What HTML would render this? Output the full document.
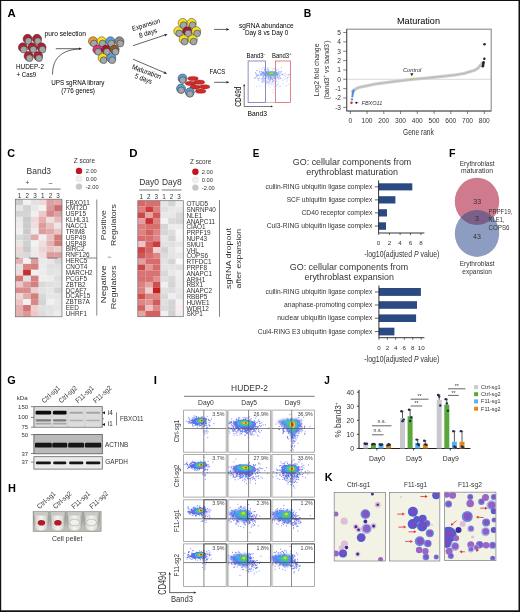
<!DOCTYPE html>
<html><head><meta charset="utf-8"><style>
html,body{margin:0;padding:0;background:#fff;width:520px;height:612px;overflow:hidden}
svg{display:block;will-change:transform}
text{font-family:"Liberation Sans",sans-serif}
</style></head><body>
<svg width="520" height="612" viewBox="0 0 520 612">
<defs><filter id="bl" x="-20%" y="-50%" width="140%" height="200%"><feGaussianBlur stdDeviation="0.45"/></filter><filter id="bl2" x="-30%" y="-30%" width="160%" height="160%"><feGaussianBlur stdDeviation="0.6"/></filter><filter id="bl3" x="-30%" y="-30%" width="160%" height="160%"><feGaussianBlur stdDeviation="0.9"/></filter></defs>
<rect x="0" y="0" width="520" height="612" fill="#fff"/>
<text x="7.6" y="17.1" font-size="10.3" font-weight="bold" fill="#000" textLength="8.2" lengthAdjust="spacingAndGlyphs" >A</text>
<circle cx="27.60" cy="38.90" r="4.55" fill="#b21f2f" stroke="#3a1a1a" stroke-width="0.45" />
<circle cx="28.50" cy="41.10" r="3.40" fill="#a3a6a9" stroke="#2e2e2e" stroke-width="0.5" />
<circle cx="37.00" cy="38.90" r="4.55" fill="#b21f2f" stroke="#3a1a1a" stroke-width="0.45" />
<circle cx="37.90" cy="41.10" r="3.40" fill="#a3a6a9" stroke="#2e2e2e" stroke-width="0.5" />
<circle cx="22.90" cy="47.40" r="4.55" fill="#b21f2f" stroke="#3a1a1a" stroke-width="0.45" />
<circle cx="23.80" cy="49.60" r="3.40" fill="#a3a6a9" stroke="#2e2e2e" stroke-width="0.5" />
<circle cx="32.40" cy="47.40" r="4.55" fill="#b21f2f" stroke="#3a1a1a" stroke-width="0.45" />
<circle cx="33.30" cy="49.60" r="3.40" fill="#a3a6a9" stroke="#2e2e2e" stroke-width="0.5" />
<circle cx="41.50" cy="47.40" r="4.55" fill="#b21f2f" stroke="#3a1a1a" stroke-width="0.45" />
<circle cx="42.40" cy="49.60" r="3.40" fill="#a3a6a9" stroke="#2e2e2e" stroke-width="0.5" />
<circle cx="28.60" cy="56.00" r="4.55" fill="#b21f2f" stroke="#3a1a1a" stroke-width="0.45" />
<circle cx="29.50" cy="58.20" r="3.40" fill="#a3a6a9" stroke="#2e2e2e" stroke-width="0.5" />
<circle cx="38.10" cy="56.00" r="4.55" fill="#b21f2f" stroke="#3a1a1a" stroke-width="0.45" />
<circle cx="39.00" cy="58.20" r="3.40" fill="#a3a6a9" stroke="#2e2e2e" stroke-width="0.5" />
<text x="16" y="69" font-size="6.8" textLength="28" lengthAdjust="spacingAndGlyphs" >HUDEP-2</text>
<text x="16.6" y="76.8" font-size="6.8" textLength="19.5" lengthAdjust="spacingAndGlyphs" >+ Cas9</text>
<text x="44.6" y="36.0" font-size="6.8" textLength="41.4" lengthAdjust="spacingAndGlyphs" >puro selection</text>
<line x1="55.8" y1="48.7" x2="79.0" y2="48.7" stroke="#231f20" stroke-width="0.7" />
<path d="M82.00,48.70 L79.00,50.00 L79.00,47.40 Z" fill="#231f20"/>
<path d="M52.5,74.5 C52.5,58 62,50 79,49" fill="none" stroke="#231f20" stroke-width="0.7"/>
<text x="51.2" y="85.2" font-size="6.8" textLength="53.3" lengthAdjust="spacingAndGlyphs" >UPS sgRNA library</text>
<text x="61.2" y="92.9" font-size="6.8" textLength="33.8" lengthAdjust="spacingAndGlyphs" >(776 genes)</text>
<circle cx="93.00" cy="41.30" r="4.55" fill="#eb9d2c" stroke="#3a1a1a" stroke-width="0.45" />
<circle cx="93.90" cy="43.50" r="3.40" fill="#a3a6a9" stroke="#2e2e2e" stroke-width="0.5" />
<circle cx="101.70" cy="41.30" r="4.55" fill="#f2e31b" stroke="#3a1a1a" stroke-width="0.45" />
<circle cx="102.60" cy="43.50" r="3.40" fill="#a3a6a9" stroke="#2e2e2e" stroke-width="0.5" />
<circle cx="110.40" cy="41.30" r="4.55" fill="#4ea6df" stroke="#3a1a1a" stroke-width="0.45" />
<circle cx="111.30" cy="43.50" r="3.40" fill="#a3a6a9" stroke="#2e2e2e" stroke-width="0.5" />
<circle cx="119.40" cy="41.30" r="4.55" fill="#8a8a8a" stroke="#3a1a1a" stroke-width="0.45" />
<circle cx="120.30" cy="43.50" r="3.40" fill="#a3a6a9" stroke="#2e2e2e" stroke-width="0.5" />
<circle cx="97.30" cy="49.60" r="4.55" fill="#e0327f" stroke="#3a1a1a" stroke-width="0.45" />
<circle cx="98.20" cy="51.80" r="3.40" fill="#a3a6a9" stroke="#2e2e2e" stroke-width="0.5" />
<circle cx="106.00" cy="49.60" r="4.55" fill="#a5192a" stroke="#3a1a1a" stroke-width="0.45" />
<circle cx="106.90" cy="51.80" r="3.40" fill="#a3a6a9" stroke="#2e2e2e" stroke-width="0.5" />
<circle cx="114.60" cy="49.60" r="4.55" fill="#8d5a2a" stroke="#3a1a1a" stroke-width="0.45" />
<circle cx="115.50" cy="51.80" r="3.40" fill="#a3a6a9" stroke="#2e2e2e" stroke-width="0.5" />
<circle cx="102.70" cy="58.00" r="4.55" fill="#f2e31b" stroke="#3a1a1a" stroke-width="0.45" />
<circle cx="103.60" cy="60.20" r="3.40" fill="#a3a6a9" stroke="#2e2e2e" stroke-width="0.5" />
<circle cx="111.30" cy="58.00" r="4.55" fill="#4ea6df" stroke="#3a1a1a" stroke-width="0.45" />
<circle cx="112.20" cy="60.20" r="3.40" fill="#a3a6a9" stroke="#2e2e2e" stroke-width="0.5" />
<line x1="133" y1="45.7" x2="164.65395010584845" y2="35.148683298050514" stroke="#231f20" stroke-width="0.7" />
<path d="M167.50,34.20 L165.07,36.38 L164.24,33.92 Z" fill="#231f20"/>
<line x1="133" y1="59.2" x2="164.2404702258237" y2="72.52314171395423" stroke="#231f20" stroke-width="0.7" />
<path d="M167.00,73.70 L163.73,73.72 L164.75,71.33 Z" fill="#231f20"/>
<text transform="translate(146.6,27.0) rotate(-17) scale(0.8963,1)" font-size="7.0" text-anchor="middle" >Expansion</text>
<text transform="translate(148.6,35.2) rotate(-17) scale(0.8970,1)" font-size="7.0" text-anchor="middle" >8 days</text>
<text transform="translate(145.8,74.0) rotate(20) scale(0.8966,1)" font-size="7.2" text-anchor="middle" >Maturation</text>
<text transform="translate(142.7,81.0) rotate(20) scale(0.8485,1)" font-size="7.2" text-anchor="middle" >5 days</text>
<circle cx="182.70" cy="23.00" r="4.55" fill="#f2e31b" stroke="#3a1a1a" stroke-width="0.45" />
<circle cx="183.60" cy="25.20" r="3.40" fill="#a3a6a9" stroke="#2e2e2e" stroke-width="0.5" />
<circle cx="191.70" cy="23.00" r="4.55" fill="#f2e31b" stroke="#3a1a1a" stroke-width="0.45" />
<circle cx="192.60" cy="25.20" r="3.40" fill="#a3a6a9" stroke="#2e2e2e" stroke-width="0.5" />
<circle cx="178.30" cy="31.20" r="4.55" fill="#f2e31b" stroke="#3a1a1a" stroke-width="0.45" />
<circle cx="179.20" cy="33.40" r="3.40" fill="#a3a6a9" stroke="#2e2e2e" stroke-width="0.5" />
<circle cx="187.30" cy="31.20" r="4.55" fill="#a5192a" stroke="#3a1a1a" stroke-width="0.45" />
<circle cx="188.20" cy="33.40" r="3.40" fill="#a3a6a9" stroke="#2e2e2e" stroke-width="0.5" />
<circle cx="196.20" cy="31.20" r="4.55" fill="#f2e31b" stroke="#3a1a1a" stroke-width="0.45" />
<circle cx="197.10" cy="33.40" r="3.40" fill="#a3a6a9" stroke="#2e2e2e" stroke-width="0.5" />
<circle cx="183.70" cy="39.40" r="4.55" fill="#f2e31b" stroke="#3a1a1a" stroke-width="0.45" />
<circle cx="184.60" cy="41.60" r="3.40" fill="#a3a6a9" stroke="#2e2e2e" stroke-width="0.5" />
<circle cx="192.70" cy="39.40" r="4.55" fill="#f2e31b" stroke="#3a1a1a" stroke-width="0.45" />
<circle cx="193.60" cy="41.60" r="3.40" fill="#a3a6a9" stroke="#2e2e2e" stroke-width="0.5" />
<line x1="214" y1="29.4" x2="226.3" y2="29.4" stroke="#231f20" stroke-width="0.7" />
<path d="M229.30,29.40 L226.30,30.70 L226.30,28.10 Z" fill="#231f20"/>
<text x="239.1" y="27.6" font-size="6.3" textLength="54.5" lengthAdjust="spacingAndGlyphs" >sgRNA abundance</text>
<text x="244.9" y="35.3" font-size="6.3" textLength="43.4" lengthAdjust="spacingAndGlyphs" >Day 8 vs Day 0</text>
<ellipse cx="193" cy="78.5" rx="5.2" ry="2.1" fill="#d42a26" stroke="#6a1010" stroke-width="0.35"/>
<ellipse cx="199.4" cy="82.2" rx="5.2" ry="2.1" fill="#d42a26" stroke="#6a1010" stroke-width="0.35"/>
<ellipse cx="190.5" cy="83.4" rx="5.2" ry="2.1" fill="#d42a26" stroke="#6a1010" stroke-width="0.35"/>
<ellipse cx="195.2" cy="87.1" rx="5.2" ry="2.1" fill="#d42a26" stroke="#6a1010" stroke-width="0.35"/>
<ellipse cx="204.6" cy="86.8" rx="5.2" ry="2.1" fill="#d42a26" stroke="#6a1010" stroke-width="0.35"/>
<ellipse cx="200.6" cy="91.2" rx="5.2" ry="2.1" fill="#d42a26" stroke="#6a1010" stroke-width="0.35"/>
<circle cx="182.50" cy="78.50" r="4.50" fill="#4ea6df" stroke="#3a1a1a" stroke-width="0.45" />
<circle cx="182.70" cy="80.10" r="3.30" fill="#a3a6a9" stroke="#2e2e2e" stroke-width="0.5" />
<circle cx="181.00" cy="88.60" r="4.50" fill="#4ea6df" stroke="#3a1a1a" stroke-width="0.45" />
<circle cx="181.20" cy="90.20" r="3.30" fill="#a3a6a9" stroke="#2e2e2e" stroke-width="0.5" />
<circle cx="189.80" cy="92.30" r="4.50" fill="#4ea6df" stroke="#3a1a1a" stroke-width="0.45" />
<circle cx="190.00" cy="93.90" r="3.30" fill="#a3a6a9" stroke="#2e2e2e" stroke-width="0.5" />
<text x="209.6" y="74.1" font-size="6.8" textLength="15.6" lengthAdjust="spacingAndGlyphs" >FACS</text>
<line x1="214.2" y1="82.3" x2="226.4" y2="82.3" stroke="#231f20" stroke-width="0.7" />
<path d="M229.40,82.30 L226.40,83.60 L226.40,81.00 Z" fill="#231f20"/>
<text x="246.5" y="57.8" font-size="6.3" textLength="17.0" lengthAdjust="spacingAndGlyphs" >Band3</text>
<text x="263.6" y="55.0" font-size="4" >-</text>
<text x="272.1" y="57.8" font-size="6.3" textLength="17.0" lengthAdjust="spacingAndGlyphs" >Band3</text>
<text x="289.0" y="55.3" font-size="4.2" >+</text>
<rect x="248.10" y="61.00" width="17.50" height="41.40" fill="none" stroke="#5560a8" stroke-width="0.7" />
<rect x="275.50" y="61.00" width="15.00" height="41.40" fill="none" stroke="#d05050" stroke-width="0.7" />
<line x1="265.6" y1="102.4" x2="275.5" y2="102.4" stroke="#888" stroke-width="0.5" />
<line x1="244.2" y1="106.5" x2="244.2" y2="86.2" stroke="#231f20" stroke-width="0.6" />
<path d="M244.20,84.00 L245.30,86.20 L243.10,86.20 Z" fill="#231f20"/>
<line x1="244.2" y1="106.5" x2="270.8" y2="106.5" stroke="#231f20" stroke-width="0.6" />
<path d="M273.00,106.50 L270.80,107.60 L270.80,105.40 Z" fill="#231f20"/>
<text transform="translate(241.0,96.7) rotate(-90) scale(0.6760,1)" font-size="9.6" text-anchor="middle" >CD49d</text>
<text x="247.6" y="115.8" font-size="7.8" textLength="19.4" lengthAdjust="spacingAndGlyphs" >Band3</text>
<path d="M259.8 76.7h0M276.5 73.9h0M259.0 75.3h0M272.6 79.0h0M259.9 71.4h0M274.3 77.0h0M280.5 78.6h0M268.2 74.6h0M288.3 74.6h0M263.1 71.9h0M269.7 76.0h0M266.4 75.3h0M271.0 77.7h0M277.2 76.2h0M255.6 77.7h0M258.4 75.0h0M257.9 75.5h0M263.2 76.2h0M275.3 71.3h0M266.8 77.6h0M268.3 76.7h0M269.8 72.3h0M273.2 72.9h0M283.0 73.9h0M274.1 75.5h0M276.1 73.6h0M276.5 75.1h0M278.5 77.5h0M270.1 73.0h0M274.8 77.0h0M281.3 74.3h0M273.2 77.1h0M271.1 76.2h0M270.4 73.6h0M261.4 74.2h0M273.4 80.3h0M276.3 78.9h0M274.8 77.7h0M270.4 78.0h0M282.3 74.5h0M263.8 81.8h0M270.8 78.6h0M275.6 71.9h0M287.3 81.2h0M270.3 77.9h0M270.0 72.7h0M268.2 76.7h0M277.4 77.8h0M269.4 79.8h0M263.3 78.0h0M277.3 74.6h0M255.6 72.6h0M270.8 77.2h0M280.6 72.3h0M269.0 77.6h0M267.8 67.9h0M275.0 82.9h0M276.5 72.6h0M265.9 76.2h0M287.7 77.5h0M269.9 80.5h0M268.4 81.5h0M263.9 74.0h0M274.4 80.1h0M273.9 76.5h0M255.3 73.2h0M264.4 73.8h0M273.4 74.4h0M274.9 75.8h0M266.5 75.9h0M272.2 78.2h0M265.4 74.8h0M258.8 80.6h0M279.9 74.9h0M265.4 71.5h0M270.3 76.2h0M285.4 76.3h0M263.2 67.7h0M279.6 76.1h0M256.9 76.1h0M256.9 86.6h0M277.4 77.3h0M267.7 68.7h0M268.1 70.5h0M273.5 68.7h0M262.2 79.4h0M281.3 71.7h0M257.5 78.3h0M275.4 72.3h0M263.8 73.3h0M260.1 73.3h0M278.4 77.7h0M284.4 75.2h0M268.0 72.4h0M268.1 71.3h0M255.7 77.7h0M279.8 78.2h0M279.0 76.3h0M263.6 75.8h0M266.2 71.9h0M256.3 70.8h0M269.0 76.0h0M265.4 80.1h0M270.3 77.4h0M278.1 72.9h0M254.2 77.9h0M263.8 79.7h0M271.5 78.7h0M274.7 68.8h0M274.4 73.3h0M263.3 74.1h0M274.8 78.3h0M276.6 70.2h0M264.6 67.9h0M268.2 77.4h0M263.3 76.3h0M270.7 78.7h0M262.8 72.8h0M263.3 81.1h0M277.2 75.1h0M270.7 75.9h0M270.5 74.8h0M266.5 71.5h0M264.2 80.8h0M273.0 75.7h0M267.4 75.7h0M271.7 73.4h0M270.5 76.3h0M263.4 73.0h0M261.5 72.1h0M275.7 67.9h0M267.0 73.5h0M264.4 75.8h0M277.5 75.7h0M267.9 73.5h0M268.0 78.4h0M266.0 71.8h0M259.5 72.0h0M258.6 79.0h0M271.7 74.7h0M279.9 73.4h0M274.6 78.1h0M257.4 70.5h0M262.0 78.4h0M278.7 71.6h0M276.9 74.3h0M266.0 73.7h0M266.6 69.7h0M261.5 71.5h0M272.7 82.2h0M289.5 74.4h0M256.1 74.2h0M262.0 81.8h0M273.3 73.2h0M276.0 77.2h0M256.8 73.8h0M267.2 75.6h0M270.0 74.4h0M270.4 73.6h0M262.3 80.4h0M271.7 76.9h0M257.0 75.0h0M275.1 71.4h0M277.2 74.3h0M272.0 75.1h0M270.6 79.4h0M266.0 80.5h0M263.1 72.5h0M274.3 72.1h0M266.2 78.4h0M278.1 69.8h0M272.8 81.5h0M278.0 74.7h0M264.5 74.6h0M260.4 74.7h0M267.6 75.0h0M277.9 74.8h0M258.1 78.9h0M261.0 74.1h0M268.0 74.4h0M261.5 74.7h0M285.4 73.6h0M268.0 79.1h0M274.6 77.9h0M275.5 69.2h0M262.5 75.9h0M272.7 79.6h0M272.5 74.7h0M269.3 74.8h0M270.9 77.7h0M266.5 72.9h0M262.6 79.0h0M278.6 78.7h0M275.4 78.2h0M269.0 77.6h0M261.1 74.9h0M263.5 77.8h0M264.7 75.2h0M272.0 79.8h0M263.1 72.5h0M275.1 72.0h0M272.4 73.7h0M268.2 69.7h0M274.4 73.9h0M262.3 82.1h0M274.3 86.7h0M272.1 74.4h0M269.8 80.6h0M268.8 76.9h0M272.9 72.6h0M270.0 73.9h0M259.7 78.3h0M274.0 75.7h0M262.2 69.1h0M272.6 75.2h0M256.4 75.3h0M257.6 75.4h0M270.1 76.6h0M270.6 76.0h0M260.5 74.3h0M265.2 74.7h0M271.0 77.5h0M281.3 67.3h0M272.0 74.9h0M286.1 78.5h0M256.6 76.8h0M265.1 78.7h0M261.1 75.2h0M268.0 75.2h0M264.6 69.6h0M272.5 78.7h0M268.5 72.2h0M270.5 77.3h0M267.7 75.5h0M279.6 71.9h0M264.8 69.4h0M263.8 73.1h0M261.8 73.3h0M282.5 74.9h0M268.1 82.5h0M268.5 70.0h0M272.0 72.5h0M281.3 71.5h0M264.6 70.4h0M269.7 72.3h0M268.5 74.3h0M264.4 78.5h0M276.0 75.7h0M262.2 72.1h0M271.0 83.2h0M265.6 73.0h0M263.8 72.0h0M261.7 74.8h0M279.8 75.5h0M265.2 70.3h0M270.6 75.4h0M259.8 72.0h0M268.7 78.7h0M273.7 76.2h0" stroke="#8090f0" stroke-width="0.6" stroke-linecap="square"/>
<path d="M270.4 81.4h0M272.9 89.8h0M263.9 78.3h0M283.1 78.8h0M284.4 79.8h0M274.2 78.3h0M262.0 75.6h0M290.7 82.9h0M277.8 84.3h0M277.6 84.6h0M270.9 79.0h0M280.9 78.4h0M262.4 79.0h0M268.6 82.8h0M267.2 75.2h0M270.3 87.0h0M272.6 80.7h0M273.1 81.3h0M280.4 86.3h0M259.8 86.1h0M273.0 78.6h0M288.6 84.4h0M264.8 82.2h0M278.9 79.4h0M254.4 78.5h0M271.5 75.0h0M287.6 78.9h0M269.9 78.7h0M266.7 76.5h0M273.8 81.4h0M268.9 79.6h0M261.9 82.3h0M267.0 81.0h0M265.7 77.7h0M274.7 74.5h0M272.4 76.7h0M285.8 86.2h0M275.4 73.8h0M269.0 82.8h0M268.9 74.7h0M263.5 76.5h0M273.1 77.1h0M273.1 92.6h0M287.2 75.3h0M275.7 80.4h0M271.9 84.7h0M270.3 78.5h0M270.0 79.5h0M283.3 83.5h0M262.3 78.0h0M266.6 83.7h0M274.8 84.0h0M272.5 71.4h0M276.6 81.0h0M277.1 74.1h0M273.7 76.9h0M267.5 81.6h0M275.8 76.0h0M259.3 68.9h0M268.4 85.1h0M272.6 69.9h0M266.1 81.9h0M286.4 85.3h0M275.9 80.9h0M264.5 78.0h0M270.3 76.5h0M273.5 78.2h0M275.7 86.5h0M278.9 81.9h0M271.1 73.2h0M272.1 82.4h0M264.9 85.6h0M270.3 81.7h0M270.4 74.3h0M289.5 74.8h0M280.3 77.5h0M275.2 76.4h0M269.7 84.1h0M288.6 76.2h0M273.1 84.3h0M268.0 83.2h0M266.7 82.7h0M276.5 85.5h0M275.9 74.6h0M278.3 75.0h0M279.0 86.8h0M277.8 77.5h0M282.5 80.8h0" stroke="#a0b0f8" stroke-width="0.6" stroke-linecap="square"/>
<g filter="url(#bl2)"><ellipse cx="270.50" cy="73.60" rx="9" ry="2.6" fill="#7a8cf0" opacity="0.55" transform="rotate(0 270.50 73.60)"/><ellipse cx="271.00" cy="73.30" rx="6.0" ry="1.8" fill="#40b8e0" opacity="0.8" transform="rotate(0 271.00 73.30)"/><ellipse cx="271.30" cy="73.30" rx="4.0" ry="1.3" fill="#70c850" opacity="0.95" transform="rotate(0 271.30 73.30)"/><ellipse cx="271.50" cy="73.20" rx="2.0" ry="0.8" fill="#c8d840" opacity="0.9" transform="rotate(0 271.50 73.20)"/></g>
<text x="303.8" y="17.0" font-size="10.3" font-weight="bold" fill="#000" textLength="7.5" lengthAdjust="spacingAndGlyphs" >B</text>
<text x="397" y="23.7" font-size="9.2" textLength="43" lengthAdjust="spacingAndGlyphs" >Maturation</text>
<line x1="346.7" y1="79.3" x2="491.2" y2="79.3" stroke="#b0b0b0" stroke-width="0.5" />
<path d="M352.31,91.47 L352.81,91.12 L353.31,90.77 L353.82,90.41 L354.32,90.06 L354.82,89.71 L355.32,89.36 L355.83,89.01 L356.33,88.66 L356.83,88.31 L357.34,88.08 L357.84,87.91 L358.34,87.74 L358.84,87.57 L359.35,87.41 L359.85,87.24 L360.35,87.07 L360.85,86.97 L361.36,86.87 L361.86,86.77 L362.36,86.67 L362.86,86.58 L363.37,86.48 L363.87,86.38 L364.37,86.28 L364.87,86.18 L365.38,86.08 L365.88,85.98 L366.38,85.88 L366.88,85.78 L367.38,85.68 L367.89,85.57 L368.39,85.46 L368.89,85.36 L369.40,85.25 L369.90,85.15 L370.40,85.04 L370.90,84.93 L371.41,84.83 L371.91,84.72 L372.41,84.62 L372.91,84.51 L373.42,84.40 L373.92,84.30 L374.42,84.19 L374.92,84.09 L375.43,83.98 L375.93,83.91 L376.43,83.85 L376.93,83.78 L377.44,83.71 L377.94,83.64 L378.44,83.58 L378.94,83.51 L379.44,83.44 L379.95,83.37 L380.45,83.31 L380.95,83.24 L381.46,83.17 L381.96,83.10 L382.46,83.04 L382.96,82.97 L383.47,82.90 L383.97,82.84 L384.47,82.77 L384.97,82.71 L385.48,82.65 L385.98,82.58 L386.48,82.52 L386.98,82.45 L387.49,82.39 L387.99,82.33 L388.49,82.26 L388.99,82.20 L389.50,82.14 L390.00,82.07 L390.50,82.01 L391.00,81.95 L391.50,81.88 L392.01,81.82 L392.51,81.76 L393.01,81.69 L393.51,81.63 L394.02,81.57 L394.52,81.50 L395.02,81.44 L395.53,81.38 L396.03,81.31 L396.53,81.25 L397.03,81.19 L397.54,81.12 L398.04,81.06 L398.54,80.99 L399.04,80.93 L399.55,80.87 L400.05,80.80 L400.55,80.74 L401.05,80.68 L401.56,80.61 L402.06,80.55 L402.56,80.49 L403.06,80.42 L403.56,80.36 L404.07,80.30 L404.57,80.24 L405.07,80.18 L405.58,80.12 L406.08,80.06 L406.58,79.99 L407.08,79.93 L407.59,79.87 L408.09,79.81 L408.59,79.75 L409.09,79.69 L409.60,79.63 L410.10,79.57 L410.60,79.50 L411.10,79.44 L411.61,79.38 L412.11,79.32 L412.61,79.27 L413.11,79.23 L413.62,79.19 L414.12,79.15 L414.62,79.10 L415.12,79.06 L415.62,79.02 L416.13,78.98 L416.63,78.93 L417.13,78.89 L417.63,78.85 L418.14,78.81 L418.64,78.77 L419.14,78.72 L419.64,78.68 L420.15,78.64 L420.65,78.60 L421.15,78.56 L421.66,78.51 L422.16,78.47 L422.66,78.43 L423.16,78.39 L423.67,78.35 L424.17,78.30 L424.67,78.26 L425.17,78.22 L425.68,78.18 L426.18,78.12 L426.68,78.07 L427.18,78.01 L427.69,77.96 L428.19,77.91 L428.69,77.85 L429.19,77.80 L429.70,77.74 L430.20,77.69 L430.70,77.64 L431.20,77.58 L431.71,77.53 L432.21,77.47 L432.71,77.42 L433.21,77.36 L433.72,77.31 L434.22,77.26 L434.72,77.20 L435.22,77.15 L435.73,77.09 L436.23,77.04 L436.73,76.99 L437.23,76.93 L437.74,76.88 L438.24,76.82 L438.74,76.77 L439.24,76.72 L439.75,76.66 L440.25,76.61 L440.75,76.55 L441.25,76.50 L441.75,76.44 L442.26,76.39 L442.76,76.33 L443.26,76.28 L443.76,76.22 L444.27,76.17 L444.77,76.11 L445.27,76.06 L445.78,76.00 L446.28,75.95 L446.78,75.89 L447.28,75.84 L447.79,75.78 L448.29,75.73 L448.79,75.67 L449.29,75.62 L449.80,75.56 L450.30,75.51 L450.80,75.45 L451.30,75.40 L451.81,75.34 L452.31,75.29 L452.81,75.23 L453.31,75.18 L453.81,75.12 L454.32,75.06 L454.82,74.98 L455.32,74.90 L455.83,74.82 L456.33,74.74 L456.83,74.66 L457.33,74.58 L457.84,74.50 L458.34,74.42 L458.84,74.35 L459.34,74.27 L459.85,74.19 L460.35,74.11 L460.85,74.03 L461.35,73.95 L461.86,73.87 L462.36,73.79 L462.86,73.71 L463.36,73.63 L463.87,73.55 L464.37,73.44 L464.87,73.27 L465.37,73.11 L465.88,72.94 L466.38,72.78 L466.88,72.61 L467.38,72.44 L467.88,72.28 L468.39,72.11 L468.89,71.95 L469.39,71.81 L469.90,71.66 L470.40,71.52 L470.90,71.37 L471.40,71.23 L471.91,71.08 L472.41,70.94 L472.91,70.79 L473.41,70.65 L473.92,70.50 L474.42,70.31 L474.92,70.03 L475.42,69.75 L475.93,69.47 L476.43,69.19 L476.93,68.91 L477.43,68.63 L477.94,68.18 L478.44,67.64 L478.94,67.10 L479.44,66.56 L479.95,65.97 L480.45,65.28 L480.95,64.59 L481.45,63.86 L481.96,63.01" fill="none" stroke="#d0d0d0" stroke-width="3.2" stroke-linejoin="round" stroke-linecap="round"/>
<path d="M352.31,91.47 L352.81,91.12 L353.31,90.77 L353.82,90.41 L354.32,90.06 L354.82,89.71 L355.32,89.36 L355.83,89.01 L356.33,88.66 L356.83,88.31 L357.34,88.08 L357.84,87.91 L358.34,87.74 L358.84,87.57 L359.35,87.41 L359.85,87.24 L360.35,87.07 L360.85,86.97 L361.36,86.87 L361.86,86.77 L362.36,86.67 L362.86,86.58 L363.37,86.48 L363.87,86.38 L364.37,86.28 L364.87,86.18 L365.38,86.08 L365.88,85.98 L366.38,85.88 L366.88,85.78 L367.38,85.68 L367.89,85.57 L368.39,85.46 L368.89,85.36 L369.40,85.25 L369.90,85.15 L370.40,85.04 L370.90,84.93 L371.41,84.83 L371.91,84.72 L372.41,84.62 L372.91,84.51 L373.42,84.40 L373.92,84.30 L374.42,84.19 L374.92,84.09 L375.43,83.98 L375.93,83.91 L376.43,83.85 L376.93,83.78 L377.44,83.71 L377.94,83.64 L378.44,83.58 L378.94,83.51 L379.44,83.44 L379.95,83.37 L380.45,83.31 L380.95,83.24 L381.46,83.17 L381.96,83.10 L382.46,83.04 L382.96,82.97 L383.47,82.90 L383.97,82.84 L384.47,82.77 L384.97,82.71 L385.48,82.65 L385.98,82.58 L386.48,82.52 L386.98,82.45 L387.49,82.39 L387.99,82.33 L388.49,82.26 L388.99,82.20 L389.50,82.14 L390.00,82.07 L390.50,82.01 L391.00,81.95 L391.50,81.88 L392.01,81.82 L392.51,81.76 L393.01,81.69 L393.51,81.63 L394.02,81.57 L394.52,81.50 L395.02,81.44 L395.53,81.38 L396.03,81.31 L396.53,81.25 L397.03,81.19 L397.54,81.12 L398.04,81.06 L398.54,80.99 L399.04,80.93 L399.55,80.87 L400.05,80.80 L400.55,80.74 L401.05,80.68 L401.56,80.61 L402.06,80.55 L402.56,80.49 L403.06,80.42 L403.56,80.36 L404.07,80.30 L404.57,80.24 L405.07,80.18 L405.58,80.12 L406.08,80.06 L406.58,79.99 L407.08,79.93 L407.59,79.87 L408.09,79.81 L408.59,79.75 L409.09,79.69 L409.60,79.63 L410.10,79.57 L410.60,79.50 L411.10,79.44 L411.61,79.38 L412.11,79.32 L412.61,79.27 L413.11,79.23 L413.62,79.19 L414.12,79.15 L414.62,79.10 L415.12,79.06 L415.62,79.02 L416.13,78.98 L416.63,78.93 L417.13,78.89 L417.63,78.85 L418.14,78.81 L418.64,78.77 L419.14,78.72 L419.64,78.68 L420.15,78.64 L420.65,78.60 L421.15,78.56 L421.66,78.51 L422.16,78.47 L422.66,78.43 L423.16,78.39 L423.67,78.35 L424.17,78.30 L424.67,78.26 L425.17,78.22 L425.68,78.18 L426.18,78.12 L426.68,78.07 L427.18,78.01 L427.69,77.96 L428.19,77.91 L428.69,77.85 L429.19,77.80 L429.70,77.74 L430.20,77.69 L430.70,77.64 L431.20,77.58 L431.71,77.53 L432.21,77.47 L432.71,77.42 L433.21,77.36 L433.72,77.31 L434.22,77.26 L434.72,77.20 L435.22,77.15 L435.73,77.09 L436.23,77.04 L436.73,76.99 L437.23,76.93 L437.74,76.88 L438.24,76.82 L438.74,76.77 L439.24,76.72 L439.75,76.66 L440.25,76.61 L440.75,76.55 L441.25,76.50 L441.75,76.44 L442.26,76.39 L442.76,76.33 L443.26,76.28 L443.76,76.22 L444.27,76.17 L444.77,76.11 L445.27,76.06 L445.78,76.00 L446.28,75.95 L446.78,75.89 L447.28,75.84 L447.79,75.78 L448.29,75.73 L448.79,75.67 L449.29,75.62 L449.80,75.56 L450.30,75.51 L450.80,75.45 L451.30,75.40 L451.81,75.34 L452.31,75.29 L452.81,75.23 L453.31,75.18 L453.81,75.12 L454.32,75.06 L454.82,74.98 L455.32,74.90 L455.83,74.82 L456.33,74.74 L456.83,74.66 L457.33,74.58 L457.84,74.50 L458.34,74.42 L458.84,74.35 L459.34,74.27 L459.85,74.19 L460.35,74.11 L460.85,74.03 L461.35,73.95 L461.86,73.87 L462.36,73.79 L462.86,73.71 L463.36,73.63 L463.87,73.55 L464.37,73.44 L464.87,73.27 L465.37,73.11 L465.88,72.94 L466.38,72.78 L466.88,72.61 L467.38,72.44 L467.88,72.28 L468.39,72.11 L468.89,71.95 L469.39,71.81 L469.90,71.66 L470.40,71.52 L470.90,71.37 L471.40,71.23 L471.91,71.08 L472.41,70.94 L472.91,70.79 L473.41,70.65 L473.92,70.50 L474.42,70.31 L474.92,70.03 L475.42,69.75 L475.93,69.47 L476.43,69.19 L476.93,68.91 L477.43,68.63 L477.94,68.18 L478.44,67.64 L478.94,67.10 L479.44,66.56 L479.95,65.97 L480.45,65.28 L480.95,64.59 L481.45,63.86 L481.96,63.01" fill="none" stroke="#bdbdbd" stroke-width="1.4" stroke-linejoin="round"/>
<circle cx="352.00" cy="99.40" r="1.15" fill="#4a8ad8" />
<circle cx="352.40" cy="96.30" r="1.15" fill="#4a8ad8" />
<circle cx="352.60" cy="94.80" r="1.15" fill="#4a8ad8" />
<circle cx="352.90" cy="93.30" r="1.15" fill="#4a8ad8" />
<circle cx="353.20" cy="91.90" r="1.15" fill="#4a8ad8" />
<circle cx="353.60" cy="90.70" r="1.15" fill="#4a8ad8" />
<circle cx="351.50" cy="102.70" r="1.20" fill="#d62020" />
<circle cx="411.80" cy="79.50" r="1.10" fill="#e8b820" />
<circle cx="484.50" cy="44.30" r="1.25" fill="#222" />
<circle cx="484.30" cy="58.80" r="1.25" fill="#222" />
<circle cx="483.60" cy="62.30" r="1.25" fill="#222" />
<circle cx="483.30" cy="63.60" r="1.25" fill="#222" />
<circle cx="483.20" cy="65.00" r="1.25" fill="#222" />
<circle cx="482.80" cy="66.20" r="1.25" fill="#222" />
<rect x="346.70" y="29.20" width="144.50" height="81.80" fill="none" stroke="#8c8c8c" stroke-width="1.1" />
<line x1="346.7" y1="29.2" x2="346.7" y2="111" stroke="#555" stroke-width="0.9" />
<line x1="346.7" y1="111" x2="491.2" y2="111" stroke="#555" stroke-width="0.9" />
<line x1="343.2" y1="107.38" x2="346.7" y2="107.38" stroke="#4a4a4a" stroke-width="0.7" />
<text x="341" y="109.67999999999999" font-size="6.6" text-anchor="end" fill="#333" >-3</text>
<line x1="343.2" y1="98.02" x2="346.7" y2="98.02" stroke="#4a4a4a" stroke-width="0.7" />
<text x="341" y="100.32" font-size="6.6" text-anchor="end" fill="#333" >-2</text>
<line x1="343.2" y1="88.66" x2="346.7" y2="88.66" stroke="#4a4a4a" stroke-width="0.7" />
<text x="341" y="90.96" font-size="6.6" text-anchor="end" fill="#333" >-1</text>
<line x1="343.2" y1="79.3" x2="346.7" y2="79.3" stroke="#4a4a4a" stroke-width="0.7" />
<text x="341" y="81.6" font-size="6.6" text-anchor="end" fill="#333" >0</text>
<line x1="343.2" y1="69.94" x2="346.7" y2="69.94" stroke="#4a4a4a" stroke-width="0.7" />
<text x="341" y="72.24" font-size="6.6" text-anchor="end" fill="#333" >1</text>
<line x1="343.2" y1="60.58" x2="346.7" y2="60.58" stroke="#4a4a4a" stroke-width="0.7" />
<text x="341" y="62.879999999999995" font-size="6.6" text-anchor="end" fill="#333" >2</text>
<line x1="343.2" y1="51.22" x2="346.7" y2="51.22" stroke="#4a4a4a" stroke-width="0.7" />
<text x="341" y="53.519999999999996" font-size="6.6" text-anchor="end" fill="#333" >3</text>
<line x1="343.2" y1="41.86" x2="346.7" y2="41.86" stroke="#4a4a4a" stroke-width="0.7" />
<text x="341" y="44.16" font-size="6.6" text-anchor="end" fill="#333" >4</text>
<line x1="343.2" y1="32.5" x2="346.7" y2="32.5" stroke="#4a4a4a" stroke-width="0.7" />
<text x="341" y="34.8" font-size="6.6" text-anchor="end" fill="#333" >5</text>
<line x1="350.3" y1="111" x2="350.3" y2="114" stroke="#4a4a4a" stroke-width="0.7" />
<text x="350.3" y="123.4" font-size="6.6" text-anchor="middle" fill="#333" >0</text>
<line x1="367.05" y1="111" x2="367.05" y2="114" stroke="#4a4a4a" stroke-width="0.7" />
<text x="367.05" y="123.4" font-size="6.6" text-anchor="middle" fill="#333" >100</text>
<line x1="383.8" y1="111" x2="383.8" y2="114" stroke="#4a4a4a" stroke-width="0.7" />
<text x="383.8" y="123.4" font-size="6.6" text-anchor="middle" fill="#333" >200</text>
<line x1="400.55" y1="111" x2="400.55" y2="114" stroke="#4a4a4a" stroke-width="0.7" />
<text x="400.55" y="123.4" font-size="6.6" text-anchor="middle" fill="#333" >300</text>
<line x1="417.3" y1="111" x2="417.3" y2="114" stroke="#4a4a4a" stroke-width="0.7" />
<text x="417.3" y="123.4" font-size="6.6" text-anchor="middle" fill="#333" >400</text>
<line x1="434.05" y1="111" x2="434.05" y2="114" stroke="#4a4a4a" stroke-width="0.7" />
<text x="434.05" y="123.4" font-size="6.6" text-anchor="middle" fill="#333" >500</text>
<line x1="450.8" y1="111" x2="450.8" y2="114" stroke="#4a4a4a" stroke-width="0.7" />
<text x="450.8" y="123.4" font-size="6.6" text-anchor="middle" fill="#333" >600</text>
<line x1="467.55" y1="111" x2="467.55" y2="114" stroke="#4a4a4a" stroke-width="0.7" />
<text x="467.55" y="123.4" font-size="6.6" text-anchor="middle" fill="#333" >700</text>
<line x1="484.3" y1="111" x2="484.3" y2="114" stroke="#4a4a4a" stroke-width="0.7" />
<text x="484.3" y="123.4" font-size="6.6" text-anchor="middle" fill="#333" >800</text>
<text x="403" y="135" font-size="8.4" fill="#333" textLength="30.8" lengthAdjust="spacingAndGlyphs" >Gene rank</text>
<text transform="translate(319,69.9) rotate(-90) scale(0.8617,1)" font-size="8.0" text-anchor="middle" fill="#333" >Log2 fold change</text>
<text transform="translate(328.6,69.9) rotate(-90) scale(0.885,1)" font-size="8" text-anchor="middle" fill="#333">(band3<tspan font-size="5" dy="-3">+</tspan><tspan dy="3"> vs band3</tspan><tspan font-size="5" dy="-3">-</tspan><tspan dy="3">)</tspan></text>
<line x1="358.5" y1="102.7" x2="357.0" y2="102.7" stroke="#231f20" stroke-width="0.6" />
<path d="M354.60,102.70 L357.00,101.50 L357.00,103.90 Z" fill="#231f20"/>
<text x="361.5" y="104.6" font-size="6.0" font-style="italic" fill="#333" textLength="20.8" lengthAdjust="spacingAndGlyphs" >FBXO11</text>
<text x="403" y="71.5" font-size="6.0" font-style="italic" fill="#333" textLength="18.3" lengthAdjust="spacingAndGlyphs" >Control</text>
<path d="M410.2,73.3 L413.4,73.3 L411.8,76.2 Z" fill="#222"/>
<text x="7.3" y="156.8" font-size="10.3" font-weight="bold" fill="#000" textLength="7.8" lengthAdjust="spacingAndGlyphs" >C</text>
<text x="26.5" y="173.6" font-size="9.0" fill="#333" textLength="24.6" lengthAdjust="spacingAndGlyphs" >Band3</text>
<text x="27.3" y="184.8" font-size="6.5" text-anchor="middle" fill="#333" >+</text>
<text x="50.5" y="184.6" font-size="6.5" text-anchor="middle" fill="#333" >–</text>
<line x1="17.1" y1="189.1" x2="37.3" y2="189.1" stroke="#9a9a9a" stroke-width="1.3" />
<line x1="40.4" y1="189.1" x2="60.6" y2="189.1" stroke="#9a9a9a" stroke-width="1.3" />
<text x="19.5" y="197.6" font-size="6.3" text-anchor="middle" fill="#333" >1</text>
<text x="27.3" y="197.6" font-size="6.3" text-anchor="middle" fill="#333" >2</text>
<text x="35" y="197.6" font-size="6.3" text-anchor="middle" fill="#333" >3</text>
<text x="42.8" y="197.6" font-size="6.3" text-anchor="middle" fill="#333" >1</text>
<text x="50.5" y="197.6" font-size="6.3" text-anchor="middle" fill="#333" >2</text>
<text x="58.1" y="197.6" font-size="6.3" text-anchor="middle" fill="#333" >3</text>
<rect x="15.30" y="199.20" width="7.83" height="5.93" fill="#cccccc"/><rect x="23.08" y="199.20" width="7.83" height="5.93" fill="#f2f2f2"/><rect x="30.86" y="199.20" width="7.83" height="5.93" fill="#e2e2e2"/><rect x="38.64" y="199.20" width="7.83" height="5.93" fill="#f0d8d8"/><rect x="46.42" y="199.20" width="7.83" height="5.93" fill="#dea0a0"/><rect x="54.20" y="199.20" width="7.83" height="5.93" fill="#e0a8a8"/><rect x="15.30" y="205.08" width="7.83" height="5.93" fill="#e6e6e6"/><rect x="23.08" y="205.08" width="7.83" height="5.93" fill="#d2d2d2"/><rect x="30.86" y="205.08" width="7.83" height="5.93" fill="#e8e8e8"/><rect x="38.64" y="205.08" width="7.83" height="5.93" fill="#f2f2f2"/><rect x="46.42" y="205.08" width="7.83" height="5.93" fill="#d89a9a"/><rect x="54.20" y="205.08" width="7.83" height="5.93" fill="#cc6e6e"/><rect x="15.30" y="210.96" width="7.83" height="5.93" fill="#d4d4d4"/><rect x="23.08" y="210.96" width="7.83" height="5.93" fill="#d4d4d4"/><rect x="30.86" y="210.96" width="7.83" height="5.93" fill="#f0f0f0"/><rect x="38.64" y="210.96" width="7.83" height="5.93" fill="#ecc8c8"/><rect x="46.42" y="210.96" width="7.83" height="5.93" fill="#d48a8a"/><rect x="54.20" y="210.96" width="7.83" height="5.93" fill="#dea0a0"/><rect x="15.30" y="216.84" width="7.83" height="5.93" fill="#eaeaea"/><rect x="23.08" y="216.84" width="7.83" height="5.93" fill="#cacaca"/><rect x="30.86" y="216.84" width="7.83" height="5.93" fill="#efd8d8"/><rect x="38.64" y="216.84" width="7.83" height="5.93" fill="#e4aeae"/><rect x="46.42" y="216.84" width="7.83" height="5.93" fill="#efe0e0"/><rect x="54.20" y="216.84" width="7.83" height="5.93" fill="#e6bcbc"/><rect x="15.30" y="222.72" width="7.83" height="5.93" fill="#ececec"/><rect x="23.08" y="222.72" width="7.83" height="5.93" fill="#cacaca"/><rect x="30.86" y="222.72" width="7.83" height="5.93" fill="#f0dede"/><rect x="38.64" y="222.72" width="7.83" height="5.93" fill="#dc9c9c"/><rect x="46.42" y="222.72" width="7.83" height="5.93" fill="#e6c0c0"/><rect x="54.20" y="222.72" width="7.83" height="5.93" fill="#f0e4e4"/><rect x="15.30" y="228.60" width="7.83" height="5.93" fill="#f0f0f0"/><rect x="23.08" y="228.60" width="7.83" height="5.93" fill="#cacaca"/><rect x="30.86" y="228.60" width="7.83" height="5.93" fill="#ececec"/><rect x="38.64" y="228.60" width="7.83" height="5.93" fill="#dc9c9c"/><rect x="46.42" y="228.60" width="7.83" height="5.93" fill="#e0a8a8"/><rect x="54.20" y="228.60" width="7.83" height="5.93" fill="#e8c4c4"/><rect x="15.30" y="234.48" width="7.83" height="5.93" fill="#dadada"/><rect x="23.08" y="234.48" width="7.83" height="5.93" fill="#d2d2d2"/><rect x="30.86" y="234.48" width="7.83" height="5.93" fill="#e0aaaa"/><rect x="38.64" y="234.48" width="7.83" height="5.93" fill="#eeeeee"/><rect x="46.42" y="234.48" width="7.83" height="5.93" fill="#e8c0c0"/><rect x="54.20" y="234.48" width="7.83" height="5.93" fill="#d07a7a"/><rect x="15.30" y="240.36" width="7.83" height="5.93" fill="#e6e6e6"/><rect x="23.08" y="240.36" width="7.83" height="5.93" fill="#d0d0d0"/><rect x="30.86" y="240.36" width="7.83" height="5.93" fill="#f2f2f2"/><rect x="38.64" y="240.36" width="7.83" height="5.93" fill="#eedede"/><rect x="46.42" y="240.36" width="7.83" height="5.93" fill="#e4b4b4"/><rect x="54.20" y="240.36" width="7.83" height="5.93" fill="#d07a7a"/><rect x="15.30" y="246.24" width="7.83" height="5.93" fill="#f0d6d6"/><rect x="23.08" y="246.24" width="7.83" height="5.93" fill="#cacaca"/><rect x="30.86" y="246.24" width="7.83" height="5.93" fill="#ececec"/><rect x="38.64" y="246.24" width="7.83" height="5.93" fill="#ecd4d4"/><rect x="46.42" y="246.24" width="7.83" height="5.93" fill="#e8c4c4"/><rect x="54.20" y="246.24" width="7.83" height="5.93" fill="#ecd0d0"/><rect x="15.30" y="252.12" width="7.83" height="5.93" fill="#dcdcdc"/><rect x="23.08" y="252.12" width="7.83" height="5.93" fill="#d8d8d8"/><rect x="30.86" y="252.12" width="7.83" height="5.93" fill="#f0e8e8"/><rect x="38.64" y="252.12" width="7.83" height="5.93" fill="#eedede"/><rect x="46.42" y="252.12" width="7.83" height="5.93" fill="#dc9c9c"/><rect x="54.20" y="252.12" width="7.83" height="5.93" fill="#dc9e9e"/><rect x="15.30" y="258.00" width="7.83" height="5.93" fill="#e4b0b0"/><rect x="23.08" y="258.00" width="7.83" height="5.93" fill="#f2f2f2"/><rect x="30.86" y="258.00" width="7.83" height="5.93" fill="#dc9c9c"/><rect x="38.64" y="258.00" width="7.83" height="5.93" fill="#eaeaea"/><rect x="46.42" y="258.00" width="7.83" height="5.93" fill="#efe4e4"/><rect x="54.20" y="258.00" width="7.83" height="5.93" fill="#d6d6d6"/><rect x="15.30" y="263.88" width="7.83" height="5.93" fill="#e2e2e2"/><rect x="23.08" y="263.88" width="7.83" height="5.93" fill="#d88484"/><rect x="30.86" y="263.88" width="7.83" height="5.93" fill="#d48080"/><rect x="38.64" y="263.88" width="7.83" height="5.93" fill="#ececec"/><rect x="46.42" y="263.88" width="7.83" height="5.93" fill="#e0e0e0"/><rect x="54.20" y="263.88" width="7.83" height="5.93" fill="#e0e0e0"/><rect x="15.30" y="269.76" width="7.83" height="5.93" fill="#eed8d8"/><rect x="23.08" y="269.76" width="7.83" height="5.93" fill="#c43030"/><rect x="30.86" y="269.76" width="7.83" height="5.93" fill="#f0f0f0"/><rect x="38.64" y="269.76" width="7.83" height="5.93" fill="#ececec"/><rect x="46.42" y="269.76" width="7.83" height="5.93" fill="#e2e2e2"/><rect x="54.20" y="269.76" width="7.83" height="5.93" fill="#e4e4e4"/><rect x="15.30" y="275.64" width="7.83" height="5.93" fill="#d27a7a"/><rect x="23.08" y="275.64" width="7.83" height="5.93" fill="#e2e2e2"/><rect x="30.86" y="275.64" width="7.83" height="5.93" fill="#d68282"/><rect x="38.64" y="275.64" width="7.83" height="5.93" fill="#eeeeee"/><rect x="46.42" y="275.64" width="7.83" height="5.93" fill="#ececec"/><rect x="54.20" y="275.64" width="7.83" height="5.93" fill="#dedede"/><rect x="15.30" y="281.52" width="7.83" height="5.93" fill="#ecc8c8"/><rect x="23.08" y="281.52" width="7.83" height="5.93" fill="#dc9a9a"/><rect x="30.86" y="281.52" width="7.83" height="5.93" fill="#d48080"/><rect x="38.64" y="281.52" width="7.83" height="5.93" fill="#dadada"/><rect x="46.42" y="281.52" width="7.83" height="5.93" fill="#e0e0e0"/><rect x="54.20" y="281.52" width="7.83" height="5.93" fill="#e2e2e2"/><rect x="15.30" y="287.40" width="7.83" height="5.93" fill="#d88c8c"/><rect x="23.08" y="287.40" width="7.83" height="5.93" fill="#d88c8c"/><rect x="30.86" y="287.40" width="7.83" height="5.93" fill="#ecd0d0"/><rect x="38.64" y="287.40" width="7.83" height="5.93" fill="#e2e2e2"/><rect x="46.42" y="287.40" width="7.83" height="5.93" fill="#e6e6e6"/><rect x="54.20" y="287.40" width="7.83" height="5.93" fill="#d4d4d4"/><rect x="15.30" y="293.28" width="7.83" height="5.93" fill="#eed4d4"/><rect x="23.08" y="293.28" width="7.83" height="5.93" fill="#e2acac"/><rect x="30.86" y="293.28" width="7.83" height="5.93" fill="#d47e7e"/><rect x="38.64" y="293.28" width="7.83" height="5.93" fill="#d8d8d8"/><rect x="46.42" y="293.28" width="7.83" height="5.93" fill="#e6e6e6"/><rect x="54.20" y="293.28" width="7.83" height="5.93" fill="#e4e4e4"/><rect x="15.30" y="299.16" width="7.83" height="5.93" fill="#ecc4c4"/><rect x="23.08" y="299.16" width="7.83" height="5.93" fill="#f2f2f2"/><rect x="30.86" y="299.16" width="7.83" height="5.93" fill="#d88888"/><rect x="38.64" y="299.16" width="7.83" height="5.93" fill="#d4d4d4"/><rect x="46.42" y="299.16" width="7.83" height="5.93" fill="#f0f0f0"/><rect x="54.20" y="299.16" width="7.83" height="5.93" fill="#e8e8e8"/><rect x="15.30" y="305.04" width="7.83" height="5.93" fill="#e4b0b0"/><rect x="23.08" y="305.04" width="7.83" height="5.93" fill="#d47474"/><rect x="30.86" y="305.04" width="7.83" height="5.93" fill="#ecd0d0"/><rect x="38.64" y="305.04" width="7.83" height="5.93" fill="#e0e0e0"/><rect x="46.42" y="305.04" width="7.83" height="5.93" fill="#e2e2e2"/><rect x="54.20" y="305.04" width="7.83" height="5.93" fill="#e6e6e6"/><rect x="15.30" y="310.92" width="7.83" height="5.93" fill="#e4b0b0"/><rect x="23.08" y="310.92" width="7.83" height="5.93" fill="#dc9696"/><rect x="30.86" y="310.92" width="7.83" height="5.93" fill="#ecc8c8"/><rect x="38.64" y="310.92" width="7.83" height="5.93" fill="#dcdcdc"/><rect x="46.42" y="310.92" width="7.83" height="5.93" fill="#e4e4e4"/><rect x="54.20" y="310.92" width="7.83" height="5.93" fill="#ececec"/>
<rect x="15.30" y="199.20" width="46.68" height="117.60" fill="none" stroke="#6e6e6e" stroke-width="0.7" />
<line x1="15.7" y1="258.1" x2="18.9" y2="258.1" stroke="#555" stroke-width="0.7" />
<line x1="28.9" y1="258.1" x2="37.9" y2="258.1" stroke="#555" stroke-width="0.7" />
<line x1="47.4" y1="258.1" x2="57.5" y2="258.1" stroke="#555" stroke-width="0.7" />
<text x="73.8" y="162.8" font-size="7.2" fill="#333" textLength="21.2" lengthAdjust="spacingAndGlyphs" >Z score</text>
<circle cx="79.00" cy="170.90" r="3.20" fill="#c0141e" />
<circle cx="79.00" cy="178.70" r="3.10" fill="#f0f0f0" stroke="#d4d4d4" stroke-width="0.4" />
<circle cx="79.00" cy="186.60" r="3.20" fill="#c8c8c8" />
<text x="85.7" y="173.0" font-size="5.7" fill="#333" >2.00</text>
<text x="85.7" y="180.79999999999998" font-size="5.7" fill="#333" >0.00</text>
<text x="85.7" y="188.7" font-size="5.7" fill="#333" >-2.00</text>
<text x="65.7" y="204.6" font-size="6.4" fill="#333" >FBXO11</text>
<text x="65.7" y="210.46" font-size="6.4" fill="#333" >KMT2D</text>
<text x="65.7" y="216.32" font-size="6.4" fill="#333" >USP15</text>
<text x="65.7" y="222.18" font-size="6.4" fill="#333" >KLHL31</text>
<text x="65.7" y="228.04" font-size="6.4" fill="#333" >NACC1</text>
<text x="65.7" y="233.9" font-size="6.4" fill="#333" >TRIM8</text>
<text x="65.7" y="239.76" font-size="6.4" fill="#333" >USP49</text>
<text x="65.7" y="245.62" font-size="6.4" fill="#333" >USP48</text>
<text x="65.7" y="251.48" font-size="6.4" fill="#333" >BIRC2</text>
<text x="65.7" y="257.34" font-size="6.4" fill="#333" >RNF126</text>
<text x="65.7" y="263.2" font-size="6.4" fill="#333" >HERC5</text>
<text x="65.7" y="269.06" font-size="6.4" fill="#333" >CNOT4</text>
<text x="65.7" y="274.92" font-size="6.4" fill="#333" >MARCH2</text>
<text x="65.7" y="280.78" font-size="6.4" fill="#333" >PCGF5</text>
<text x="65.7" y="286.64" font-size="6.4" fill="#333" >ZBTB2</text>
<text x="65.7" y="292.5" font-size="6.4" fill="#333" >DCAF7</text>
<text x="65.7" y="298.36" font-size="6.4" fill="#333" >DCAF15</text>
<text x="65.7" y="304.22" font-size="6.4" fill="#333" >ZBTB7A</text>
<text x="65.7" y="310.08" font-size="6.4" fill="#333" >EED</text>
<text x="65.7" y="315.94" font-size="6.4" fill="#333" >UHRF1</text>
<line x1="96.8" y1="199.5" x2="96.8" y2="315.6" stroke="#333" stroke-width="0.6" />
<line x1="86.6" y1="258.0" x2="96.8" y2="258.0" stroke="#333" stroke-width="0.6" />
<text transform="translate(106.3,225.3) rotate(-90) scale(1.1578,1)" font-size="7.4" text-anchor="middle" fill="#333" >Positive</text>
<text transform="translate(115.6,225.1) rotate(-90) scale(1.1736,1)" font-size="7.4" text-anchor="middle" fill="#333" >Regulators</text>
<line x1="107.7" y1="257.2" x2="111.2" y2="257.2" stroke="#999" stroke-width="0.9" />
<text transform="translate(106.3,284.3) rotate(-90) scale(1.2942,1)" font-size="7.4" text-anchor="middle" fill="#333" >Negative</text>
<text transform="translate(115.6,287.3) rotate(-90) scale(1.2267,1)" font-size="7.4" text-anchor="middle" fill="#333" >Regulators</text>
<text x="129.2" y="156.8" font-size="10.3" font-weight="bold" fill="#000" textLength="8.3" lengthAdjust="spacingAndGlyphs" >D</text>
<text x="139.2" y="184.8" font-size="8.4" fill="#333" textLength="19.8" lengthAdjust="spacingAndGlyphs" >Day0</text>
<text x="162" y="184.8" font-size="8.4" fill="#333" textLength="19.6" lengthAdjust="spacingAndGlyphs" >Day8</text>
<line x1="139.1" y1="190" x2="159" y2="190" stroke="#9a9a9a" stroke-width="1.3" />
<line x1="161.7" y1="190" x2="181.6" y2="190" stroke="#9a9a9a" stroke-width="1.3" />
<text x="141.3" y="198.7" font-size="6.3" text-anchor="middle" fill="#333" >1</text>
<text x="148.7" y="198.7" font-size="6.3" text-anchor="middle" fill="#333" >2</text>
<text x="156.3" y="198.7" font-size="6.3" text-anchor="middle" fill="#333" >3</text>
<text x="164" y="198.7" font-size="6.3" text-anchor="middle" fill="#333" >1</text>
<text x="171.4" y="198.7" font-size="6.3" text-anchor="middle" fill="#333" >2</text>
<text x="179" y="198.7" font-size="6.3" text-anchor="middle" fill="#333" >3</text>
<rect x="137.80" y="200.70" width="7.63" height="5.85" fill="#d86868"/><rect x="145.38" y="200.70" width="7.63" height="5.85" fill="#d87070"/><rect x="152.96" y="200.70" width="7.63" height="5.85" fill="#d87070"/><rect x="160.54" y="200.70" width="7.63" height="5.85" fill="#e6e6e6"/><rect x="168.12" y="200.70" width="7.63" height="5.85" fill="#d4d4d4"/><rect x="175.70" y="200.70" width="7.63" height="5.85" fill="#f0f0f0"/><rect x="137.80" y="206.50" width="7.63" height="5.85" fill="#dc8080"/><rect x="145.38" y="206.50" width="7.63" height="5.85" fill="#cc3c3c"/><rect x="152.96" y="206.50" width="7.63" height="5.85" fill="#dc8080"/><rect x="160.54" y="206.50" width="7.63" height="5.85" fill="#e0e0e0"/><rect x="168.12" y="206.50" width="7.63" height="5.85" fill="#e8e8e8"/><rect x="175.70" y="206.50" width="7.63" height="5.85" fill="#e8e8e8"/><rect x="137.80" y="212.30" width="7.63" height="5.85" fill="#cc4848"/><rect x="145.38" y="212.30" width="7.63" height="5.85" fill="#e4a4a4"/><rect x="152.96" y="212.30" width="7.63" height="5.85" fill="#d05858"/><rect x="160.54" y="212.30" width="7.63" height="5.85" fill="#e8e8e8"/><rect x="168.12" y="212.30" width="7.63" height="5.85" fill="#e8e8e8"/><rect x="175.70" y="212.30" width="7.63" height="5.85" fill="#d8d8d8"/><rect x="137.80" y="218.10" width="7.63" height="5.85" fill="#e4a0a0"/><rect x="145.38" y="218.10" width="7.63" height="5.85" fill="#c83030"/><rect x="152.96" y="218.10" width="7.63" height="5.85" fill="#dc8080"/><rect x="160.54" y="218.10" width="7.63" height="5.85" fill="#f2f2f2"/><rect x="168.12" y="218.10" width="7.63" height="5.85" fill="#dadada"/><rect x="175.70" y="218.10" width="7.63" height="5.85" fill="#d6d6d6"/><rect x="137.80" y="223.90" width="7.63" height="5.85" fill="#dc7c7c"/><rect x="145.38" y="223.90" width="7.63" height="5.85" fill="#d87070"/><rect x="152.96" y="223.90" width="7.63" height="5.85" fill="#d87070"/><rect x="160.54" y="223.90" width="7.63" height="5.85" fill="#d4d4d4"/><rect x="168.12" y="223.90" width="7.63" height="5.85" fill="#ececec"/><rect x="175.70" y="223.90" width="7.63" height="5.85" fill="#ececec"/><rect x="137.80" y="229.70" width="7.63" height="5.85" fill="#dc8484"/><rect x="145.38" y="229.70" width="7.63" height="5.85" fill="#d46060"/><rect x="152.96" y="229.70" width="7.63" height="5.85" fill="#dc8484"/><rect x="160.54" y="229.70" width="7.63" height="5.85" fill="#d6d6d6"/><rect x="168.12" y="229.70" width="7.63" height="5.85" fill="#dcdcdc"/><rect x="175.70" y="229.70" width="7.63" height="5.85" fill="#f8f8f8"/><rect x="137.80" y="235.50" width="7.63" height="5.85" fill="#d86c6c"/><rect x="145.38" y="235.50" width="7.63" height="5.85" fill="#d87070"/><rect x="152.96" y="235.50" width="7.63" height="5.85" fill="#dc8888"/><rect x="160.54" y="235.50" width="7.63" height="5.85" fill="#e6e6e6"/><rect x="168.12" y="235.50" width="7.63" height="5.85" fill="#d4d4d4"/><rect x="175.70" y="235.50" width="7.63" height="5.85" fill="#f4f4f4"/><rect x="137.80" y="241.30" width="7.63" height="5.85" fill="#ecc4c4"/><rect x="145.38" y="241.30" width="7.63" height="5.85" fill="#d46464"/><rect x="152.96" y="241.30" width="7.63" height="5.85" fill="#cc3c3c"/><rect x="160.54" y="241.30" width="7.63" height="5.85" fill="#e2e2e2"/><rect x="168.12" y="241.30" width="7.63" height="5.85" fill="#e0e0e0"/><rect x="175.70" y="241.30" width="7.63" height="5.85" fill="#e8e8e8"/><rect x="137.80" y="247.10" width="7.63" height="5.85" fill="#cc4444"/><rect x="145.38" y="247.10" width="7.63" height="5.85" fill="#d46464"/><rect x="152.96" y="247.10" width="7.63" height="5.85" fill="#f0d4d4"/><rect x="160.54" y="247.10" width="7.63" height="5.85" fill="#d2d2d2"/><rect x="168.12" y="247.10" width="7.63" height="5.85" fill="#e6e6e6"/><rect x="175.70" y="247.10" width="7.63" height="5.85" fill="#f2f2f2"/><rect x="137.80" y="252.90" width="7.63" height="5.85" fill="#d05858"/><rect x="145.38" y="252.90" width="7.63" height="5.85" fill="#d87070"/><rect x="152.96" y="252.90" width="7.63" height="5.85" fill="#dc8888"/><rect x="160.54" y="252.90" width="7.63" height="5.85" fill="#dcdcdc"/><rect x="168.12" y="252.90" width="7.63" height="5.85" fill="#e4e4e4"/><rect x="175.70" y="252.90" width="7.63" height="5.85" fill="#e8e8e8"/><rect x="137.80" y="258.70" width="7.63" height="5.85" fill="#e4a0a0"/><rect x="145.38" y="258.70" width="7.63" height="5.85" fill="#d86c6c"/><rect x="152.96" y="258.70" width="7.63" height="5.85" fill="#d86c6c"/><rect x="160.54" y="258.70" width="7.63" height="5.85" fill="#e2e2e2"/><rect x="168.12" y="258.70" width="7.63" height="5.85" fill="#d4d4d4"/><rect x="175.70" y="258.70" width="7.63" height="5.85" fill="#fafafa"/><rect x="137.80" y="264.50" width="7.63" height="5.85" fill="#cc4848"/><rect x="145.38" y="264.50" width="7.63" height="5.85" fill="#e09898"/><rect x="152.96" y="264.50" width="7.63" height="5.85" fill="#d86c6c"/><rect x="160.54" y="264.50" width="7.63" height="5.85" fill="#e4e4e4"/><rect x="168.12" y="264.50" width="7.63" height="5.85" fill="#e4e4e4"/><rect x="175.70" y="264.50" width="7.63" height="5.85" fill="#e0e0e0"/><rect x="137.80" y="270.30" width="7.63" height="5.85" fill="#d87474"/><rect x="145.38" y="270.30" width="7.63" height="5.85" fill="#d87474"/><rect x="152.96" y="270.30" width="7.63" height="5.85" fill="#d87474"/><rect x="160.54" y="270.30" width="7.63" height="5.85" fill="#d8d8d8"/><rect x="168.12" y="270.30" width="7.63" height="5.85" fill="#e8e8e8"/><rect x="175.70" y="270.30" width="7.63" height="5.85" fill="#f0f0f0"/><rect x="137.80" y="276.10" width="7.63" height="5.85" fill="#d87070"/><rect x="145.38" y="276.10" width="7.63" height="5.85" fill="#d87070"/><rect x="152.96" y="276.10" width="7.63" height="5.85" fill="#e09090"/><rect x="160.54" y="276.10" width="7.63" height="5.85" fill="#e0e0e0"/><rect x="168.12" y="276.10" width="7.63" height="5.85" fill="#d8d8d8"/><rect x="175.70" y="276.10" width="7.63" height="5.85" fill="#eeeeee"/><rect x="137.80" y="281.90" width="7.63" height="5.85" fill="#dc8080"/><rect x="145.38" y="281.90" width="7.63" height="5.85" fill="#e4a4a4"/><rect x="152.96" y="281.90" width="7.63" height="5.85" fill="#d05050"/><rect x="160.54" y="281.90" width="7.63" height="5.85" fill="#f0f0f0"/><rect x="168.12" y="281.90" width="7.63" height="5.85" fill="#d4d4d4"/><rect x="175.70" y="281.90" width="7.63" height="5.85" fill="#ececec"/><rect x="137.80" y="287.70" width="7.63" height="5.85" fill="#dc8080"/><rect x="145.38" y="287.70" width="7.63" height="5.85" fill="#f0d0d0"/><rect x="152.96" y="287.70" width="7.63" height="5.85" fill="#c42020"/><rect x="160.54" y="287.70" width="7.63" height="5.85" fill="#e0e0e0"/><rect x="168.12" y="287.70" width="7.63" height="5.85" fill="#dcdcdc"/><rect x="175.70" y="287.70" width="7.63" height="5.85" fill="#e8e8e8"/><rect x="137.80" y="293.50" width="7.63" height="5.85" fill="#d05050"/><rect x="145.38" y="293.50" width="7.63" height="5.85" fill="#dc8484"/><rect x="152.96" y="293.50" width="7.63" height="5.85" fill="#dc8484"/><rect x="160.54" y="293.50" width="7.63" height="5.85" fill="#d8d8d8"/><rect x="168.12" y="293.50" width="7.63" height="5.85" fill="#eeeeee"/><rect x="175.70" y="293.50" width="7.63" height="5.85" fill="#e4e4e4"/><rect x="137.80" y="299.30" width="7.63" height="5.85" fill="#dc8888"/><rect x="145.38" y="299.30" width="7.63" height="5.85" fill="#e09494"/><rect x="152.96" y="299.30" width="7.63" height="5.85" fill="#d05c5c"/><rect x="160.54" y="299.30" width="7.63" height="5.85" fill="#e0e0e0"/><rect x="168.12" y="299.30" width="7.63" height="5.85" fill="#d4d4d4"/><rect x="175.70" y="299.30" width="7.63" height="5.85" fill="#f4f4f4"/><rect x="137.80" y="305.10" width="7.63" height="5.85" fill="#d46464"/><rect x="145.38" y="305.10" width="7.63" height="5.85" fill="#ecc0c0"/><rect x="152.96" y="305.10" width="7.63" height="5.85" fill="#dc8888"/><rect x="160.54" y="305.10" width="7.63" height="5.85" fill="#dcdcdc"/><rect x="168.12" y="305.10" width="7.63" height="5.85" fill="#d4d4d4"/><rect x="175.70" y="305.10" width="7.63" height="5.85" fill="#f8eeee"/><rect x="137.80" y="310.90" width="7.63" height="5.85" fill="#e4a4a4"/><rect x="145.38" y="310.90" width="7.63" height="5.85" fill="#d46060"/><rect x="152.96" y="310.90" width="7.63" height="5.85" fill="#d46060"/><rect x="160.54" y="310.90" width="7.63" height="5.85" fill="#f0f0f0"/><rect x="168.12" y="310.90" width="7.63" height="5.85" fill="#d0d0d0"/><rect x="175.70" y="310.90" width="7.63" height="5.85" fill="#eeeeee"/>
<rect x="137.80" y="200.70" width="45.48" height="116.00" fill="none" stroke="#6e6e6e" stroke-width="0.7" />
<text x="190.0" y="163.9" font-size="7.2" fill="#333" textLength="21.2" lengthAdjust="spacingAndGlyphs" >Z score</text>
<circle cx="195.40" cy="171.70" r="3.20" fill="#c0141e" />
<circle cx="195.40" cy="179.80" r="3.10" fill="#f0f0f0" stroke="#d4d4d4" stroke-width="0.4" />
<circle cx="195.40" cy="187.60" r="3.20" fill="#c8c8c8" />
<text x="201.8" y="173.79999999999998" font-size="5.7" fill="#333" >2.00</text>
<text x="201.8" y="181.9" font-size="5.7" fill="#333" >0.00</text>
<text x="201.8" y="189.7" font-size="5.7" fill="#333" >-2.00</text>
<text x="186.4" y="206.1" font-size="6.4" fill="#333" >OTUD5</text>
<text x="186.4" y="211.9" font-size="6.4" fill="#333" >SNRNP40</text>
<text x="186.4" y="217.7" font-size="6.4" fill="#333" >NLE1</text>
<text x="186.4" y="223.5" font-size="6.4" fill="#333" >ANAPC11</text>
<text x="186.4" y="229.29999999999998" font-size="6.4" fill="#333" >CIAO1</text>
<text x="186.4" y="235.1" font-size="6.4" fill="#333" >PRPF19</text>
<text x="186.4" y="240.89999999999998" font-size="6.4" fill="#333" >NUP43</text>
<text x="186.4" y="246.7" font-size="6.4" fill="#333" >SMU1</text>
<text x="186.4" y="252.5" font-size="6.4" fill="#333" >VHL</text>
<text x="186.4" y="258.3" font-size="6.4" fill="#333" >COPS6</text>
<text x="186.4" y="264.1" font-size="6.4" fill="#333" >RTFDC1</text>
<text x="186.4" y="269.9" font-size="6.4" fill="#333" >PRPF8</text>
<text x="186.4" y="275.7" font-size="6.4" fill="#333" >ANAPC1</text>
<text x="186.4" y="281.5" font-size="6.4" fill="#333" >ARIH1</text>
<text x="186.4" y="287.3" font-size="6.4" fill="#333" >RBX1</text>
<text x="186.4" y="293.1" font-size="6.4" fill="#333" >ANAPC2</text>
<text x="186.4" y="298.9" font-size="6.4" fill="#333" >RBBP5</text>
<text x="186.4" y="304.7" font-size="6.4" fill="#333" >HUWE1</text>
<text x="186.4" y="310.5" font-size="6.4" fill="#333" >WDR12</text>
<text x="186.4" y="316.3" font-size="6.4" fill="#333" >SKP1</text>
<line x1="219.5" y1="200" x2="219.5" y2="316.7" stroke="#333" stroke-width="0.6" />
<text transform="translate(230.6,258.6) rotate(-90) scale(1.2321,1)" font-size="7.3" text-anchor="middle" fill="#333" >sgRNA dropout</text>
<text transform="translate(240.6,258.7) rotate(-90) scale(1.1920,1)" font-size="7.3" text-anchor="middle" fill="#333" >after expansion</text>
<text x="252.8" y="156.8" font-size="10.3" font-weight="bold" fill="#000" textLength="6.6" lengthAdjust="spacingAndGlyphs" >E</text>
<text x="292.8" y="164.6" font-size="8.9" fill="#333" textLength="118.5" lengthAdjust="spacingAndGlyphs" >GO: cellular components from</text>
<text x="306.3" y="174.6" font-size="8.9" fill="#333" textLength="91.6" lengthAdjust="spacingAndGlyphs" >erythroblast maturation</text>
<rect x="378.60" y="183.30" width="33.70" height="7.10" fill="#2c4a82" />
<line x1="374.8" y1="186.85000000000002" x2="378.6" y2="186.85000000000002" stroke="#231f20" stroke-width="0.7" />
<text x="372.3" y="188.95000000000002" font-size="6.3" text-anchor="end" fill="#333" textLength="106.69999999999999" lengthAdjust="spacingAndGlyphs" >cullin-RING ubiquitin ligase complex</text>
<rect x="378.60" y="196.20" width="16.80" height="7.30" fill="#2c4a82" />
<line x1="374.8" y1="199.85" x2="378.6" y2="199.85" stroke="#231f20" stroke-width="0.7" />
<text x="372.3" y="201.95" font-size="6.3" text-anchor="end" fill="#333" textLength="85.60000000000002" lengthAdjust="spacingAndGlyphs" >SCF ubiquitin ligase complex</text>
<rect x="378.60" y="209.20" width="8.40" height="7.30" fill="#2c4a82" />
<line x1="374.8" y1="212.85" x2="378.6" y2="212.85" stroke="#231f20" stroke-width="0.7" />
<text x="372.3" y="214.95" font-size="6.3" text-anchor="end" fill="#333" textLength="70.90000000000003" lengthAdjust="spacingAndGlyphs" >CD40 receptor complex</text>
<rect x="378.60" y="222.30" width="7.40" height="7.50" fill="#2c4a82" />
<line x1="374.8" y1="226.05" x2="378.6" y2="226.05" stroke="#231f20" stroke-width="0.7" />
<text x="372.3" y="228.15" font-size="6.3" text-anchor="end" fill="#333" textLength="105.5" lengthAdjust="spacingAndGlyphs" >Cul3-RING ubiquitin ligase complex</text>
<line x1="378.6" y1="180.4" x2="378.6" y2="233.0" stroke="#231f20" stroke-width="0.9" />
<line x1="378.6" y1="233.0" x2="424.4" y2="233.0" stroke="#231f20" stroke-width="0.9" />
<line x1="378.6" y1="233.0" x2="378.6" y2="235.0" stroke="#231f20" stroke-width="0.7" />
<text x="378.6" y="244.5" font-size="6.2" text-anchor="middle" fill="#333" >0</text>
<line x1="389.4" y1="233.0" x2="389.4" y2="235.0" stroke="#231f20" stroke-width="0.7" />
<text x="389.4" y="244.5" font-size="6.2" text-anchor="middle" fill="#333" >2</text>
<line x1="400.1" y1="233.0" x2="400.1" y2="235.0" stroke="#231f20" stroke-width="0.7" />
<text x="400.1" y="244.5" font-size="6.2" text-anchor="middle" fill="#333" >4</text>
<line x1="410.5" y1="233.0" x2="410.5" y2="235.0" stroke="#231f20" stroke-width="0.7" />
<text x="410.5" y="244.5" font-size="6.2" text-anchor="middle" fill="#333" >6</text>
<line x1="420.9" y1="233.0" x2="420.9" y2="235.0" stroke="#231f20" stroke-width="0.7" />
<text x="420.9" y="244.5" font-size="6.2" text-anchor="middle" fill="#333" >8</text>
<text x="364.3" y="257" font-size="8.4" fill="#333" textLength="75" lengthAdjust="spacingAndGlyphs">-log10(adjusted <tspan font-style="italic">P</tspan> value)</text>
<text x="289.8" y="269.7" font-size="8.9" fill="#333" textLength="118.4" lengthAdjust="spacingAndGlyphs" >GO: cellular components from</text>
<text x="304.5" y="279.7" font-size="8.9" fill="#333" textLength="89.4" lengthAdjust="spacingAndGlyphs" >erythroblast expansion</text>
<rect x="378.90" y="288.00" width="42.00" height="7.90" fill="#2c4a82" />
<line x1="374.8" y1="291.95" x2="378.9" y2="291.95" stroke="#231f20" stroke-width="0.7" />
<text x="372.3" y="294.05" font-size="6.3" text-anchor="end" fill="#333" textLength="106.69999999999999" lengthAdjust="spacingAndGlyphs" >cullin-RING ubiquitin ligase complex</text>
<rect x="378.90" y="301.20" width="38.10" height="7.60" fill="#2c4a82" />
<line x1="374.8" y1="305.0" x2="378.9" y2="305.0" stroke="#231f20" stroke-width="0.7" />
<text x="372.3" y="307.1" font-size="6.3" text-anchor="end" fill="#333" textLength="88.19999999999999" lengthAdjust="spacingAndGlyphs" >anaphase-promoting complex</text>
<rect x="378.90" y="314.40" width="37.20" height="7.60" fill="#2c4a82" />
<line x1="374.8" y1="318.2" x2="378.9" y2="318.2" stroke="#231f20" stroke-width="0.7" />
<text x="372.3" y="320.3" font-size="6.3" text-anchor="end" fill="#333" textLength="95.10000000000002" lengthAdjust="spacingAndGlyphs" >nuclear ubiquitin ligase complex</text>
<rect x="378.90" y="327.70" width="15.50" height="7.70" fill="#2c4a82" />
<line x1="374.8" y1="331.54999999999995" x2="378.9" y2="331.54999999999995" stroke="#231f20" stroke-width="0.7" />
<text x="372.3" y="333.65" font-size="6.3" text-anchor="end" fill="#333" textLength="114.5" lengthAdjust="spacingAndGlyphs" >Cul4-RING E3 ubiquitin ligase complex</text>
<line x1="378.9" y1="285.5" x2="378.9" y2="337.7" stroke="#231f20" stroke-width="0.9" />
<line x1="378.9" y1="337.7" x2="424.4" y2="337.7" stroke="#231f20" stroke-width="0.9" />
<line x1="378.9" y1="337.7" x2="378.9" y2="339.7" stroke="#231f20" stroke-width="0.7" />
<text x="378.9" y="350.0" font-size="6.2" text-anchor="middle" fill="#333" >0</text>
<line x1="387.4" y1="337.7" x2="387.4" y2="339.7" stroke="#231f20" stroke-width="0.7" />
<text x="387.4" y="350.0" font-size="6.2" text-anchor="middle" fill="#333" >2</text>
<line x1="395.7" y1="337.7" x2="395.7" y2="339.7" stroke="#231f20" stroke-width="0.7" />
<text x="395.7" y="350.0" font-size="6.2" text-anchor="middle" fill="#333" >4</text>
<line x1="404.3" y1="337.7" x2="404.3" y2="339.7" stroke="#231f20" stroke-width="0.7" />
<text x="404.3" y="350.0" font-size="6.2" text-anchor="middle" fill="#333" >6</text>
<line x1="412.8" y1="337.7" x2="412.8" y2="339.7" stroke="#231f20" stroke-width="0.7" />
<text x="412.8" y="350.0" font-size="6.2" text-anchor="middle" fill="#333" >8</text>
<line x1="421.2" y1="337.7" x2="421.2" y2="339.7" stroke="#231f20" stroke-width="0.7" />
<text x="421.2" y="350.0" font-size="6.2" text-anchor="middle" fill="#333" >10</text>
<text x="364.3" y="362" font-size="8.4" fill="#333" textLength="75" lengthAdjust="spacingAndGlyphs">-log10(adjusted <tspan font-style="italic">P</tspan> value)</text>
<text x="448.9" y="156.9" font-size="10.3" font-weight="bold" fill="#000" textLength="6.5" lengthAdjust="spacingAndGlyphs" >F</text>
<text x="459.7" y="165.8" font-size="6.8" fill="#333" textLength="34.9" lengthAdjust="spacingAndGlyphs" >Erythroblast</text>
<text x="461" y="173.1" font-size="6.8" fill="#333" textLength="32" lengthAdjust="spacingAndGlyphs" >maturation</text>
<ellipse cx="477" cy="201.4" rx="22.2" ry="23.6" fill="#cf7a8d"/>
<ellipse cx="477" cy="233.4" rx="22.2" ry="23.5" fill="#8d9dc2"/>
<clipPath id="pinkclip"><ellipse cx="477" cy="201.4" rx="22.2" ry="23.6"/></clipPath>
<ellipse cx="477" cy="233.4" rx="22.2" ry="23.5" fill="#7a5f88" clip-path="url(#pinkclip)"/>
<text x="477.2" y="203.6" font-size="7.0" text-anchor="middle" fill="#333" >33</text>
<text x="477" y="221.0" font-size="7.0" text-anchor="middle" fill="#333" >3</text>
<text x="477" y="238.6" font-size="7.0" text-anchor="middle" fill="#333" >43</text>
<text x="488.5" y="213.5" font-size="7.0" fill="#333" textLength="23.8" lengthAdjust="spacingAndGlyphs" >PRPF19,</text>
<text x="488.5" y="221.7" font-size="7.0" fill="#333" textLength="16" lengthAdjust="spacingAndGlyphs" >NLE1,</text>
<text x="488.5" y="229.9" font-size="7.0" fill="#333" textLength="21" lengthAdjust="spacingAndGlyphs" >COPS6</text>
<text x="459.7" y="265.8" font-size="6.8" fill="#333" textLength="34.9" lengthAdjust="spacingAndGlyphs" >Erythroblast</text>
<text x="462.3" y="273.9" font-size="6.8" fill="#333" textLength="29.7" lengthAdjust="spacingAndGlyphs" >expansion</text>
<text x="7.3" y="383.5" font-size="10.3" font-weight="bold" fill="#000" textLength="8.5" lengthAdjust="spacingAndGlyphs" >G</text>
<text x="16.8" y="400.2" font-size="6.0" fill="#333" textLength="10.8" lengthAdjust="spacingAndGlyphs" >kDa</text>
<text x="28.1" y="408.9" font-size="6.0" text-anchor="end" fill="#333" >150</text>
<line x1="30.9" y1="406.7" x2="33.9" y2="406.7" stroke="#333" stroke-width="0.6" />
<text x="28.1" y="419.3" font-size="6.0" text-anchor="end" fill="#333" >100</text>
<line x1="30.9" y1="417.4" x2="33.9" y2="417.4" stroke="#333" stroke-width="0.6" />
<text x="28.1" y="428.9" font-size="6.0" text-anchor="end" fill="#333" >75</text>
<line x1="30.9" y1="427.2" x2="33.9" y2="427.2" stroke="#333" stroke-width="0.6" />
<text x="28.1" y="436.7" font-size="6.0" text-anchor="end" fill="#333" >50</text>
<line x1="30.9" y1="434.7" x2="33.9" y2="434.7" stroke="#333" stroke-width="0.6" />
<text x="28.1" y="455.8" font-size="6.0" text-anchor="end" fill="#333" >37</text>
<line x1="30.9" y1="453.5" x2="33.9" y2="453.5" stroke="#333" stroke-width="0.6" />
<text x="28.1" y="464.3" font-size="6.0" text-anchor="end" fill="#333" >37</text>
<line x1="30.9" y1="462.1" x2="33.9" y2="462.1" stroke="#333" stroke-width="0.6" />
<text transform="translate(44.2,403.4) rotate(-42) scale(0.8978,1)" font-size="7.0" fill="#333" >Ctrl-sg1</text>
<text transform="translate(61.2,403.4) rotate(-42) scale(0.8978,1)" font-size="7.0" fill="#333" >Ctrl-sg2</text>
<text transform="translate(78.0,403.4) rotate(-42) scale(0.8744,1)" font-size="7.0" fill="#333" >F11-sg1</text>
<text transform="translate(95.7,403.4) rotate(-42) scale(0.8744,1)" font-size="7.0" fill="#333" >F11-sg2</text>
<rect x="33.90" y="406.60" width="68.40" height="20.60" fill="#d6d6d6" stroke="#666" stroke-width="0.8" />
<rect x="35.60" y="407.20" width="15.60" height="19.40" fill="#dcdcdc" />
<rect x="52.90" y="407.20" width="13.70" height="19.40" fill="#dcdcdc" />
<rect x="68.80" y="407.20" width="14.80" height="19.40" fill="#dcdcdc" />
<rect x="85.60" y="407.20" width="15.00" height="19.40" fill="#dcdcdc" />
<rect x="35.60" y="410.65" width="15.60" height="3.90" rx="1.20" fill="#0c0c0c" opacity="1.0" filter="url(#bl)"/>
<rect x="35.60" y="419.20" width="15.60" height="2.20" rx="1.10" fill="#707070" opacity="0.9" filter="url(#bl)"/>
<rect x="35.60" y="422.85" width="15.60" height="1.70" rx="0.85" fill="#9a9a9a" opacity="0.8" filter="url(#bl)"/>
<rect x="52.90" y="410.65" width="13.70" height="3.90" rx="1.20" fill="#0c0c0c" opacity="1.0" filter="url(#bl)"/>
<rect x="52.90" y="419.20" width="13.70" height="2.20" rx="1.10" fill="#707070" opacity="0.9" filter="url(#bl)"/>
<rect x="52.90" y="422.85" width="13.70" height="1.70" rx="0.85" fill="#9a9a9a" opacity="0.8" filter="url(#bl)"/>
<rect x="69.30" y="411.75" width="13.80" height="1.90" rx="0.95" fill="#a4a4a4" opacity="0.95" filter="url(#bl)"/>
<rect x="69.30" y="419.65" width="13.80" height="1.50" rx="0.75" fill="#acacac" opacity="0.9" filter="url(#bl)"/>
<rect x="86.10" y="411.75" width="14.00" height="1.90" rx="0.95" fill="#a4a4a4" opacity="0.95" filter="url(#bl)"/>
<rect x="86.10" y="419.65" width="14.00" height="1.50" rx="0.75" fill="#acacac" opacity="0.9" filter="url(#bl)"/>
<rect x="33.90" y="434.40" width="68.40" height="19.40" fill="#bababa" stroke="#555" stroke-width="0.8" />
<rect x="35.00" y="442.80" width="16.80" height="4.80" rx="1.20" fill="#121212" opacity="1.0" filter="url(#bl)"/>
<rect x="52.30" y="442.80" width="14.90" height="4.80" rx="1.20" fill="#121212" opacity="1.0" filter="url(#bl)"/>
<rect x="68.20" y="442.80" width="16.00" height="4.80" rx="1.20" fill="#121212" opacity="1.0" filter="url(#bl)"/>
<rect x="85.00" y="442.80" width="16.20" height="4.80" rx="1.20" fill="#121212" opacity="1.0" filter="url(#bl)"/>
<rect x="33.90" y="456.70" width="68.40" height="12.40" fill="#ebebeb" stroke="#666" stroke-width="0.8" />
<rect x="35.90" y="461.55" width="15.00" height="2.70" rx="1.20" fill="#151515" opacity="1.0" filter="url(#bl)"/>
<rect x="53.20" y="461.55" width="13.10" height="2.70" rx="1.20" fill="#151515" opacity="1.0" filter="url(#bl)"/>
<rect x="69.10" y="461.55" width="14.20" height="2.70" rx="1.20" fill="#151515" opacity="1.0" filter="url(#bl)"/>
<rect x="85.90" y="461.55" width="14.40" height="2.70" rx="1.20" fill="#151515" opacity="1.0" filter="url(#bl)"/>
<path d="M102.2,412.7 L105.0,411.2 L105.0,414.2 Z" fill="#1a1a1a"/>
<path d="M102.2,424.5 L105.0,423.0 L105.0,426.0 Z" fill="#1a1a1a"/>
<line x1="102.6" y1="418.8" x2="103.8" y2="418.8" stroke="#444" stroke-width="0.7" />
<text x="107.9" y="414.9" font-size="6.6" fill="#2a2a2a" textLength="5.0" lengthAdjust="spacingAndGlyphs" >i4</text>
<text x="107.9" y="426.2" font-size="6.6" fill="#2a2a2a" textLength="4.8" lengthAdjust="spacingAndGlyphs" >i1</text>
<line x1="116.5" y1="412.4" x2="116.5" y2="425.5" stroke="#333" stroke-width="0.6" />
<text x="120.0" y="421.2" font-size="7.0" fill="#333" textLength="23.6" lengthAdjust="spacingAndGlyphs" >FBXO11</text>
<text x="104.9" y="447.0" font-size="6.6" fill="#333" textLength="23.4" lengthAdjust="spacingAndGlyphs" >ACTINB</text>
<text x="105.2" y="464.0" font-size="6.6" fill="#333" textLength="22.8" lengthAdjust="spacingAndGlyphs" >GAPDH</text>
<text x="8" y="491.8" font-size="10.3" font-weight="bold" fill="#000" textLength="7.9" lengthAdjust="spacingAndGlyphs" >H</text>
<text transform="translate(39.6,509.2) rotate(-42) scale(0.9100,1)" font-size="7.0" fill="#333" >Ctrl-sg1</text>
<text transform="translate(55.6,509.2) rotate(-42) scale(0.9100,1)" font-size="7.0" fill="#333" >Ctrl-sg2</text>
<text transform="translate(74.0,509.2) rotate(-42) scale(0.8863,1)" font-size="7.0" fill="#333" >F11-sg1</text>
<text transform="translate(92.0,509.2) rotate(-42) scale(0.8863,1)" font-size="7.0" fill="#333" >F11-sg2</text>
<linearGradient id="tube" x1="0" x2="1" y1="0" y2="0"><stop offset="0" stop-color="#8e8e8a"/><stop offset="0.18" stop-color="#d8d8d4"/><stop offset="0.5" stop-color="#f4f4f2"/><stop offset="0.82" stop-color="#d8d8d4"/><stop offset="1" stop-color="#8e8e8a"/></linearGradient>
<rect x="33.10" y="511.50" width="68.00" height="20.00" fill="#bdbcb6" stroke="#7a7a76" stroke-width="0.5" />
<path d="M33.2,512 L33.2,521 Q33.2,530.6 41.2,530.6 Q49.2,530.6 49.2,521 L49.2,512 Z" fill="url(#tube)" filter="url(#bl)"/>
<rect x="34.2" y="512" width="14" height="3.5" fill="#c8c8c4" filter="url(#bl)"/>
<ellipse cx="41.400000000000006" cy="522.7" rx="3.7" ry="2.8" fill="#b01a20" filter="url(#bl)"/>
<path d="M49.7,512 L49.7,521 Q49.7,530.6 57.7,530.6 Q65.7,530.6 65.7,521 L65.7,512 Z" fill="url(#tube)" filter="url(#bl)"/>
<rect x="50.7" y="512" width="14" height="3.5" fill="#c8c8c4" filter="url(#bl)"/>
<ellipse cx="57.900000000000006" cy="522.7" rx="3.7" ry="2.8" fill="#b01a20" filter="url(#bl)"/>
<path d="M66.6,512 L66.6,521 Q66.6,530.6 74.6,530.6 Q82.6,530.6 82.6,521 L82.6,512 Z" fill="url(#tube)" filter="url(#bl)"/>
<rect x="67.6" y="512" width="14" height="3.5" fill="#c8c8c4" filter="url(#bl)"/>
<ellipse cx="74.6" cy="522.5" rx="5.0" ry="3.3" fill="#f0efea" stroke="#a8a6a0" stroke-width="0.6" filter="url(#bl)"/>
<path d="M83.5,512 L83.5,521 Q83.5,530.6 91.5,530.6 Q99.5,530.6 99.5,521 L99.5,512 Z" fill="url(#tube)" filter="url(#bl)"/>
<rect x="84.5" y="512" width="14" height="3.5" fill="#c8c8c4" filter="url(#bl)"/>
<ellipse cx="91.5" cy="522.5" rx="5.0" ry="3.3" fill="#f0efea" stroke="#a8a6a0" stroke-width="0.6" filter="url(#bl)"/>
<text x="52.0" y="540.7" font-size="6.3" fill="#333" textLength="30.3" lengthAdjust="spacingAndGlyphs" >Cell pellet</text>
<text x="153.8" y="383.5" font-size="10.3" font-weight="bold" fill="#000" textLength="3.2" lengthAdjust="spacingAndGlyphs" >I</text>
<text x="231.1" y="391.1" font-size="8.9" fill="#333" textLength="36.9" lengthAdjust="spacingAndGlyphs" >HUDEP-2</text>
<line x1="184" y1="396.3" x2="314.6" y2="396.3" stroke="#555" stroke-width="0.8" />
<text x="198.1" y="404.9" font-size="6.3" fill="#333" textLength="15.7" lengthAdjust="spacingAndGlyphs" >Day0</text>
<text x="241.3" y="404.9" font-size="6.3" fill="#333" textLength="15.7" lengthAdjust="spacingAndGlyphs" >Day5</text>
<text x="284.7" y="404.9" font-size="6.3" fill="#333" textLength="15.7" lengthAdjust="spacingAndGlyphs" >Day9</text>
<rect x="183.60" y="410.10" width="42.60" height="42.10" fill="#fff" stroke="#9a9a9a" stroke-width="0.8" />
<path d="M196.0 420.8h0M210.0 420.4h0M191.7 422.2h0M199.7 423.0h0M197.1 424.8h0M202.0 427.2h0M201.9 422.1h0M206.2 423.5h0M195.1 423.3h0M195.6 424.3h0M196.1 422.4h0M195.0 422.3h0M206.0 424.1h0M195.8 418.6h0M202.6 420.0h0M195.1 423.1h0M192.8 423.3h0M204.5 421.6h0M194.4 421.1h0M206.6 422.0h0M205.3 421.7h0M199.7 422.0h0M199.7 422.2h0M203.3 424.2h0M198.3 419.4h0M195.6 419.5h0M188.7 421.5h0M195.1 425.6h0M196.2 418.4h0M201.0 421.5h0M203.4 421.9h0M208.5 420.0h0M200.2 420.6h0M196.5 417.8h0M202.1 417.9h0M200.9 422.6h0M201.1 418.0h0M203.1 420.0h0M201.0 420.7h0M208.9 420.3h0M197.9 422.2h0M191.6 420.5h0M197.9 422.1h0M197.2 425.5h0M208.8 424.3h0M198.9 423.0h0M209.6 425.5h0M202.5 420.4h0M204.9 423.3h0M199.5 421.3h0M192.3 418.3h0M192.6 422.2h0M200.1 420.0h0M197.8 424.7h0M193.0 420.6h0M193.0 426.0h0M197.1 424.7h0M202.9 420.1h0M202.2 422.0h0M201.5 422.0h0M202.2 422.9h0M195.2 423.2h0M195.1 418.7h0M197.1 419.6h0M195.6 419.1h0M203.3 423.5h0M195.8 424.5h0M198.5 419.9h0M193.8 422.5h0M198.5 422.1h0M213.9 423.6h0M198.6 419.1h0M196.9 420.0h0M195.9 416.3h0M199.7 419.1h0M210.1 421.0h0M203.7 422.3h0M195.1 422.0h0M196.8 420.7h0M198.7 417.2h0M206.0 422.8h0M198.2 424.6h0M194.0 415.9h0M200.3 419.6h0M198.5 420.3h0M197.7 419.3h0M198.5 423.1h0M200.7 425.3h0M201.9 422.4h0M199.9 422.7h0M198.1 418.6h0M193.4 417.4h0M197.6 421.7h0M201.1 424.0h0M196.5 416.7h0M195.3 421.4h0M189.1 418.7h0M193.1 425.9h0M204.3 419.9h0M196.3 421.6h0M200.0 421.9h0M192.9 419.3h0M205.7 421.4h0M204.0 421.4h0M200.1 422.1h0M197.4 424.1h0M203.1 421.3h0M199.6 425.0h0M194.0 423.3h0M204.6 425.0h0M206.2 419.7h0M203.0 420.7h0M203.1 421.9h0M203.4 420.0h0M199.8 422.7h0M201.7 423.5h0M208.2 419.4h0M199.3 417.8h0M202.0 425.1h0M199.9 424.2h0M209.2 422.5h0M203.5 423.6h0M195.1 418.8h0M196.9 419.6h0M202.0 416.5h0M188.6 417.4h0M199.9 420.9h0M197.9 420.7h0M196.4 419.7h0M199.8 421.0h0M200.3 421.3h0M199.2 421.6h0M209.2 426.1h0M204.6 417.3h0M201.9 424.6h0M201.2 418.1h0M197.3 427.3h0M197.9 418.2h0M197.8 423.7h0M199.2 418.9h0M187.7 421.9h0M190.2 423.6h0M204.8 422.3h0M198.7 421.2h0M197.5 419.8h0M194.0 419.3h0M206.8 425.5h0M199.0 422.7h0M197.2 421.8h0M205.7 423.7h0M204.0 423.1h0M203.0 419.9h0M202.6 417.7h0M199.9 422.3h0M201.0 417.2h0M203.7 418.7h0M186.3 421.2h0M198.4 417.8h0M200.3 421.1h0M198.5 418.6h0M202.7 421.6h0M197.6 418.9h0M195.1 420.8h0M189.5 419.7h0M205.2 421.1h0M198.6 420.6h0M203.0 423.7h0M200.1 420.5h0M202.4 423.6h0M198.0 422.6h0M201.8 423.4h0M199.7 420.2h0M199.6 420.7h0M198.9 424.8h0M203.3 421.6h0M200.9 422.8h0M201.1 420.7h0M196.8 416.8h0M199.1 425.9h0M195.2 424.9h0M194.8 420.5h0M204.7 419.3h0M196.2 424.1h0M197.8 423.2h0M211.5 419.2h0M205.0 425.6h0M198.7 421.2h0M203.1 423.0h0M206.6 418.6h0M198.9 423.9h0M202.0 420.8h0M203.0 422.9h0M194.6 417.4h0M199.4 421.3h0M200.1 422.5h0M194.7 420.2h0M205.0 420.1h0M193.2 419.3h0M201.9 426.0h0M204.9 418.4h0M199.5 420.2h0M203.4 422.2h0M198.2 420.1h0M205.6 418.3h0M197.0 419.1h0M204.2 424.7h0M201.6 423.8h0M199.3 418.4h0M199.8 426.0h0M196.7 423.6h0M191.7 422.8h0M205.8 422.3h0M189.9 421.8h0M194.6 423.6h0M200.6 421.3h0M200.4 419.1h0M197.7 423.2h0M200.8 425.6h0M202.7 426.9h0M194.8 421.3h0M200.3 418.7h0M201.0 420.7h0M198.5 421.0h0M201.0 423.6h0M197.3 423.2h0M191.4 420.0h0M193.8 422.8h0M199.6 420.0h0M200.0 421.5h0M192.5 424.5h0" stroke="#4a5ae6" stroke-width="0.7" stroke-linecap="square"/>
<path d="M205.5 430.9h0M207.7 437.6h0M205.9 425.6h0M204.4 426.3h0M206.7 427.3h0M204.8 421.6h0M204.8 432.7h0M206.8 428.9h0M208.1 431.8h0M203.3 431.7h0M204.4 430.9h0M204.2 425.3h0M202.4 424.6h0M206.5 428.2h0M207.5 427.6h0M207.1 430.4h0M206.6 431.6h0M204.8 434.2h0M207.2 416.5h0M201.7 429.1h0M206.5 423.8h0M209.9 425.5h0M207.1 433.2h0M204.4 421.1h0M205.0 423.4h0" stroke="#5a6af0" stroke-width="0.7" stroke-linecap="square"/>
<path d="M195.8 420.2h0M196.6 424.7h0M193.3 421.5h0M195.2 422.0h0M190.9 420.3h0M199.0 420.9h0M194.0 422.7h0M196.0 422.5h0M190.8 422.4h0M195.2 420.4h0M195.4 419.6h0M193.7 420.5h0M190.3 422.7h0M189.1 422.3h0M196.1 420.5h0M193.3 423.4h0M191.9 422.1h0M196.0 422.7h0M197.8 421.2h0M199.7 422.8h0M192.8 420.3h0M196.0 421.9h0M191.7 423.1h0M196.4 423.1h0M190.1 420.8h0M189.6 422.0h0M197.7 423.4h0M197.4 420.2h0M193.6 421.0h0M193.1 422.3h0M194.7 419.6h0M197.1 421.3h0M195.2 419.7h0M194.2 422.2h0M199.1 419.7h0M192.5 420.3h0M188.7 423.3h0M193.2 422.3h0M193.8 421.5h0M192.5 420.2h0" stroke="#4a5ae6" stroke-width="0.7" stroke-linecap="square"/>
<g filter="url(#bl2)"><ellipse cx="199.40" cy="420.90" rx="7.5" ry="3.0" fill="#5870ee" opacity="0.9" transform="rotate(-10 199.40 420.90)"/><ellipse cx="200.40" cy="420.70" rx="5.0" ry="2.3" fill="#30b8e0" opacity="0.95" transform="rotate(-10 200.40 420.70)"/><ellipse cx="200.90" cy="420.60" rx="3.4" ry="1.7" fill="#5cc84a" opacity="1" transform="rotate(-10 200.90 420.60)"/><ellipse cx="201.40" cy="420.50" rx="2.0" ry="1.2" fill="#e8d830" opacity="1" transform="rotate(-10 201.40 420.50)"/><ellipse cx="201.70" cy="420.50" rx="1.1" ry="0.8" fill="#e03020" opacity="1" transform="rotate(-10 201.70 420.50)"/></g>
<line x1="203.8" y1="410.1" x2="203.8" y2="452.2" stroke="#555" stroke-width="0.7" />
<line x1="183.6" y1="428.5" x2="226.2" y2="428.5" stroke="#555" stroke-width="0.7" />
<text x="224.39999999999998" y="415.70000000000005" font-size="5.3" text-anchor="end" fill="#444" >3.5%</text>
<rect x="227.70" y="410.10" width="42.70" height="42.10" fill="#fff" stroke="#9a9a9a" stroke-width="0.8" />
<line x1="228.6" y1="410.1" x2="228.6" y2="452.2" stroke="#d0d0d0" stroke-width="1.0" />
<path d="M250.9 430.1h0M250.4 431.1h0M238.2 423.9h0M236.7 423.0h0M253.8 427.3h0M237.2 423.1h0M253.8 422.1h0M240.2 427.9h0M254.4 430.8h0M240.2 421.5h0M235.5 427.6h0M246.0 430.5h0M251.1 430.1h0M236.2 422.2h0M244.4 427.7h0M238.2 430.9h0M231.1 425.7h0M237.0 427.6h0M248.3 424.9h0M247.1 430.7h0M238.5 423.3h0M236.2 424.7h0M236.1 419.5h0M249.5 421.5h0M233.7 427.7h0M252.5 422.1h0M234.1 429.9h0M229.9 421.4h0M237.2 423.0h0M254.0 425.4h0M229.2 431.2h0M248.9 425.3h0M258.5 429.2h0M250.1 423.7h0M243.9 431.6h0M249.5 425.2h0M233.1 427.8h0M245.8 429.8h0M250.0 429.3h0M244.7 427.6h0M240.8 427.4h0M247.7 427.5h0M238.2 427.7h0M243.2 422.4h0M244.5 428.4h0M240.5 431.8h0M247.0 429.9h0M249.5 419.8h0M229.3 427.7h0M240.7 424.1h0M248.4 427.3h0M246.3 422.6h0M255.2 418.1h0M252.2 424.1h0M250.7 426.2h0M246.5 431.2h0M238.9 418.3h0M238.7 417.3h0M238.4 423.0h0M247.6 423.6h0M246.6 420.4h0M246.2 425.2h0M251.7 434.3h0M249.8 429.2h0M236.9 423.6h0M258.8 419.9h0M242.0 427.7h0M251.9 424.1h0M244.3 428.1h0M254.9 426.4h0M242.3 430.6h0M252.5 424.2h0M247.1 425.7h0M245.0 420.1h0M246.2 425.9h0M234.1 425.9h0M236.9 423.7h0M241.8 433.8h0M253.3 422.2h0M254.1 424.9h0M255.1 428.8h0M254.8 429.8h0M241.1 424.1h0M246.0 427.2h0M254.1 435.0h0M246.6 433.5h0M249.1 428.5h0M236.9 426.7h0M250.1 425.5h0M238.9 426.4h0M253.8 429.6h0M239.4 429.6h0M243.1 424.6h0M255.8 427.9h0M245.8 426.1h0M256.3 416.7h0M252.8 427.5h0M248.9 423.2h0M236.2 427.5h0M233.6 430.6h0M250.0 425.7h0M237.9 431.9h0M243.7 419.5h0M236.9 418.8h0M250.7 421.9h0M243.6 427.6h0M254.4 420.6h0M249.2 424.3h0M243.0 417.8h0M244.8 426.9h0M246.9 428.3h0M238.0 420.1h0M249.4 421.1h0M265.5 424.8h0M243.1 423.5h0M240.1 425.0h0M232.5 430.0h0M254.2 426.4h0M238.3 427.3h0M253.2 427.8h0M242.5 427.5h0M234.5 429.3h0M256.6 429.1h0M252.1 428.1h0M233.7 431.4h0M254.5 422.4h0M242.4 429.2h0M248.6 422.3h0M235.8 421.8h0M247.1 429.4h0M251.2 425.2h0M247.0 424.4h0M253.7 426.5h0M242.1 430.8h0M244.6 425.1h0M236.6 426.1h0M257.1 422.2h0M254.1 422.2h0M237.9 430.2h0M236.9 425.2h0M241.4 431.1h0M249.0 424.5h0M241.4 427.8h0M239.0 428.8h0M253.9 429.0h0M236.2 431.5h0M244.9 432.0h0M249.1 425.8h0M229.7 433.1h0M238.4 427.9h0M252.9 431.7h0M236.7 432.7h0M239.6 425.3h0M261.5 425.7h0M244.2 421.2h0M244.8 417.4h0M246.2 428.6h0M244.9 422.4h0M259.4 425.5h0M239.6 425.8h0M236.0 422.9h0M232.1 423.1h0M240.4 424.9h0M246.4 424.1h0M259.5 421.5h0M246.1 428.4h0M241.7 422.3h0M234.9 430.4h0M242.1 427.7h0M228.8 423.8h0M248.0 425.7h0M244.1 422.9h0M252.1 425.5h0M250.0 428.0h0M239.3 425.9h0M245.2 422.9h0M244.0 423.5h0M232.6 426.4h0M246.1 429.0h0M248.6 423.1h0M237.9 430.2h0M238.5 419.4h0M229.9 423.3h0M258.6 421.0h0M255.1 423.4h0M241.7 422.7h0M258.5 431.1h0M238.1 427.8h0M231.5 424.3h0M246.2 424.5h0M248.3 417.7h0M263.2 424.9h0M229.2 422.8h0M231.2 422.3h0M252.0 425.9h0M253.8 430.3h0M260.3 423.1h0M235.8 427.0h0M255.4 431.1h0M243.7 427.9h0M259.1 431.1h0M232.0 429.3h0M252.6 427.9h0M243.9 419.9h0M247.7 429.9h0M251.1 418.7h0M253.1 428.8h0M252.9 422.9h0M245.8 423.1h0M243.0 426.1h0M247.4 421.7h0M252.3 433.9h0M244.8 427.0h0M243.8 424.6h0M241.9 424.5h0M257.2 426.9h0M235.4 422.6h0M241.0 420.6h0M248.1 429.5h0M230.9 422.1h0M238.7 422.8h0M250.8 419.8h0M244.3 428.4h0M260.5 426.4h0M246.8 430.7h0M232.7 425.3h0M255.1 424.1h0M248.3 429.5h0M247.4 429.3h0M243.6 420.9h0M233.3 420.9h0M250.4 426.1h0M240.9 421.1h0M268.8 428.0h0M234.7 429.3h0M245.4 429.8h0M259.8 432.5h0M247.3 426.5h0M242.8 421.4h0M235.9 433.8h0M241.5 422.4h0M239.8 417.9h0M249.6 423.6h0M245.2 423.6h0M243.5 422.5h0M236.0 425.1h0M241.7 421.9h0M236.3 427.2h0M254.9 421.6h0M244.7 429.7h0M254.8 422.7h0M235.2 423.1h0M247.4 430.5h0M244.1 422.2h0M237.1 428.2h0M239.7 424.6h0M245.6 424.9h0M245.7 421.8h0M244.3 428.8h0M243.7 428.2h0M250.8 426.0h0M254.4 428.8h0M250.8 425.7h0M245.5 430.8h0M240.2 429.6h0M238.9 428.5h0M241.6 421.6h0M250.4 423.4h0M238.0 422.9h0M236.9 423.6h0M246.5 427.7h0M234.9 425.9h0M231.2 428.1h0M239.5 428.9h0M239.0 430.1h0M233.5 426.7h0M251.0 424.8h0M243.5 419.2h0M246.3 423.9h0M239.4 423.6h0M241.7 427.6h0M247.8 418.1h0M249.8 423.2h0M256.9 422.9h0M233.5 421.8h0M244.5 425.6h0M235.9 422.5h0M235.1 431.2h0M244.0 424.5h0M243.5 426.4h0M241.6 427.3h0M251.0 426.1h0M243.3 423.9h0M249.3 425.7h0M247.3 423.6h0M251.1 423.1h0M249.0 422.8h0M241.2 433.5h0M248.5 426.3h0M250.9 429.6h0M244.7 423.4h0M230.6 422.7h0M257.9 426.3h0M245.5 426.7h0M236.4 426.3h0M235.3 429.2h0M255.1 426.6h0M256.0 433.0h0M238.8 426.5h0M236.1 425.5h0M256.5 428.7h0M230.4 429.0h0M245.1 419.4h0M250.7 425.2h0M234.7 424.2h0M234.5 422.1h0M245.3 420.9h0M236.3 423.4h0M248.3 428.3h0M252.2 429.4h0M239.8 424.5h0M232.7 431.1h0M249.8 429.8h0M235.3 425.8h0M240.0 434.8h0M235.5 424.5h0M246.3 426.6h0M238.1 426.6h0M239.2 420.9h0M251.5 427.4h0M240.0 430.9h0M229.8 423.2h0M253.2 427.1h0M243.6 424.0h0M252.7 427.1h0M244.5 427.2h0M252.0 421.3h0M236.5 419.7h0M243.5 422.2h0M246.0 417.8h0M259.6 423.6h0M249.6 416.9h0M254.9 424.3h0M233.5 428.8h0M247.8 425.8h0M240.3 426.9h0M252.5 429.0h0M245.7 427.7h0M235.4 423.9h0M242.5 426.1h0M250.9 429.4h0M247.8 426.8h0M233.8 433.4h0M245.9 418.6h0M245.0 424.5h0M242.3 420.8h0M246.8 425.5h0M246.3 427.8h0M237.8 427.6h0M242.3 432.3h0M261.7 422.8h0M248.6 427.1h0M231.3 428.1h0M245.5 419.2h0M251.5 429.3h0M255.9 427.9h0M247.6 423.4h0M242.0 427.1h0M249.5 423.8h0M242.9 429.6h0M257.5 435.2h0M253.5 424.3h0M236.9 428.6h0M246.2 425.7h0M246.5 431.4h0M240.7 430.0h0M251.3 428.3h0M255.5 423.8h0M231.4 422.1h0M249.9 431.1h0M251.8 425.3h0M255.2 426.6h0M247.7 425.2h0M242.4 431.7h0M237.1 425.0h0M238.5 429.4h0M247.0 420.1h0M237.1 427.4h0M240.4 424.6h0M237.0 426.4h0M256.3 426.7h0M250.0 427.7h0M231.4 421.8h0M231.6 419.1h0M258.6 427.0h0M243.5 420.5h0M247.2 425.8h0M261.5 430.6h0M247.3 425.0h0M228.5 427.8h0M242.6 425.6h0M247.4 432.8h0M248.0 428.5h0M246.5 424.0h0M240.1 425.0h0M249.2 430.1h0M245.9 422.6h0M244.7 431.7h0M244.1 425.5h0M239.7 422.2h0" stroke="#4a5ae6" stroke-width="0.7" stroke-linecap="square"/>
<path d="M254.1 431.3h0M245.8 430.8h0M245.7 431.7h0M250.1 434.7h0M255.3 425.4h0M250.4 428.6h0M240.0 433.1h0M246.6 432.1h0M247.1 424.3h0M252.7 428.8h0M248.3 429.7h0M248.2 437.6h0M243.7 431.4h0M242.6 427.7h0M249.2 430.6h0M245.4 435.0h0M255.3 424.2h0M250.9 433.2h0M237.3 435.1h0M244.9 429.5h0M244.4 430.7h0M250.7 429.2h0M239.1 429.5h0M245.4 431.5h0M246.9 432.0h0M234.2 435.4h0M248.6 423.5h0M251.9 435.2h0M248.4 428.4h0M248.3 430.4h0M257.7 427.3h0M247.9 432.7h0M251.8 428.7h0M253.6 431.2h0M247.8 434.0h0M245.0 429.2h0M255.9 431.0h0M238.4 428.7h0M248.8 428.8h0M243.2 429.6h0M249.7 432.0h0M247.2 432.3h0M251.3 429.0h0M247.3 432.9h0M245.0 428.8h0M251.8 428.4h0M258.1 436.2h0M250.8 429.7h0M249.3 427.5h0M250.3 432.9h0M244.6 435.1h0M240.8 431.5h0M252.0 432.1h0M250.6 433.8h0M249.6 431.6h0M252.4 431.8h0M245.8 432.5h0M253.0 427.4h0M250.6 427.8h0M240.9 431.4h0" stroke="#5a6af0" stroke-width="0.7" stroke-linecap="square"/>
<g filter="url(#bl2)"><ellipse cx="244.30" cy="423.90" rx="11.5" ry="4.3" fill="#5870ee" opacity="0.85" transform="rotate(3 244.30 423.90)"/><ellipse cx="244.80" cy="423.40" rx="8.2" ry="3.1" fill="#30b8e0" opacity="0.95" transform="rotate(3 244.80 423.40)"/><ellipse cx="245.30" cy="423.10" rx="5.6" ry="2.1" fill="#5cc84a" opacity="1" transform="rotate(3 245.30 423.10)"/><ellipse cx="245.60" cy="423.00" rx="3.3" ry="1.3" fill="#e8d830" opacity="1" transform="rotate(3 245.60 423.00)"/><ellipse cx="245.80" cy="423.00" rx="1.5" ry="0.7" fill="#e03020" opacity="0.9" transform="rotate(3 245.80 423.00)"/></g>
<line x1="248.6" y1="410.1" x2="248.6" y2="452.2" stroke="#555" stroke-width="0.7" />
<line x1="227.7" y1="428.5" x2="270.4" y2="428.5" stroke="#555" stroke-width="0.7" />
<text x="268.59999999999997" y="415.70000000000005" font-size="5.3" text-anchor="end" fill="#444" >26.9%</text>
<rect x="271.80" y="410.10" width="42.70" height="42.10" fill="#fff" stroke="#9a9a9a" stroke-width="0.8" />
<line x1="272.7" y1="410.1" x2="272.7" y2="452.2" stroke="#d0d0d0" stroke-width="1.0" />
<path d="M298.9 426.3h0M290.4 419.8h0M292.8 428.8h0M289.9 425.6h0M283.0 433.4h0M294.4 425.4h0M296.0 428.6h0M292.9 426.1h0M292.7 429.1h0M297.4 430.9h0M294.8 431.2h0M291.3 419.8h0M283.2 431.0h0M282.2 423.3h0M292.3 431.3h0M279.6 421.7h0M287.3 423.5h0M292.3 430.7h0M296.1 439.9h0M301.9 420.8h0M283.0 425.7h0M290.3 431.9h0M296.1 430.7h0M292.3 429.1h0M294.7 426.0h0M295.9 420.6h0M298.1 429.8h0M310.0 426.7h0M282.8 424.0h0M291.0 423.4h0M284.6 425.1h0M283.6 432.1h0M282.9 429.6h0M298.3 428.9h0M300.6 428.8h0M297.5 423.0h0M284.6 424.5h0M293.1 431.4h0M284.7 423.9h0M287.3 430.5h0M288.6 432.0h0M289.9 423.4h0M287.7 419.0h0M275.9 424.1h0M287.4 436.4h0M294.7 430.9h0M292.9 425.9h0M283.2 421.0h0M300.8 424.7h0M289.3 430.3h0M290.8 425.8h0M304.5 428.6h0M289.8 425.1h0M287.8 428.6h0M295.7 424.3h0M290.7 419.7h0M290.4 430.1h0M286.3 426.4h0M287.9 424.8h0M294.0 422.5h0M299.1 432.9h0M299.5 422.8h0M280.7 424.4h0M293.0 426.8h0M291.1 427.1h0M290.1 429.9h0M283.5 428.6h0M295.3 424.3h0M293.8 421.4h0M293.8 428.0h0M299.0 424.8h0M299.0 420.9h0M292.4 418.9h0M292.2 430.4h0M282.9 430.1h0M295.1 419.7h0M286.3 424.5h0M295.4 433.3h0M288.2 422.6h0M289.9 414.6h0M295.0 426.3h0M290.4 433.0h0M290.5 423.6h0M298.3 424.9h0M292.5 425.5h0M292.1 427.9h0M294.2 421.7h0M300.1 425.2h0M289.7 430.8h0M289.5 429.1h0M299.1 431.1h0M289.7 431.6h0M291.1 423.5h0M287.4 428.5h0M288.3 433.0h0M297.2 429.6h0M299.2 431.3h0M287.7 438.1h0M283.5 427.7h0M281.3 425.8h0M289.7 420.9h0M295.6 427.5h0M292.3 422.4h0M300.7 426.0h0M296.7 420.3h0M300.9 425.5h0M298.1 425.2h0M292.0 429.2h0M292.1 436.5h0M291.3 425.9h0M298.9 427.9h0M286.8 425.8h0M296.9 427.4h0M299.2 421.9h0M294.3 423.8h0M290.3 424.4h0M287.5 437.7h0M293.4 430.6h0M294.7 435.9h0M289.2 421.4h0M296.3 423.0h0M301.3 423.1h0M291.0 430.1h0M286.0 425.9h0M294.5 420.7h0M291.9 420.9h0M291.4 434.4h0M300.8 426.3h0M291.2 423.8h0M297.1 430.3h0M284.3 423.0h0M284.9 427.9h0M293.9 427.7h0M296.1 429.7h0M292.4 429.5h0M289.4 430.5h0M298.6 417.6h0M302.1 426.7h0M296.7 427.2h0M301.6 427.0h0M294.8 424.7h0M292.5 429.0h0M286.6 426.3h0M289.1 427.4h0M298.2 427.7h0M300.1 424.1h0M290.3 426.3h0M287.0 428.8h0M288.1 423.7h0M293.8 423.6h0M292.2 426.6h0M298.8 433.4h0M295.4 424.0h0M297.2 437.9h0M290.1 425.9h0M300.0 426.6h0M290.1 432.1h0M286.9 431.3h0M287.3 429.3h0M291.7 423.2h0M297.1 420.5h0M295.6 426.1h0M298.4 421.5h0M297.7 436.0h0M288.5 427.0h0M297.9 443.3h0M293.7 423.9h0M293.6 426.2h0M289.5 421.0h0M301.2 419.8h0M291.0 418.4h0M278.7 429.4h0M283.5 430.1h0M292.3 422.4h0M296.4 420.5h0M296.6 432.0h0M284.3 427.5h0M301.5 428.3h0M284.5 431.4h0M292.4 427.9h0M283.9 428.4h0M293.6 421.5h0M294.9 425.2h0M296.7 430.2h0M286.7 420.6h0M299.7 429.4h0M288.0 431.5h0M295.2 428.5h0M288.7 423.9h0M299.4 426.2h0M290.0 429.4h0M285.2 426.1h0M291.7 438.9h0M282.0 426.6h0M287.8 419.2h0M304.6 434.0h0M289.4 425.4h0M290.6 426.1h0M289.9 428.0h0M298.6 428.5h0M297.7 420.6h0M301.9 423.9h0M286.3 422.9h0M295.4 426.4h0M284.8 426.3h0M304.5 427.8h0M290.0 423.3h0M294.2 422.1h0M291.2 421.4h0M296.8 422.9h0M300.9 431.1h0M293.3 432.8h0M301.1 424.1h0M302.7 430.6h0M298.9 425.9h0M292.1 432.0h0M290.5 426.7h0M297.2 421.7h0M283.4 431.8h0M298.1 435.4h0M296.6 423.0h0M297.3 430.2h0M298.3 430.5h0M296.9 431.3h0M287.8 429.1h0M285.9 424.2h0M297.1 423.7h0M283.7 423.7h0M296.1 431.8h0M295.3 431.8h0M279.3 426.5h0M297.3 426.1h0M295.8 423.5h0M292.3 433.1h0M287.6 437.3h0M293.5 426.3h0M304.8 426.1h0M298.0 432.0h0M289.0 426.1h0M292.1 426.4h0M288.3 431.4h0M294.3 422.6h0M290.7 431.9h0M286.4 425.9h0M301.7 431.9h0M293.4 429.8h0M295.4 438.4h0M299.7 429.9h0M288.4 425.6h0M293.1 424.2h0M293.4 427.7h0M291.3 425.7h0M285.7 422.6h0M304.9 434.1h0M295.8 430.0h0M293.8 423.6h0M294.0 420.2h0M292.6 422.6h0M291.2 432.0h0M291.4 426.3h0M296.3 429.0h0M301.8 429.4h0M299.4 426.1h0M289.2 431.1h0M299.1 421.9h0M284.3 424.7h0M299.4 423.8h0M295.4 436.2h0M295.5 427.7h0M294.3 431.1h0M282.3 423.1h0M292.0 436.2h0M304.5 426.7h0M295.3 421.6h0M288.9 427.8h0M289.1 429.1h0M290.8 428.3h0M298.4 425.9h0M294.9 428.3h0M290.0 427.6h0M289.9 423.6h0M288.8 423.8h0M282.8 433.0h0M279.5 429.6h0M287.8 420.3h0M291.5 421.3h0M288.8 433.3h0M296.7 427.8h0M296.2 418.8h0M302.7 428.1h0M288.4 428.0h0M299.1 424.1h0M292.5 437.1h0M300.9 429.8h0M290.9 419.7h0M287.3 427.6h0M294.2 434.5h0M290.9 427.0h0M289.0 420.2h0M294.0 422.1h0M288.9 421.4h0M293.5 423.6h0M294.6 435.5h0M292.2 427.9h0M287.8 419.9h0M303.7 417.3h0M305.2 431.9h0M291.6 429.4h0M291.8 428.9h0M295.7 427.1h0M290.3 426.4h0M292.3 426.7h0M293.0 429.7h0M292.4 427.1h0M290.0 426.9h0M292.5 427.1h0M294.1 424.7h0M283.5 431.1h0M295.8 430.4h0M296.6 421.5h0M297.1 431.1h0M296.1 422.2h0M291.7 430.1h0M297.3 424.5h0M293.9 430.4h0M282.6 421.9h0M287.9 421.8h0M289.7 429.7h0M289.7 423.2h0M291.7 446.7h0M294.3 441.0h0M293.8 443.0h0M291.9 433.3h0M292.8 443.0h0M291.9 432.9h0M291.0 436.1h0M293.5 449.9h0M294.1 447.0h0M292.1 433.5h0M292.3 448.9h0M292.5 437.5h0M293.4 435.0h0M292.6 436.1h0M293.5 440.3h0M291.2 445.4h0M292.3 439.0h0M294.0 438.1h0M292.5 432.9h0M291.5 441.1h0M293.0 432.7h0M291.5 433.7h0M292.9 433.5h0M292.1 443.8h0M293.3 438.2h0M292.0 446.7h0M291.8 433.5h0M291.5 437.8h0M290.6 450.4h0M291.0 441.0h0M293.4 432.6h0M292.4 437.6h0M293.3 433.4h0M293.3 441.6h0M291.3 447.4h0M292.5 441.1h0M294.4 441.7h0M295.1 441.1h0M294.5 445.6h0M288.8 439.1h0M292.1 445.6h0M296.2 435.7h0M292.1 435.1h0M294.0 435.4h0M291.2 438.7h0M294.9 437.2h0M292.9 437.3h0M292.4 434.6h0" stroke="#4a5ae6" stroke-width="0.7" stroke-linecap="square"/>
<g filter="url(#bl3)"><path d="M278.0,421.5 L284.0,419.8 L296.0,419.4 L300.5,421.0 L299.0,427.0 L295.0,434.5 L292.5,438.0 L289.5,431.5 L283.5,425.5 Z" fill="#5870ee" opacity="0.8" stroke="#5870ee" stroke-width="1.2" stroke-linejoin="round"/><path d="M283.5,421.2 L295.0,420.6 L298.0,423.0 L295.5,429.5 L292.6,434.0 L289.5,428.0 Z" fill="#30b8e0" opacity="0.95" stroke="#30b8e0" stroke-width="1.2" stroke-linejoin="round"/><path d="M287.0,421.6 L296.0,421.6 L295.0,426.5 L292.6,431.0 L289.5,426.0 Z" fill="#5cc84a" opacity="1" stroke="#5cc84a" stroke-width="1.2" stroke-linejoin="round"/></g>
<g filter="url(#bl2)"><ellipse cx="292.6" cy="424.8" rx="2.4" ry="3.3" fill="#e8d830"/><ellipse cx="292.3" cy="424.6" rx="1.3" ry="2.4" fill="#e03020"/></g>
<line x1="291.7" y1="410.1" x2="291.7" y2="452.2" stroke="#555" stroke-width="0.7" />
<line x1="271.8" y1="428.5" x2="314.5" y2="428.5" stroke="#555" stroke-width="0.7" />
<text x="312.7" y="415.70000000000005" font-size="5.3" text-anchor="end" fill="#444" >36.9%</text>
<rect x="183.60" y="454.60" width="42.60" height="42.50" fill="#fff" stroke="#9a9a9a" stroke-width="0.8" />
<path d="M208.3 464.8h0M198.1 464.3h0M194.7 468.9h0M198.8 465.5h0M203.8 469.9h0M203.9 468.1h0M195.0 468.7h0M202.8 463.7h0M195.1 467.1h0M193.4 463.8h0M193.8 467.2h0M194.7 465.5h0M201.3 468.5h0M204.0 467.6h0M201.5 462.0h0M198.4 468.2h0M202.6 465.0h0M201.8 465.8h0M199.3 465.4h0M194.0 462.4h0M191.7 465.0h0M212.8 462.1h0M201.1 468.3h0M203.2 466.4h0M200.3 466.9h0M197.0 465.2h0M198.9 466.2h0M200.0 464.4h0M204.8 467.2h0M197.1 462.9h0M192.6 465.1h0M197.7 464.0h0M202.7 463.1h0M205.1 462.3h0M201.7 463.6h0M190.4 465.4h0M197.5 465.7h0M201.4 465.2h0M193.0 466.1h0M204.0 467.5h0M190.8 463.7h0M195.2 464.7h0M186.9 463.7h0M192.2 462.7h0M206.1 466.1h0M199.2 467.2h0M197.0 467.1h0M201.5 466.7h0M199.0 467.6h0M199.1 465.0h0M199.0 466.6h0M194.9 465.8h0M194.9 465.6h0M200.4 468.3h0M207.9 467.9h0M193.9 465.1h0M187.0 464.3h0M193.5 466.0h0M199.5 468.0h0M199.5 462.9h0M196.8 470.5h0M201.6 467.4h0M200.3 461.1h0M197.8 466.0h0M193.6 465.0h0M203.1 466.3h0M199.5 465.5h0M199.8 467.1h0M199.8 464.1h0M195.5 462.9h0M203.9 466.1h0M205.1 468.6h0M193.7 466.0h0M202.1 462.1h0M200.5 466.3h0M196.6 467.6h0M193.6 466.7h0M205.8 465.3h0M205.2 465.2h0M199.2 468.7h0M202.1 468.4h0M205.7 469.9h0M195.0 470.3h0M199.1 467.4h0M198.7 470.0h0M202.4 462.7h0M196.0 465.3h0M198.6 466.5h0M200.9 465.4h0M198.5 465.8h0M197.0 468.8h0M199.3 466.7h0M201.8 464.8h0M206.3 466.0h0M204.8 465.7h0M203.6 466.4h0M195.6 464.9h0M191.4 467.7h0M193.3 462.4h0M204.3 465.1h0M201.0 465.8h0M191.0 465.5h0M203.6 464.8h0M188.8 467.7h0M196.8 466.0h0M194.7 466.4h0M193.4 462.5h0M202.7 466.5h0M205.9 463.5h0M199.5 463.8h0M207.8 464.7h0M201.1 463.4h0M196.8 465.0h0M199.3 466.0h0M204.1 466.8h0M204.7 464.9h0M200.5 462.3h0M202.3 465.3h0M187.1 466.0h0M194.8 468.9h0M196.0 466.6h0M199.9 467.9h0M208.7 466.7h0M196.2 467.2h0M198.7 465.7h0M198.9 463.5h0M202.8 467.1h0M199.9 465.8h0M197.8 467.2h0M195.7 465.1h0M201.3 464.2h0M200.9 465.6h0M198.6 466.4h0M201.6 466.3h0M193.1 464.4h0M198.0 464.3h0M186.8 462.2h0M196.9 467.4h0M203.6 471.1h0M194.7 464.0h0M196.5 465.9h0M199.7 469.3h0M198.4 468.5h0M201.1 465.1h0M190.2 466.5h0M198.2 461.8h0M204.1 464.4h0M199.4 468.5h0M201.5 465.3h0M197.6 467.3h0M200.1 465.2h0M202.5 468.4h0M197.8 463.6h0M198.4 462.5h0M197.0 466.4h0M196.0 463.0h0M206.0 465.0h0M201.5 466.5h0M195.6 469.2h0M197.2 467.4h0M200.0 467.5h0M190.6 466.0h0M199.8 465.1h0M185.8 464.0h0M196.5 466.6h0M193.2 462.5h0M200.5 466.1h0M196.8 467.9h0M200.1 466.5h0M187.5 468.5h0M194.8 465.2h0M202.4 465.4h0M200.1 466.8h0M209.5 466.6h0M184.7 464.7h0M196.6 465.7h0M195.3 467.4h0M199.6 466.7h0M194.8 461.8h0M201.9 465.2h0M195.6 464.8h0M204.6 461.9h0M201.7 466.0h0M208.1 461.3h0M199.6 465.2h0M191.6 463.7h0M192.8 464.7h0M198.8 465.1h0M186.4 463.4h0M194.0 465.3h0M205.4 469.4h0M192.5 461.1h0M206.0 465.1h0M204.1 462.7h0M198.3 463.6h0M194.6 462.5h0M197.6 469.7h0M194.6 464.6h0M188.3 467.9h0M199.9 466.2h0M196.1 465.9h0M205.4 462.0h0M195.6 467.5h0M193.0 462.0h0M191.6 462.3h0M195.4 468.0h0M195.3 462.6h0M195.0 467.3h0M202.7 463.2h0M194.8 465.6h0M197.1 466.6h0M198.6 466.9h0M199.6 468.9h0M189.4 464.4h0M194.3 465.1h0M193.0 469.3h0M201.5 466.1h0M195.9 466.3h0M196.1 466.7h0M191.1 462.9h0M191.8 468.3h0M200.9 465.9h0M203.8 469.0h0M197.4 468.7h0M202.8 463.8h0M193.3 467.4h0M194.8 463.4h0M195.9 465.6h0M206.4 465.2h0M204.9 463.2h0" stroke="#4a5ae6" stroke-width="0.7" stroke-linecap="square"/>
<path d="M205.4 476.1h0M204.1 469.7h0M205.9 466.5h0M201.5 466.3h0M204.3 475.0h0M204.3 470.1h0M205.0 474.4h0M207.5 470.2h0M205.8 465.2h0M204.3 475.2h0M207.4 469.4h0M203.5 468.3h0M206.1 469.5h0M207.0 466.4h0M204.3 457.4h0M202.8 471.7h0M202.7 474.6h0M206.8 465.1h0M205.4 479.4h0M207.5 472.6h0M205.7 474.8h0M204.1 470.3h0M204.5 464.8h0M205.4 466.2h0M206.6 465.0h0" stroke="#5a6af0" stroke-width="0.7" stroke-linecap="square"/>
<path d="M188.8 465.8h0M192.9 467.9h0M192.7 466.9h0M187.6 464.6h0M191.2 466.4h0M191.7 465.7h0M190.0 464.7h0M193.6 467.3h0M188.8 466.9h0M190.4 463.5h0M187.4 464.7h0M193.5 467.2h0M198.2 465.9h0M192.2 466.6h0M192.9 467.5h0M197.1 466.5h0M195.3 465.7h0M191.6 467.1h0M189.7 467.3h0M192.7 466.7h0M199.2 467.4h0M192.1 465.8h0M188.7 467.3h0M189.8 467.5h0M195.8 466.3h0M191.4 466.5h0M192.0 465.0h0M190.5 466.1h0M190.1 465.2h0M197.4 465.3h0M194.4 466.6h0M191.5 466.8h0M193.8 467.0h0M193.8 465.8h0M193.8 465.0h0M192.7 465.0h0M193.4 467.5h0M197.3 465.2h0M191.2 465.3h0M192.9 465.6h0" stroke="#4a5ae6" stroke-width="0.7" stroke-linecap="square"/>
<g filter="url(#bl2)"><ellipse cx="199.00" cy="465.30" rx="7.5" ry="3.0" fill="#5870ee" opacity="0.9" transform="rotate(-10 199.00 465.30)"/><ellipse cx="200.00" cy="465.10" rx="5.0" ry="2.3" fill="#30b8e0" opacity="0.95" transform="rotate(-10 200.00 465.10)"/><ellipse cx="200.50" cy="465.00" rx="3.4" ry="1.7" fill="#5cc84a" opacity="1" transform="rotate(-10 200.50 465.00)"/><ellipse cx="201.00" cy="464.90" rx="2.0" ry="1.2" fill="#e8d830" opacity="1" transform="rotate(-10 201.00 464.90)"/><ellipse cx="201.30" cy="464.90" rx="1.1" ry="0.8" fill="#e03020" opacity="1" transform="rotate(-10 201.30 464.90)"/></g>
<line x1="203.8" y1="454.6" x2="203.8" y2="497.1" stroke="#555" stroke-width="0.7" />
<line x1="183.6" y1="472.9" x2="226.2" y2="472.9" stroke="#555" stroke-width="0.7" />
<text x="224.39999999999998" y="460.20000000000005" font-size="5.3" text-anchor="end" fill="#444" >3.7%</text>
<rect x="227.70" y="454.60" width="42.70" height="42.50" fill="#fff" stroke="#9a9a9a" stroke-width="0.8" />
<line x1="228.6" y1="454.6" x2="228.6" y2="497.1" stroke="#d0d0d0" stroke-width="1.0" />
<path d="M249.6 468.5h0M249.3 462.2h0M239.1 476.5h0M241.9 472.7h0M236.6 475.7h0M251.3 475.0h0M241.4 472.6h0M237.1 472.3h0M228.3 472.6h0M249.3 469.6h0M255.3 470.4h0M258.6 469.1h0M238.3 470.4h0M241.5 469.5h0M250.3 465.3h0M260.2 464.0h0M257.2 469.9h0M236.6 473.6h0M230.8 470.6h0M233.8 466.0h0M233.7 470.3h0M258.1 469.4h0M255.6 468.5h0M250.2 473.4h0M242.7 473.5h0M247.0 472.0h0M230.4 471.5h0M258.4 463.8h0M243.1 470.5h0M245.3 472.0h0M249.0 468.5h0M242.9 466.9h0M230.8 467.3h0M242.6 469.6h0M239.3 468.3h0M250.5 470.4h0M245.2 478.9h0M241.4 471.6h0M249.4 463.1h0M239.5 470.9h0M249.2 468.4h0M244.4 471.9h0M248.6 469.0h0M249.8 473.1h0M235.9 459.1h0M247.0 475.6h0M242.3 477.9h0M232.2 471.2h0M249.5 467.0h0M243.2 470.9h0M250.5 475.6h0M245.0 466.1h0M256.9 472.6h0M253.5 465.0h0M244.3 465.5h0M239.9 473.6h0M248.5 475.6h0M236.6 476.4h0M245.0 473.6h0M249.9 472.3h0M246.9 464.2h0M246.2 470.3h0M240.2 466.5h0M233.2 477.7h0M241.4 468.0h0M248.5 467.4h0M235.3 471.6h0M242.5 470.9h0M247.2 468.0h0M239.6 471.5h0M241.5 470.2h0M249.7 471.3h0M253.1 467.0h0M243.7 469.2h0M231.9 472.6h0M244.0 466.9h0M251.2 472.4h0M260.2 468.4h0M238.7 468.6h0M235.9 468.0h0M229.1 472.5h0M241.0 470.2h0M242.9 465.3h0M252.1 473.4h0M255.7 470.1h0M240.1 467.2h0M242.6 474.7h0M252.3 473.2h0M237.9 466.1h0M250.5 470.4h0M246.3 474.1h0M235.3 477.6h0M246.6 474.7h0M252.5 470.8h0M236.2 471.8h0M241.2 473.6h0M245.0 470.3h0M257.6 473.4h0M242.9 467.1h0M235.3 471.3h0M244.0 474.6h0M237.7 474.6h0M238.8 474.9h0M267.6 473.6h0M253.3 471.1h0M241.3 472.1h0M252.9 470.1h0M247.1 473.8h0M248.0 475.0h0M264.9 470.7h0M245.9 476.4h0M231.8 468.4h0M245.6 471.7h0M256.9 476.2h0M246.5 471.1h0M241.5 471.1h0M253.4 478.7h0M250.0 476.3h0M249.2 467.5h0M239.1 471.7h0M239.7 474.7h0M235.4 468.9h0M233.4 476.5h0M236.7 471.7h0M229.1 471.8h0M233.8 467.2h0M247.7 467.8h0M243.7 469.2h0M235.4 471.2h0M240.6 472.2h0M246.7 467.7h0M241.2 471.9h0M255.0 465.4h0M247.6 474.1h0M243.2 473.1h0M249.7 466.4h0M254.6 467.8h0M237.4 476.3h0M252.7 473.8h0M241.1 470.7h0M242.0 475.0h0M246.7 471.8h0M240.6 471.0h0M248.8 474.2h0M254.6 466.1h0M254.8 470.1h0M244.6 466.3h0M249.4 474.7h0M241.7 477.3h0M246.7 468.5h0M248.8 473.0h0M249.5 471.1h0M261.8 468.6h0M229.1 473.8h0M255.5 483.7h0M234.3 468.7h0M244.1 471.2h0M233.4 469.5h0M240.3 464.8h0M245.9 470.4h0M242.8 469.4h0M249.9 467.2h0M252.4 471.0h0M253.3 464.5h0M252.8 468.8h0M239.6 465.8h0M230.6 471.1h0M247.3 473.0h0M234.5 466.8h0M247.2 470.6h0M251.1 470.8h0M236.0 475.0h0M249.7 470.7h0M230.9 475.6h0M249.0 467.7h0M242.7 477.2h0M246.7 474.1h0M249.9 471.0h0M235.3 472.1h0M245.6 465.8h0M245.4 474.4h0M244.5 472.7h0M254.9 478.5h0M248.9 464.1h0M243.1 468.0h0M243.9 466.3h0M246.8 466.2h0M241.7 469.4h0M252.5 466.5h0M238.7 469.7h0M240.0 467.6h0M246.7 476.8h0M239.8 464.6h0M252.4 470.7h0M241.7 470.0h0M236.3 465.2h0M242.9 471.2h0M242.5 467.3h0M249.4 476.4h0M236.3 473.1h0M237.2 468.5h0M241.4 468.1h0M245.5 474.8h0M246.8 467.8h0M246.6 473.4h0M241.7 472.4h0M234.0 471.7h0M247.8 470.7h0M243.9 472.9h0M233.1 475.8h0M249.3 474.5h0M230.6 473.9h0M255.6 464.6h0M245.0 469.1h0M260.9 476.9h0M245.4 472.0h0M236.2 467.6h0M248.4 474.1h0M236.8 472.9h0M241.6 472.3h0M240.2 468.1h0M259.0 462.8h0M257.7 472.2h0M243.8 467.8h0M238.4 469.4h0M249.0 468.3h0M240.5 468.6h0M247.9 468.8h0M248.9 470.1h0M233.9 473.8h0M233.1 474.6h0M255.6 480.7h0M248.1 474.1h0M252.3 470.6h0M238.4 472.8h0M248.2 471.7h0M244.6 469.1h0M248.2 467.4h0M246.9 473.7h0M252.3 474.4h0M243.5 475.7h0M233.6 472.3h0M255.4 473.9h0M247.2 474.4h0M266.4 467.5h0M235.7 469.7h0M232.9 469.9h0M250.7 470.2h0M254.6 471.0h0M239.2 474.4h0M240.2 470.9h0M234.7 477.0h0M233.0 468.6h0M239.0 469.1h0M251.8 473.9h0M249.4 474.9h0M246.2 470.3h0M250.6 466.9h0M251.9 470.3h0M240.6 472.5h0M244.5 469.4h0M247.7 473.2h0M262.2 468.7h0M236.5 467.1h0M240.1 475.9h0M251.2 469.4h0M247.8 472.7h0M238.1 472.5h0M240.2 474.9h0M254.6 468.5h0M239.7 474.4h0M253.7 477.2h0M254.3 471.8h0M245.9 465.5h0M257.9 471.6h0M231.2 473.3h0M252.3 472.9h0M248.3 470.2h0M251.4 467.9h0M239.9 471.7h0M240.6 470.8h0M246.2 471.6h0M251.0 474.6h0M233.4 475.9h0M246.0 473.4h0M243.9 466.3h0M252.9 473.0h0M244.1 479.2h0M238.7 466.2h0M241.3 477.3h0M246.4 465.7h0M232.5 474.1h0M241.6 472.1h0M239.4 473.2h0M241.1 469.4h0M244.9 468.8h0M237.0 470.2h0M254.6 470.6h0M244.3 473.6h0M240.3 475.5h0M235.1 479.8h0M245.0 468.5h0M247.3 470.9h0M238.6 471.8h0M237.8 473.0h0M248.8 469.6h0M259.3 470.2h0M252.3 469.0h0M235.2 471.8h0M249.3 467.3h0M249.8 471.7h0M244.7 470.8h0M232.1 466.4h0M237.5 473.5h0M241.4 470.8h0M228.8 474.0h0M239.6 472.1h0M253.9 465.9h0M235.1 467.6h0M243.2 475.6h0M244.0 469.3h0M239.5 472.9h0M245.4 475.6h0M248.2 471.6h0M236.4 471.0h0M239.2 470.0h0M235.8 476.9h0M241.3 471.3h0M256.7 469.7h0M238.4 465.6h0M242.3 465.6h0M245.7 471.2h0M259.9 472.5h0M249.7 472.0h0M248.7 469.0h0M241.8 469.5h0M253.3 471.8h0M243.2 469.4h0M249.7 466.7h0M238.1 469.3h0M252.3 472.9h0M245.2 467.3h0M237.6 474.7h0M246.8 471.3h0M234.1 472.3h0M241.1 470.4h0M258.1 476.4h0M248.5 474.0h0M245.5 475.1h0M246.8 468.0h0M228.8 466.9h0M238.6 467.7h0M250.4 478.4h0M250.0 470.1h0M240.1 478.6h0M240.6 473.4h0M231.6 466.9h0M252.7 473.6h0M255.4 474.2h0M250.2 474.9h0M236.0 473.1h0M244.5 470.7h0M246.9 468.0h0M240.0 468.7h0M243.4 473.3h0M240.8 470.7h0M240.1 465.3h0M243.7 468.8h0M238.8 465.7h0M244.7 468.7h0M237.7 469.6h0M259.8 467.6h0M245.1 473.5h0M240.6 477.0h0M233.9 462.0h0M246.5 472.6h0M247.2 475.0h0M234.6 470.9h0M251.0 467.6h0M241.9 473.5h0M246.3 473.5h0M248.9 472.5h0M240.7 471.3h0M231.3 473.8h0M243.2 470.3h0M262.4 478.2h0M255.9 476.6h0M237.6 472.8h0M254.9 471.5h0M243.6 472.0h0M249.4 472.3h0M240.3 477.7h0M245.9 470.4h0M231.7 472.8h0M259.1 470.9h0M249.7 469.3h0M241.1 471.9h0M242.9 472.2h0M235.2 470.1h0M251.1 468.3h0M241.4 474.3h0M252.4 477.7h0M257.4 468.7h0M236.6 469.6h0M236.5 474.9h0M236.9 473.4h0M251.6 474.9h0M248.4 471.3h0M249.2 475.1h0" stroke="#4a5ae6" stroke-width="0.7" stroke-linecap="square"/>
<path d="M240.5 474.8h0M246.4 483.6h0M245.1 477.1h0M241.1 468.7h0M242.7 480.4h0M239.9 476.9h0M248.6 473.0h0M246.3 476.9h0M254.6 479.2h0M250.1 473.2h0M240.3 476.7h0M248.2 479.0h0M247.6 478.7h0M251.3 474.5h0M251.2 473.6h0M243.8 476.4h0M249.1 475.2h0M250.5 475.1h0M255.3 470.9h0M247.8 478.3h0M247.7 476.9h0M249.6 475.0h0M253.3 476.5h0M249.3 474.0h0M252.3 479.2h0M246.8 475.0h0M242.7 474.1h0M242.7 472.6h0M244.7 481.7h0M244.4 470.8h0M245.5 473.9h0M250.4 475.7h0M245.8 471.1h0M240.5 473.7h0M247.7 477.0h0M242.7 476.4h0M245.8 480.0h0M245.4 472.1h0M244.6 470.4h0M248.4 468.6h0M250.1 478.9h0M258.6 478.4h0M248.6 474.2h0M238.1 479.2h0M251.0 471.6h0M239.9 477.9h0M250.7 480.9h0M249.7 478.4h0M244.7 474.4h0M251.6 474.8h0M250.2 478.9h0M245.5 472.5h0M242.1 474.5h0M258.5 475.7h0M250.2 482.9h0M249.6 476.5h0M251.8 477.6h0M246.1 477.1h0M246.3 474.0h0M241.7 475.8h0" stroke="#5a6af0" stroke-width="0.7" stroke-linecap="square"/>
<g filter="url(#bl2)"><ellipse cx="244.30" cy="468.60" rx="11.5" ry="4.3" fill="#5870ee" opacity="0.85" transform="rotate(3 244.30 468.60)"/><ellipse cx="244.80" cy="468.10" rx="8.2" ry="3.1" fill="#30b8e0" opacity="0.95" transform="rotate(3 244.80 468.10)"/><ellipse cx="245.30" cy="467.80" rx="5.6" ry="2.1" fill="#5cc84a" opacity="1" transform="rotate(3 245.30 467.80)"/><ellipse cx="245.60" cy="467.70" rx="3.3" ry="1.3" fill="#e8d830" opacity="1" transform="rotate(3 245.60 467.70)"/><ellipse cx="245.80" cy="467.70" rx="1.5" ry="0.7" fill="#e03020" opacity="0.9" transform="rotate(3 245.80 467.70)"/></g>
<line x1="248.6" y1="454.6" x2="248.6" y2="497.1" stroke="#555" stroke-width="0.7" />
<line x1="227.7" y1="472.9" x2="270.4" y2="472.9" stroke="#555" stroke-width="0.7" />
<text x="268.59999999999997" y="460.20000000000005" font-size="5.3" text-anchor="end" fill="#444" >27.9%</text>
<rect x="271.80" y="454.60" width="42.70" height="42.50" fill="#fff" stroke="#9a9a9a" stroke-width="0.8" />
<line x1="272.7" y1="454.6" x2="272.7" y2="497.1" stroke="#d0d0d0" stroke-width="1.0" />
<path d="M287.0 462.0h0M305.8 472.5h0M291.4 470.0h0M294.5 463.8h0M297.0 482.5h0M285.7 475.1h0M284.7 465.7h0M290.3 467.8h0M286.9 471.6h0M289.2 476.6h0M295.8 473.3h0M292.0 468.8h0M288.8 471.9h0M290.2 469.3h0M294.9 478.2h0M282.7 473.4h0M284.5 468.1h0M287.1 472.6h0M293.2 473.8h0M290.6 475.4h0M293.9 469.4h0M293.9 474.0h0M298.7 477.6h0M301.0 469.2h0M298.3 469.8h0M284.3 472.7h0M287.6 468.7h0M284.0 470.7h0M283.9 463.5h0M288.5 469.3h0M281.6 467.4h0M288.1 471.0h0M297.1 474.5h0M288.9 466.3h0M289.3 465.8h0M292.4 468.6h0M295.7 464.9h0M293.9 473.5h0M287.3 479.0h0M288.8 470.1h0M289.9 467.6h0M293.8 468.7h0M295.1 473.8h0M283.7 472.5h0M287.4 470.9h0M290.1 472.7h0M297.9 471.0h0M289.5 474.1h0M289.9 471.1h0M295.7 477.0h0M280.4 470.2h0M293.7 468.1h0M291.4 463.3h0M294.1 466.5h0M290.5 470.2h0M293.5 476.9h0M282.0 469.3h0M288.6 472.1h0M288.5 474.1h0M288.0 468.5h0M290.9 465.8h0M283.5 475.4h0M294.9 468.8h0M302.5 474.5h0M287.0 480.6h0M283.8 472.1h0M292.2 469.5h0M293.9 468.7h0M293.0 460.3h0M293.5 467.9h0M298.2 470.3h0M288.6 475.5h0M298.3 474.6h0M282.5 473.4h0M295.7 468.2h0M299.1 472.5h0M297.9 474.6h0M283.6 470.1h0M288.9 469.8h0M287.6 473.8h0M291.1 473.6h0M292.7 480.1h0M299.3 470.5h0M290.6 470.6h0M284.9 477.5h0M292.2 470.6h0M307.7 470.7h0M296.0 473.8h0M295.5 469.3h0M294.8 476.5h0M282.5 466.0h0M291.8 476.6h0M295.7 481.4h0M303.8 465.3h0M293.1 473.5h0M293.3 466.8h0M295.9 466.1h0M293.5 471.9h0M289.7 467.8h0M283.0 475.0h0M293.2 472.1h0M289.1 471.5h0M286.8 475.1h0M292.6 472.5h0M291.2 464.6h0M283.3 471.7h0M296.7 468.8h0M293.8 476.2h0M282.2 471.8h0M286.0 475.8h0M299.8 473.1h0M298.5 466.7h0M300.1 460.8h0M283.6 471.6h0M290.2 468.2h0M287.4 477.1h0M307.9 474.1h0M297.5 469.1h0M286.1 468.5h0M287.6 471.9h0M287.9 473.8h0M282.6 475.2h0M292.1 470.0h0M296.4 476.1h0M298.1 469.2h0M277.6 470.3h0M290.5 471.7h0M281.7 471.2h0M297.5 476.2h0M281.1 465.8h0M289.2 472.9h0M291.1 474.7h0M285.9 477.1h0M287.9 484.2h0M296.9 479.4h0M291.1 481.6h0M291.6 477.1h0M290.6 478.6h0M282.4 466.7h0M287.2 472.9h0M284.9 479.4h0M286.4 471.4h0M297.4 474.0h0M295.2 465.5h0M290.9 469.8h0M285.3 472.8h0M292.1 482.1h0M294.1 468.1h0M294.8 471.2h0M293.9 467.0h0M272.9 477.0h0M293.1 464.7h0M285.3 466.0h0M294.7 465.1h0M285.2 476.3h0M286.5 472.8h0M302.7 476.6h0M283.6 474.1h0M294.8 476.1h0M298.4 467.1h0M285.8 466.5h0M291.2 471.4h0M297.5 475.1h0M298.8 462.0h0M289.2 464.2h0M291.3 472.9h0M291.0 467.9h0M282.1 463.7h0M300.9 474.5h0M286.6 476.5h0M280.0 475.5h0M285.0 462.3h0M287.5 463.5h0M292.4 466.3h0M282.4 470.3h0M291.7 472.2h0M288.1 475.8h0M299.7 474.1h0M288.2 476.4h0M301.1 466.8h0M283.4 473.2h0M292.1 471.7h0M288.5 471.0h0M289.2 469.2h0M292.2 478.8h0M296.9 477.4h0M297.9 471.9h0M285.9 472.7h0M284.6 479.1h0M291.3 474.4h0M284.3 473.1h0M283.2 473.8h0M286.1 469.9h0M282.2 470.8h0M292.5 468.2h0M294.3 474.4h0M292.7 466.7h0M285.4 475.9h0M295.0 473.1h0M297.3 469.3h0M288.7 469.6h0M305.5 477.8h0M299.9 475.0h0M296.8 475.6h0M286.0 471.9h0M281.8 467.5h0M305.3 471.5h0M281.9 472.3h0M286.5 472.9h0M290.5 479.0h0M301.3 471.2h0M298.8 471.2h0M288.5 476.9h0M292.0 472.0h0M297.8 473.7h0M296.8 468.1h0M281.8 471.1h0M299.4 474.0h0M291.2 470.6h0M297.8 468.3h0M288.3 471.3h0M283.3 466.6h0M293.7 469.3h0M288.5 482.4h0M297.4 471.3h0M288.3 468.8h0M294.2 459.6h0M292.5 475.3h0M294.4 470.2h0M292.6 465.7h0M291.5 466.6h0M302.1 469.7h0M287.5 468.7h0M308.4 465.0h0M287.9 471.1h0M283.8 475.7h0M301.8 463.9h0M283.6 470.9h0M284.1 463.7h0M285.4 466.0h0M281.4 476.5h0M288.9 475.0h0M296.7 476.1h0M303.1 473.4h0M284.6 478.5h0M288.1 470.8h0M298.3 468.7h0M280.4 465.5h0M296.6 469.0h0M281.2 471.6h0M292.1 473.2h0M282.8 479.5h0M302.3 466.0h0M299.8 469.9h0M294.7 475.6h0M285.4 468.0h0M282.4 471.9h0M288.3 470.0h0M289.1 472.3h0M292.0 467.3h0M291.0 468.7h0M289.3 472.0h0M291.3 467.0h0M292.0 478.5h0M287.0 469.3h0M287.2 482.1h0M298.6 479.7h0M279.5 466.0h0M297.2 464.3h0M285.6 480.5h0M296.3 479.2h0M296.0 466.7h0M286.7 478.7h0M286.8 475.6h0M288.7 464.8h0M276.4 472.4h0M297.9 477.0h0M285.1 468.5h0M294.0 473.0h0M290.1 472.1h0M299.3 467.8h0M285.9 468.5h0M286.6 472.5h0M286.8 467.1h0M286.6 468.9h0M292.3 474.4h0M288.8 469.9h0M293.9 474.9h0M286.6 465.8h0M287.2 466.5h0M295.3 480.1h0M293.1 469.6h0M287.3 478.0h0M273.7 471.5h0M279.8 470.1h0M293.2 473.5h0M297.5 475.0h0M296.8 477.3h0M282.5 468.9h0M278.9 470.2h0M293.7 472.7h0M277.8 478.5h0M284.0 465.7h0M293.0 472.7h0M277.2 469.9h0M288.3 469.6h0M290.9 470.0h0M290.1 481.4h0M283.0 470.1h0M279.7 479.4h0M284.3 471.8h0M292.9 472.7h0M287.4 469.1h0M288.6 475.1h0M292.7 469.8h0M303.9 467.9h0M290.0 469.0h0M282.4 470.8h0M283.5 473.3h0M279.9 474.5h0M285.8 466.0h0M287.1 474.3h0M286.6 470.7h0M284.7 472.5h0M290.0 477.2h0M284.7 474.9h0M283.2 477.3h0M293.6 467.7h0M283.6 465.4h0M302.0 467.3h0M298.6 476.9h0M290.7 471.8h0M285.8 471.0h0M299.0 473.1h0M294.4 468.8h0M287.9 467.3h0M286.4 478.6h0M294.0 468.0h0M297.2 476.2h0M294.8 467.2h0M299.4 466.7h0M292.6 475.4h0M288.9 469.0h0M276.2 476.3h0M291.7 472.9h0M302.6 469.4h0M288.8 474.0h0M287.9 475.9h0M288.4 470.8h0M289.6 472.5h0M285.0 470.0h0M284.1 470.6h0M288.7 479.9h0M276.9 473.8h0M293.6 470.9h0M280.9 461.9h0M291.8 462.0h0M284.0 478.0h0M292.9 478.6h0M286.6 475.0h0M290.7 474.9h0M291.2 475.5h0M300.8 469.4h0M309.2 471.9h0M287.2 477.4h0M294.1 464.9h0M276.3 469.0h0M289.5 472.1h0M286.1 468.7h0M291.8 477.2h0M286.2 476.4h0M286.8 470.1h0M285.1 468.8h0M289.3 468.3h0M295.9 463.7h0M292.8 472.0h0M284.6 464.8h0M294.5 471.7h0" stroke="#4a5ae6" stroke-width="0.7" stroke-linecap="square"/>
<path d="M294.5 482.2h0M291.0 482.2h0M294.7 482.5h0M294.5 478.4h0M292.7 477.0h0M294.4 477.0h0M291.2 485.2h0M293.7 485.5h0M290.4 473.5h0M290.7 480.1h0M293.6 466.6h0M293.7 486.6h0M291.3 474.4h0M290.7 481.5h0M295.0 475.2h0M291.1 468.5h0M294.3 472.8h0M292.4 482.9h0M290.1 481.7h0M291.8 481.2h0M292.5 481.1h0M293.5 476.8h0M290.2 481.0h0M294.1 481.1h0M293.5 479.6h0M291.5 475.6h0M292.3 478.1h0M292.2 484.2h0M290.7 472.3h0M292.0 479.8h0M291.9 479.4h0M292.9 476.5h0M293.5 482.3h0M291.2 475.7h0M290.1 478.7h0M297.9 479.1h0M292.2 477.0h0M288.8 476.4h0M294.6 488.0h0M290.7 484.5h0" stroke="#5a6af0" stroke-width="0.7" stroke-linecap="square"/>
<g filter="url(#bl2)"><ellipse cx="290.40" cy="469.20" rx="9.0" ry="4.8" fill="#5870ee" opacity="0.85" transform="rotate(0 290.40 469.20)"/><ellipse cx="291.00" cy="469.10" rx="6.2" ry="3.6" fill="#30b8e0" opacity="0.95" transform="rotate(0 291.00 469.10)"/><ellipse cx="291.40" cy="468.90" rx="4.2" ry="2.6" fill="#5cc84a" opacity="1" transform="rotate(0 291.40 468.90)"/><ellipse cx="291.80" cy="468.70" rx="2.6" ry="1.7" fill="#e8d830" opacity="1" transform="rotate(0 291.80 468.70)"/><ellipse cx="291.90" cy="468.70" rx="1.3" ry="1.0" fill="#e03020" opacity="1" transform="rotate(0 291.90 468.70)"/></g>
<line x1="291.7" y1="454.6" x2="291.7" y2="497.1" stroke="#555" stroke-width="0.7" />
<line x1="271.8" y1="472.9" x2="314.5" y2="472.9" stroke="#555" stroke-width="0.7" />
<text x="312.7" y="460.20000000000005" font-size="5.3" text-anchor="end" fill="#444" >33.6%</text>
<rect x="183.60" y="499.80" width="42.60" height="41.80" fill="#fff" stroke="#9a9a9a" stroke-width="0.8" />
<path d="M198.2 514.4h0M205.3 510.9h0M193.8 511.7h0M209.9 517.6h0M198.2 509.8h0M191.6 509.6h0M201.5 510.5h0M196.8 512.8h0M188.6 508.8h0M197.8 510.3h0M196.7 512.1h0M201.2 513.7h0M200.4 512.9h0M198.3 513.8h0M200.4 510.2h0M194.3 510.1h0M197.0 513.3h0M199.8 507.3h0M196.9 506.9h0M197.5 509.7h0M198.8 514.3h0M191.3 509.1h0M205.5 509.3h0M205.5 511.0h0M194.4 507.9h0M189.2 511.6h0M202.3 509.6h0M195.4 513.3h0M193.2 509.7h0M193.1 511.6h0M197.5 508.2h0M209.9 509.3h0M203.1 511.7h0M197.8 508.8h0M195.3 510.4h0M190.6 514.4h0M193.2 507.5h0M207.9 509.1h0M205.5 507.8h0M207.3 508.5h0M193.7 512.7h0M190.1 512.7h0M205.5 511.0h0M196.2 511.9h0M199.4 512.1h0M198.2 511.6h0M194.7 512.6h0M200.8 511.1h0M207.0 514.1h0M203.4 510.3h0M193.7 511.0h0M194.9 512.6h0M209.1 515.1h0M204.8 508.3h0M202.4 514.0h0M205.5 512.8h0M204.3 512.8h0M205.6 516.6h0M202.6 510.3h0M205.7 509.6h0M202.4 515.4h0M200.9 510.3h0M196.0 509.9h0M203.6 511.9h0M204.2 514.5h0M197.0 509.9h0M196.6 512.0h0M193.9 513.8h0M204.5 506.4h0M194.2 509.8h0M202.8 509.5h0M199.9 509.6h0M200.6 510.6h0M195.3 512.5h0M193.2 513.6h0M199.4 511.3h0M195.0 510.7h0M201.6 508.2h0M210.8 510.4h0M195.8 510.1h0M197.0 509.1h0M197.9 512.5h0M202.3 510.0h0M200.3 512.7h0M199.2 512.1h0M198.0 509.0h0M196.7 513.4h0M197.2 514.1h0M196.4 511.2h0M189.2 513.8h0M196.7 508.9h0M194.5 512.6h0M200.6 513.0h0M199.1 511.9h0M209.2 516.1h0M199.5 511.3h0M196.6 512.4h0M194.1 513.9h0M198.4 513.9h0M200.8 513.9h0M200.7 513.1h0M194.7 512.4h0M189.4 511.7h0M189.2 513.2h0M201.9 514.5h0M203.9 506.7h0M196.5 509.7h0M195.5 508.6h0M192.6 513.3h0M198.7 511.6h0M202.7 516.0h0M201.9 511.7h0M199.1 507.0h0M193.0 512.8h0M201.5 510.5h0M201.3 512.6h0M197.4 509.6h0M196.4 511.1h0M204.0 506.5h0M200.5 510.7h0M208.3 510.4h0M198.9 513.8h0M200.7 513.3h0M198.3 510.5h0M193.3 508.2h0M200.9 511.9h0M199.9 507.5h0M195.7 516.0h0M197.6 511.2h0M197.7 510.1h0M193.3 515.0h0M207.5 511.9h0M193.9 513.9h0M196.4 514.3h0M199.1 514.4h0M191.7 512.6h0M206.2 511.5h0M199.6 515.5h0M190.8 512.0h0M195.7 512.0h0M206.0 511.0h0M205.5 510.9h0M193.8 512.6h0M200.5 507.5h0M198.7 510.0h0M197.8 513.7h0M201.3 511.9h0M196.2 512.4h0M199.0 514.3h0M196.5 509.7h0M198.7 511.1h0M201.1 511.9h0M198.8 510.0h0M197.9 509.6h0M199.9 509.1h0M201.8 516.1h0M209.2 511.5h0M191.9 512.5h0M196.9 515.7h0M193.3 513.4h0M188.2 508.8h0M193.3 512.3h0M200.4 511.0h0M202.2 512.1h0M209.1 512.7h0M188.6 511.6h0M203.3 512.3h0M198.3 511.3h0M199.8 506.1h0M199.7 510.5h0M192.2 511.6h0M188.6 512.0h0M196.8 512.8h0M204.0 510.4h0M194.9 509.1h0M196.2 510.8h0M200.2 512.3h0M196.4 511.7h0M199.8 510.5h0M202.2 508.7h0M199.8 513.1h0M188.2 506.6h0M195.5 512.7h0M201.3 515.2h0M199.2 512.1h0M194.0 508.4h0M200.2 513.9h0M203.1 511.5h0M204.6 512.1h0M192.8 512.9h0M202.4 510.2h0M198.3 512.3h0M191.4 510.7h0M199.0 509.2h0M193.2 513.3h0M197.5 509.7h0M195.8 515.7h0M199.6 512.7h0M192.3 512.4h0M195.7 515.4h0M201.1 513.7h0M201.4 511.4h0M206.7 512.4h0M198.1 510.3h0M200.0 512.0h0M195.4 511.4h0M199.1 509.9h0M192.1 508.8h0M198.1 511.9h0M202.1 512.8h0M201.5 509.3h0M194.8 513.7h0M196.0 510.2h0M203.6 507.8h0M195.3 510.9h0M199.5 510.0h0M191.4 509.7h0M197.7 512.5h0M196.2 512.1h0M205.9 509.7h0M194.5 511.1h0M192.3 515.2h0M204.1 507.8h0M201.2 512.9h0M195.4 507.7h0M201.9 514.3h0M203.1 510.1h0M199.9 510.9h0M194.1 506.9h0M197.7 505.6h0" stroke="#4a5ae6" stroke-width="0.7" stroke-linecap="square"/>
<path d="M203.0 513.6h0M204.4 512.1h0M206.1 520.4h0M202.7 521.0h0M206.7 511.3h0M203.9 513.3h0M205.3 515.9h0M204.3 518.6h0M203.1 520.5h0M207.5 516.7h0M204.3 521.0h0M201.2 521.5h0M203.3 517.8h0M202.6 521.1h0M206.1 515.4h0M205.5 514.0h0M204.3 512.6h0M201.8 512.9h0M205.1 517.4h0M205.9 522.5h0M202.7 508.2h0M201.8 514.9h0M205.2 516.2h0M202.4 517.6h0M204.3 512.8h0" stroke="#5a6af0" stroke-width="0.7" stroke-linecap="square"/>
<path d="M194.4 510.9h0M193.4 512.1h0M191.6 512.2h0M191.5 509.5h0M196.8 512.0h0M195.4 511.8h0M193.1 513.2h0M193.1 511.9h0M195.3 511.9h0M194.8 512.7h0M188.0 507.5h0M193.3 510.6h0M193.5 511.6h0M192.3 510.6h0M196.5 512.8h0M191.6 510.7h0M196.2 511.8h0M192.1 512.2h0M194.0 513.3h0M190.1 512.1h0M188.5 511.9h0M189.9 513.2h0M187.7 511.9h0M193.0 511.0h0M192.7 513.1h0M198.2 510.0h0M190.4 512.3h0M191.4 512.8h0M192.1 510.1h0M190.4 511.1h0M203.7 511.8h0M193.0 510.2h0M190.1 513.1h0M188.3 511.3h0M197.0 511.8h0M189.8 509.9h0M194.5 509.2h0M192.3 512.5h0M194.3 510.8h0M195.9 511.7h0" stroke="#4a5ae6" stroke-width="0.7" stroke-linecap="square"/>
<g filter="url(#bl2)"><ellipse cx="198.60" cy="510.90" rx="7.5" ry="3.0" fill="#5870ee" opacity="0.9" transform="rotate(-10 198.60 510.90)"/><ellipse cx="199.60" cy="510.70" rx="5.0" ry="2.3" fill="#30b8e0" opacity="0.95" transform="rotate(-10 199.60 510.70)"/><ellipse cx="200.10" cy="510.60" rx="3.4" ry="1.7" fill="#5cc84a" opacity="1" transform="rotate(-10 200.10 510.60)"/><ellipse cx="200.60" cy="510.50" rx="2.0" ry="1.2" fill="#e8d830" opacity="1" transform="rotate(-10 200.60 510.50)"/><ellipse cx="200.90" cy="510.50" rx="1.1" ry="0.8" fill="#e03020" opacity="1" transform="rotate(-10 200.90 510.50)"/></g>
<line x1="203.9" y1="499.8" x2="203.9" y2="541.6" stroke="#555" stroke-width="0.7" />
<line x1="183.6" y1="518.8" x2="226.2" y2="518.8" stroke="#555" stroke-width="0.7" />
<rect x="203.90" y="499.80" width="22.30" height="19.00" fill="none" stroke="#444" stroke-width="0.8" />
<text x="224.39999999999998" y="505.40000000000003" font-size="5.3" text-anchor="end" fill="#444" >3.9%</text>
<rect x="227.70" y="499.80" width="42.70" height="41.80" fill="#fff" stroke="#9a9a9a" stroke-width="0.8" />
<line x1="228.6" y1="499.8" x2="228.6" y2="541.6" stroke="#d0d0d0" stroke-width="1.0" />
<path d="M248.5 520.7h0M245.3 513.0h0M240.3 518.1h0M244.6 516.9h0M244.5 522.7h0M242.4 517.9h0M253.0 511.9h0M245.2 517.6h0M247.0 515.3h0M234.6 511.4h0M239.8 514.6h0M239.1 508.7h0M235.8 516.7h0M237.9 504.3h0M244.8 514.7h0M241.4 511.2h0M256.9 514.8h0M243.2 514.4h0M228.9 520.7h0M241.6 519.7h0M237.1 513.0h0M241.8 513.2h0M234.8 512.8h0M251.5 516.7h0M243.9 508.4h0M243.7 520.0h0M246.7 520.6h0M231.5 510.3h0M244.0 517.8h0M253.3 519.4h0M239.0 513.9h0M240.5 511.5h0M232.4 519.4h0M240.2 511.3h0M239.4 519.2h0M238.1 517.2h0M244.6 519.9h0M248.8 514.7h0M239.8 516.1h0M245.6 514.0h0M238.4 521.4h0M243.1 514.4h0M244.8 516.7h0M248.2 515.4h0M248.0 518.9h0M238.2 515.6h0M246.3 517.1h0M247.2 514.8h0M246.8 515.4h0M239.8 517.2h0M238.2 514.2h0M249.0 513.9h0M249.3 516.3h0M232.3 516.5h0M238.7 514.5h0M232.6 516.3h0M251.6 519.6h0M240.1 513.2h0M246.4 517.4h0M235.2 511.7h0M246.9 519.1h0M237.5 514.9h0M232.5 515.5h0M240.6 513.8h0M249.4 518.2h0M248.7 515.2h0M245.5 513.2h0M245.7 520.3h0M239.0 523.0h0M241.0 514.4h0M237.0 521.8h0M245.0 516.5h0M250.0 516.9h0M250.2 514.3h0M244.1 514.0h0M247.8 504.5h0M242.8 513.2h0M236.8 524.2h0M238.8 511.9h0M240.9 516.7h0M242.3 510.5h0M243.0 517.2h0M254.3 515.1h0M244.6 515.7h0M245.7 512.7h0M245.4 512.2h0M230.1 522.1h0M235.6 524.0h0M241.5 513.6h0M254.5 511.6h0M246.4 518.9h0M236.4 515.8h0M239.9 507.0h0M248.9 510.8h0M233.6 518.4h0M244.3 513.0h0M241.2 511.5h0M245.6 513.6h0M234.7 514.4h0M245.2 519.1h0M240.2 510.3h0M250.9 513.1h0M246.1 518.7h0M239.9 515.8h0M249.1 513.7h0M237.5 520.4h0M235.5 510.1h0M247.0 512.4h0M233.3 515.1h0M241.2 516.5h0M240.4 509.5h0M245.8 517.4h0M241.3 517.4h0M239.0 512.0h0M237.0 521.3h0M242.5 512.7h0M236.7 514.4h0M240.7 518.6h0M239.9 517.9h0M253.7 517.1h0M236.1 515.7h0M250.7 520.0h0M240.6 516.4h0M245.8 515.1h0M243.3 514.9h0M247.2 519.8h0M246.4 521.3h0M233.2 518.2h0M238.6 518.8h0M236.2 514.8h0M236.4 513.9h0M237.7 515.1h0M238.8 518.7h0M247.7 515.1h0M236.0 509.5h0M246.2 511.5h0M245.0 520.5h0M238.4 516.9h0M246.4 520.7h0M241.0 518.7h0M236.7 517.5h0M236.8 515.1h0M245.1 520.7h0M251.7 519.2h0M243.9 515.1h0M232.1 510.9h0M245.5 524.7h0M239.7 516.6h0M245.8 516.6h0M238.8 521.0h0M231.0 512.8h0M236.7 513.5h0M251.8 518.6h0M236.2 523.0h0M245.1 516.7h0M249.4 511.8h0M248.9 518.8h0M245.3 510.3h0M240.5 512.8h0M230.7 517.6h0M240.3 514.9h0M242.9 518.6h0M244.2 518.2h0M249.0 522.0h0M238.5 526.1h0M243.3 512.7h0M244.5 523.2h0M234.7 519.9h0M240.2 511.0h0M238.2 510.5h0M237.7 514.6h0M245.6 510.2h0M246.5 517.6h0M242.6 520.0h0M238.8 518.2h0M246.1 521.1h0M239.8 516.2h0M229.1 520.2h0M234.8 510.8h0M241.3 517.3h0M239.2 513.1h0M240.5 515.3h0M246.4 513.7h0M251.4 513.1h0M250.3 508.7h0M249.9 518.1h0M244.4 525.0h0M246.3 513.2h0M237.6 513.7h0M239.8 519.0h0M237.6 521.0h0M249.7 513.6h0M251.0 515.9h0M237.1 517.8h0M242.0 518.0h0M247.6 514.4h0M241.3 514.8h0M244.8 510.5h0M248.0 512.2h0M243.9 512.8h0M248.7 504.6h0M238.1 519.4h0M241.4 506.9h0M241.2 513.6h0M247.5 516.2h0M232.0 518.3h0M233.3 514.8h0M240.0 517.0h0M236.5 519.0h0M231.3 513.1h0M233.2 511.3h0M233.4 517.8h0M236.5 520.6h0M242.1 512.9h0M235.1 514.3h0M239.5 513.3h0M238.1 514.2h0M243.6 514.2h0M235.2 519.0h0M240.6 507.4h0M243.9 516.6h0M229.9 514.5h0M254.6 515.3h0M238.6 508.1h0M241.9 508.3h0M233.4 515.5h0M243.6 527.7h0M241.4 515.6h0M244.9 506.7h0M240.9 506.8h0M248.1 512.2h0M252.5 515.9h0M248.2 517.7h0M255.7 517.7h0M230.1 519.0h0M243.3 513.4h0M240.9 506.1h0M240.0 510.9h0M245.5 516.0h0M245.8 510.5h0M239.5 516.7h0M235.5 514.5h0M239.3 517.6h0M244.1 514.2h0M237.5 522.2h0M242.7 510.4h0M231.7 515.2h0M241.4 515.0h0M245.0 507.9h0M233.6 520.4h0M230.2 507.7h0M251.3 513.3h0M235.4 513.1h0M244.4 510.6h0M244.0 513.1h0M242.7 514.9h0M240.4 513.2h0M231.8 513.3h0M240.9 516.7h0M240.0 512.8h0M242.6 516.1h0M234.1 512.8h0M246.9 515.2h0M245.3 512.4h0M244.9 519.6h0M239.3 516.7h0M246.4 514.4h0M240.8 526.5h0M243.4 507.9h0M244.6 520.4h0M232.3 516.5h0M240.9 512.2h0M242.9 515.3h0M231.3 521.6h0M234.9 513.5h0M233.0 516.3h0M250.6 516.2h0M237.2 517.4h0M238.2 516.5h0M249.1 513.1h0M241.0 516.5h0M233.0 510.7h0M246.9 519.0h0M243.6 513.7h0M234.6 513.6h0M248.5 518.9h0M243.5 522.9h0M240.4 518.5h0M235.1 512.8h0M243.5 512.9h0M239.3 516.3h0M230.3 514.9h0M233.2 516.0h0M246.4 513.5h0M253.4 523.5h0M251.6 520.2h0M252.0 519.1h0M251.5 527.1h0M253.0 518.1h0M250.2 520.1h0M255.2 511.6h0M250.0 520.4h0M249.3 523.2h0M253.1 519.6h0M259.7 516.2h0M251.2 518.5h0M248.5 523.9h0M255.5 522.3h0M251.3 519.1h0M248.8 515.0h0M252.8 521.8h0M251.9 520.3h0M250.4 522.8h0M254.5 524.4h0M252.5 516.2h0M251.7 517.0h0M258.2 518.8h0M254.9 520.8h0M249.2 514.1h0M252.2 516.6h0M255.8 516.7h0M249.8 513.7h0M256.4 516.0h0M249.6 516.2h0M253.0 520.0h0M251.9 513.6h0M254.9 520.9h0M256.9 514.9h0M250.0 532.7h0M249.5 521.5h0M248.6 519.9h0M249.8 523.1h0M251.2 516.5h0M244.9 514.1h0M250.4 511.0h0M254.4 521.0h0M248.9 521.1h0M252.8 521.1h0M253.3 525.8h0M253.2 514.9h0M249.3 522.8h0M246.2 520.1h0M249.4 522.7h0M252.1 519.7h0M247.2 519.1h0M252.1 525.0h0M254.2 516.1h0M254.8 525.3h0M258.3 525.9h0M255.7 517.6h0M248.1 519.3h0M249.9 521.9h0M246.9 522.2h0M249.5 514.4h0" stroke="#4a5ae6" stroke-width="0.7" stroke-linecap="square"/>
<g filter="url(#bl3)"><path d="M229.0,513.1 L235.0,510.6 L246.0,510.0 L250.0,512.6 L248.5,518.1 L245.0,522.1 L240.0,519.6 L233.0,516.6 Z" fill="#5870ee" opacity="0.8" stroke="#5870ee" stroke-width="1.2" stroke-linejoin="round"/><path d="M234.5,512.6 L246.5,511.0 L248.0,515.1 L244.5,519.1 L239.5,516.6 Z" fill="#30b8e0" opacity="0.95" stroke="#30b8e0" stroke-width="1.2" stroke-linejoin="round"/></g>
<g filter="url(#bl2)"><ellipse cx="243.0" cy="513.9" rx="3.3" ry="2.7" fill="#5cc84a"/><ellipse cx="243.3" cy="513.3" rx="1.6" ry="1.3" fill="#c8e040"/></g>
<line x1="247.6" y1="499.8" x2="247.6" y2="541.6" stroke="#555" stroke-width="0.7" />
<line x1="227.7" y1="518.8" x2="270.4" y2="518.8" stroke="#555" stroke-width="0.7" />
<rect x="247.60" y="499.80" width="22.80" height="19.00" fill="none" stroke="#444" stroke-width="0.8" />
<text x="268.59999999999997" y="505.40000000000003" font-size="5.3" text-anchor="end" fill="#444" >2.3%</text>
<rect x="271.80" y="499.80" width="42.70" height="41.80" fill="#fff" stroke="#9a9a9a" stroke-width="0.8" />
<line x1="272.7" y1="499.8" x2="272.7" y2="541.6" stroke="#d0d0d0" stroke-width="1.0" />
<path d="M282.8 520.5h0M281.3 515.9h0M277.3 514.6h0M285.6 512.4h0M282.2 523.6h0M290.3 523.3h0M289.6 513.2h0M281.8 516.3h0M288.8 522.2h0M282.9 511.1h0M290.3 521.0h0M296.1 515.9h0M280.7 512.8h0M280.9 517.4h0M299.2 518.9h0M279.3 518.7h0M291.9 513.4h0M285.6 511.9h0M277.6 511.0h0M283.0 515.4h0M276.2 517.5h0M277.5 508.6h0M285.3 512.5h0M273.6 517.3h0M284.2 512.8h0M277.4 519.6h0M275.1 516.6h0M287.8 513.3h0M280.5 515.2h0M287.6 511.0h0M279.7 514.3h0M287.9 517.9h0M283.2 522.9h0M273.6 513.0h0M288.3 515.1h0M289.5 521.4h0M273.8 519.6h0M279.9 517.3h0M293.3 514.2h0M286.8 510.7h0M295.7 514.0h0M286.2 517.0h0M293.6 518.0h0M274.6 516.4h0M287.1 517.8h0M290.1 512.8h0M285.7 518.0h0M287.6 509.5h0M296.6 523.4h0M288.3 519.0h0M276.2 511.5h0M284.9 515.9h0M283.9 518.5h0M291.9 519.0h0M287.9 519.5h0M279.6 510.4h0M275.1 515.0h0M281.5 514.2h0M286.5 525.9h0M283.4 524.7h0M288.9 517.5h0M282.0 514.0h0M292.4 516.3h0M290.5 512.5h0M286.0 514.8h0M281.1 518.6h0M281.8 517.7h0M288.7 519.8h0M292.2 514.7h0M276.0 509.8h0M277.2 514.0h0M278.0 513.7h0M285.4 517.9h0M288.0 513.0h0M284.6 515.2h0M299.8 517.2h0M279.7 520.1h0M278.4 512.8h0M278.0 524.5h0M283.9 516.7h0M300.1 517.5h0M284.4 519.9h0M277.8 514.0h0M278.5 521.4h0M281.5 515.6h0M281.3 510.8h0M283.6 510.5h0M286.1 516.6h0M287.3 514.4h0M310.3 515.5h0M289.9 511.8h0M295.3 518.1h0M274.7 520.8h0M285.9 515.8h0M280.4 518.4h0M291.1 524.5h0M280.9 511.9h0M284.6 511.5h0M291.5 517.2h0M279.9 511.1h0M285.9 513.5h0M276.1 512.5h0M280.6 520.5h0M272.5 520.4h0M289.7 511.4h0M281.2 511.7h0M282.9 513.2h0M289.6 518.3h0M286.2 516.1h0M281.2 515.4h0M293.3 517.4h0M281.9 513.8h0M277.3 513.9h0M274.5 516.9h0M286.6 509.9h0M293.8 515.3h0M283.2 518.7h0M280.0 510.2h0M298.2 515.6h0M282.0 517.4h0M279.1 512.9h0M281.9 514.3h0M277.3 513.1h0M286.6 516.5h0M275.8 518.3h0M285.3 514.2h0M288.0 515.7h0M288.2 516.0h0M277.0 510.0h0M285.8 519.9h0M292.8 513.2h0M284.6 514.8h0M289.5 514.2h0M287.4 523.2h0M273.3 517.8h0M284.7 515.6h0M284.0 521.9h0M286.7 517.9h0M275.6 511.3h0M285.6 518.4h0M285.1 512.7h0M278.5 519.8h0M292.7 516.1h0M278.6 518.7h0M291.8 513.3h0M279.9 515.0h0M285.1 514.5h0M280.6 517.6h0M284.7 518.4h0M287.1 522.8h0M290.0 517.2h0M285.7 516.7h0M281.1 519.3h0M288.6 514.1h0M299.8 509.6h0M277.3 516.5h0M292.4 510.1h0M288.3 516.3h0M280.4 520.7h0M278.6 515.8h0M287.9 519.3h0M288.3 513.8h0M276.7 523.7h0M288.5 517.7h0M286.4 519.2h0M288.7 514.8h0M281.5 518.7h0M282.2 516.8h0M272.6 519.5h0M288.8 514.7h0M285.5 517.0h0M279.9 518.0h0M284.2 513.6h0M279.1 518.0h0M275.9 518.5h0M291.1 509.3h0M279.3 521.9h0M272.8 512.2h0M274.4 512.4h0M287.3 515.2h0M280.9 508.5h0M279.2 512.6h0M290.5 520.9h0M284.4 522.5h0M292.6 516.8h0M273.1 514.3h0M281.2 518.8h0M285.3 521.2h0M272.4 522.2h0M285.5 521.3h0M280.9 517.1h0M289.9 521.1h0M283.5 518.5h0M278.2 515.1h0M287.1 522.9h0M279.6 520.5h0M291.2 514.4h0M282.7 518.3h0M275.0 518.9h0M300.9 522.7h0M293.4 512.5h0M282.2 516.5h0M300.4 522.0h0M287.1 517.4h0M282.4 510.5h0M281.2 512.6h0M281.5 525.7h0M285.5 515.2h0M288.5 516.1h0M278.4 520.1h0M287.3 513.6h0M281.1 516.5h0M284.6 523.1h0M280.8 516.3h0M289.6 515.9h0M286.1 517.3h0M288.7 515.7h0M284.3 514.2h0M288.5 516.0h0M288.6 519.9h0M275.0 519.8h0M289.6 511.6h0M286.0 515.5h0M285.8 516.1h0M293.3 515.3h0M279.5 513.5h0M286.3 517.1h0M274.0 513.9h0M279.6 517.3h0M287.0 515.9h0M285.1 521.8h0M286.4 518.5h0M283.9 505.3h0M277.6 511.1h0M284.2 520.2h0M288.2 523.4h0M277.2 515.0h0M295.7 519.5h0M284.2 513.2h0M282.0 518.5h0M284.9 517.4h0M283.5 514.4h0M284.9 522.0h0M282.6 511.5h0M282.3 514.8h0M290.5 517.6h0M285.7 516.0h0M283.7 522.0h0M282.8 520.8h0M277.1 513.5h0M279.9 520.2h0M299.9 523.3h0M281.1 514.0h0M287.9 517.8h0M284.5 514.5h0M276.8 512.0h0M288.8 522.5h0M283.5 508.5h0M290.4 521.2h0M284.5 515.7h0M289.8 514.6h0M289.4 514.5h0M294.2 511.1h0M282.8 513.8h0M283.4 517.6h0M288.8 520.7h0M296.2 519.7h0M281.6 514.1h0M272.6 514.6h0M280.7 510.4h0M282.4 514.7h0M294.5 515.7h0M291.5 509.6h0M285.1 517.2h0M279.2 518.1h0M285.7 513.5h0M288.1 517.1h0M290.5 517.7h0M282.1 519.4h0M277.4 520.0h0M280.3 515.8h0M282.1 513.0h0M282.7 512.7h0M283.3 515.8h0M283.7 518.6h0M278.7 518.0h0M284.6 518.5h0M281.0 516.9h0M286.7 515.1h0M286.1 512.0h0M288.7 515.1h0M295.0 519.1h0M294.1 519.3h0M300.8 522.4h0M292.6 524.8h0M290.7 518.2h0M298.1 521.8h0M292.3 522.5h0M289.7 515.3h0M296.1 512.5h0M297.8 530.9h0M294.2 523.9h0M296.7 526.7h0M295.4 522.6h0M296.1 516.5h0M291.0 517.2h0M297.6 526.3h0M298.0 519.6h0M293.5 525.4h0M295.7 514.7h0M293.7 522.5h0M298.4 518.2h0M289.3 513.8h0M288.2 514.5h0M295.3 524.3h0M293.0 525.5h0M295.7 523.7h0M294.9 523.2h0M295.8 517.6h0M295.1 515.9h0M298.1 526.2h0M295.3 518.4h0M298.0 519.5h0M291.0 520.8h0M296.6 520.6h0M291.1 523.1h0M294.6 520.1h0M296.3 518.4h0M298.2 523.3h0M298.2 520.7h0M291.7 523.9h0M293.4 528.6h0M296.4 519.6h0M291.8 518.0h0M296.3 521.9h0M297.0 519.7h0M299.9 520.8h0M295.2 521.1h0M294.5 521.7h0M297.3 515.8h0M296.6 524.9h0M289.1 521.3h0M293.6 527.4h0M298.9 521.4h0M291.2 522.4h0M294.8 524.6h0M291.7 517.1h0M291.8 517.0h0M294.7 516.0h0M293.6 517.6h0M292.8 523.4h0" stroke="#4a5ae6" stroke-width="0.7" stroke-linecap="square"/>
<g filter="url(#bl3)"><path d="M272.0,513.9 L278.0,511.4 L289.0,510.8 L293.0,513.4 L291.5,518.9 L288.0,522.9 L283.0,520.4 L276.0,517.4 Z" fill="#5870ee" opacity="0.8" stroke="#5870ee" stroke-width="1.2" stroke-linejoin="round"/><path d="M277.5,513.4 L289.5,511.8 L291.0,515.9 L287.5,519.9 L282.5,517.4 Z" fill="#30b8e0" opacity="0.95" stroke="#30b8e0" stroke-width="1.2" stroke-linejoin="round"/></g>
<g filter="url(#bl2)"><ellipse cx="286.0" cy="514.7" rx="3.3" ry="2.7" fill="#5cc84a"/><ellipse cx="286.3" cy="514.1" rx="1.6" ry="1.3" fill="#c8e040"/></g>
<line x1="291.5" y1="499.8" x2="291.5" y2="541.6" stroke="#555" stroke-width="0.7" />
<line x1="271.8" y1="518.8" x2="314.5" y2="518.8" stroke="#555" stroke-width="0.7" />
<rect x="291.50" y="499.80" width="23.00" height="19.00" fill="none" stroke="#444" stroke-width="0.8" />
<text x="312.7" y="505.40000000000003" font-size="5.3" text-anchor="end" fill="#444" >1.2%</text>
<rect x="183.60" y="543.90" width="42.60" height="42.50" fill="#fff" stroke="#9a9a9a" stroke-width="0.8" />
<path d="M202.6 554.7h0M199.7 554.1h0M194.1 555.8h0M196.2 555.4h0M194.3 556.6h0M207.0 556.6h0M200.5 554.9h0M194.0 553.6h0M192.1 556.9h0M196.0 554.1h0M194.2 557.6h0M209.6 555.4h0M199.0 553.2h0M209.8 552.3h0M200.5 554.6h0M195.1 556.4h0M188.7 556.9h0M193.6 555.7h0M199.5 556.6h0M203.5 550.7h0M198.4 555.5h0M197.8 556.8h0M194.8 555.9h0M192.6 555.8h0M194.0 553.7h0M196.6 555.6h0M203.0 554.8h0M201.1 554.2h0M211.1 559.2h0M195.1 555.7h0M209.3 554.4h0M207.5 559.1h0M199.9 556.4h0M204.2 559.2h0M193.1 553.9h0M196.8 553.9h0M200.0 555.9h0M198.6 558.5h0M199.5 555.9h0M198.3 555.9h0M200.6 556.0h0M201.4 557.0h0M202.5 553.0h0M200.0 555.6h0M195.2 557.7h0M192.1 556.4h0M196.8 552.5h0M198.2 557.4h0M204.2 555.5h0M208.0 553.1h0M200.7 552.7h0M197.8 553.8h0M199.5 557.7h0M199.3 556.9h0M200.5 556.5h0M200.8 555.7h0M198.0 554.9h0M196.1 552.3h0M200.9 557.8h0M188.6 552.5h0M196.0 554.8h0M201.0 556.1h0M204.1 558.7h0M199.5 554.7h0M199.6 550.9h0M199.2 558.2h0M198.6 557.9h0M198.4 554.1h0M191.1 555.5h0M206.7 551.5h0M202.3 554.3h0M191.8 559.5h0M204.0 552.5h0M188.5 552.1h0M200.3 556.6h0M198.4 553.8h0M193.6 553.5h0M195.2 554.4h0M204.4 555.0h0M202.5 555.6h0M188.1 555.1h0M188.8 552.2h0M197.3 556.3h0M187.6 557.1h0M188.7 554.5h0M203.5 551.6h0M197.0 555.6h0M196.1 555.2h0M195.5 556.7h0M194.5 557.5h0M193.2 550.6h0M203.5 552.3h0M201.7 558.0h0M194.1 557.2h0M202.8 556.9h0M208.0 554.5h0M199.2 554.7h0M200.9 553.7h0M194.9 557.8h0M196.4 557.1h0M203.5 553.9h0M192.2 556.3h0M200.1 556.0h0M202.7 556.0h0M199.1 555.2h0M195.4 559.9h0M200.0 558.1h0M205.0 553.4h0M194.8 556.8h0M197.4 557.5h0M204.7 555.3h0M187.2 557.5h0M195.2 556.6h0M195.7 555.5h0M198.4 555.5h0M197.2 556.0h0M200.3 560.0h0M203.0 558.7h0M197.2 555.0h0M199.7 555.4h0M204.1 550.8h0M194.1 556.8h0M192.5 557.9h0M196.1 554.7h0M200.0 556.6h0M200.1 556.1h0M195.4 555.6h0M196.2 553.9h0M199.9 555.3h0M194.1 553.9h0M198.1 555.1h0M202.8 560.3h0M193.5 556.0h0M203.8 557.1h0M204.9 555.0h0M204.9 554.7h0M205.0 555.9h0M184.8 553.3h0M200.2 552.3h0M201.7 557.4h0M198.4 552.9h0M196.3 555.1h0M196.0 555.4h0M206.1 556.1h0M195.2 556.4h0M196.1 555.8h0M189.1 551.5h0M201.3 551.3h0M192.4 550.7h0M195.9 556.1h0M198.4 555.9h0M198.8 556.6h0M202.5 558.8h0M194.9 557.0h0M204.4 558.1h0M197.7 560.2h0M198.8 555.8h0M200.7 553.3h0M202.7 552.8h0M197.0 554.0h0M196.8 554.8h0M206.4 553.3h0M196.4 554.8h0M199.3 558.0h0M207.1 559.7h0M203.2 554.5h0M198.5 558.2h0M203.5 555.5h0M197.8 553.2h0M200.9 557.0h0M191.3 557.1h0M195.4 556.6h0M208.1 558.3h0M201.0 553.7h0M198.1 553.3h0M197.9 556.5h0M197.7 555.4h0M200.5 554.9h0M202.6 554.6h0M196.7 554.3h0M200.5 559.2h0M192.0 554.8h0M193.7 557.9h0M210.9 554.9h0M202.6 553.7h0M189.2 557.3h0M200.3 553.7h0M197.6 555.6h0M194.1 553.7h0M206.4 559.4h0M196.8 553.1h0M201.2 553.1h0M197.2 555.6h0M196.5 553.2h0M191.6 555.1h0M197.5 552.2h0M190.7 548.6h0M186.9 559.1h0M206.3 558.0h0M193.5 554.2h0M198.0 556.9h0M193.9 557.3h0M205.9 555.7h0M202.6 553.5h0M197.4 554.6h0M197.5 556.0h0M209.9 554.9h0M194.6 556.1h0M191.9 553.0h0M199.3 557.1h0M200.7 552.5h0M200.7 557.2h0M200.7 552.8h0M209.4 555.6h0M187.5 557.5h0M204.8 556.4h0M201.2 555.3h0M199.7 553.5h0M203.5 556.2h0M200.4 553.5h0M201.7 556.4h0M190.0 556.2h0M203.6 557.4h0M195.9 558.0h0M207.3 554.3h0M205.8 556.8h0M192.3 555.2h0M205.8 554.3h0M204.7 556.7h0M200.6 554.8h0" stroke="#4a5ae6" stroke-width="0.7" stroke-linecap="square"/>
<path d="M204.2 561.1h0M204.6 557.7h0M202.9 557.7h0M205.5 557.1h0M206.4 562.6h0M206.5 559.2h0M205.7 564.3h0M205.0 566.0h0M209.0 550.6h0M204.4 553.2h0M202.5 567.6h0M203.1 557.5h0M203.8 558.7h0M206.9 561.1h0M205.4 557.7h0M205.0 557.7h0M202.8 563.7h0M202.9 558.7h0M204.9 569.6h0M204.2 558.0h0M209.7 554.1h0M204.9 568.0h0M202.8 563.1h0M205.7 560.4h0M204.9 564.0h0" stroke="#5a6af0" stroke-width="0.7" stroke-linecap="square"/>
<path d="M195.7 558.8h0M195.1 557.3h0M188.4 554.2h0M192.2 554.5h0M196.3 555.0h0M192.6 555.8h0M191.5 556.5h0M194.5 558.4h0M188.4 556.1h0M196.0 556.8h0M190.1 558.6h0M189.8 556.1h0M195.1 556.6h0M192.3 555.1h0M197.3 555.1h0M194.3 556.1h0M190.5 556.5h0M192.6 555.7h0M195.6 557.7h0M192.0 554.2h0M187.2 555.0h0M196.4 554.7h0M192.4 553.6h0M192.0 553.8h0M194.9 553.8h0M194.9 554.7h0M195.8 555.6h0M194.9 556.6h0M194.4 555.4h0M191.7 556.8h0M193.7 557.4h0M190.6 556.6h0M189.3 555.8h0M192.3 556.1h0M194.7 554.3h0M192.9 556.8h0M193.0 558.7h0M193.3 557.2h0M190.6 556.3h0M195.0 556.9h0" stroke="#4a5ae6" stroke-width="0.7" stroke-linecap="square"/>
<g filter="url(#bl2)"><ellipse cx="198.60" cy="555.00" rx="7.5" ry="3.0" fill="#5870ee" opacity="0.9" transform="rotate(-10 198.60 555.00)"/><ellipse cx="199.60" cy="554.80" rx="5.0" ry="2.3" fill="#30b8e0" opacity="0.95" transform="rotate(-10 199.60 554.80)"/><ellipse cx="200.10" cy="554.70" rx="3.4" ry="1.7" fill="#5cc84a" opacity="1" transform="rotate(-10 200.10 554.70)"/><ellipse cx="200.60" cy="554.60" rx="2.0" ry="1.2" fill="#e8d830" opacity="1" transform="rotate(-10 200.60 554.60)"/><ellipse cx="200.90" cy="554.60" rx="1.1" ry="0.8" fill="#e03020" opacity="1" transform="rotate(-10 200.90 554.60)"/></g>
<line x1="203.9" y1="543.9" x2="203.9" y2="586.4" stroke="#555" stroke-width="0.7" />
<line x1="183.6" y1="562.6" x2="226.2" y2="562.6" stroke="#555" stroke-width="0.7" />
<rect x="203.90" y="543.90" width="22.30" height="18.70" fill="none" stroke="#444" stroke-width="0.8" />
<text x="224.39999999999998" y="549.5" font-size="5.3" text-anchor="end" fill="#444" >3.9%</text>
<rect x="227.70" y="543.90" width="42.70" height="42.50" fill="#fff" stroke="#9a9a9a" stroke-width="0.8" />
<line x1="228.6" y1="543.9" x2="228.6" y2="586.4" stroke="#d0d0d0" stroke-width="1.0" />
<path d="M243.4 558.0h0M248.1 558.7h0M234.8 563.5h0M243.4 562.5h0M237.7 561.6h0M238.5 556.8h0M237.9 562.3h0M243.2 566.2h0M246.1 558.3h0M243.2 557.2h0M241.8 557.5h0M235.9 558.7h0M248.5 555.6h0M243.6 561.4h0M237.5 561.0h0M242.6 569.6h0M242.5 560.0h0M249.8 561.0h0M253.4 557.7h0M238.0 554.5h0M234.6 560.8h0M243.3 558.9h0M237.6 554.8h0M247.2 565.7h0M249.2 569.0h0M242.1 556.1h0M238.8 562.2h0M236.7 552.7h0M247.2 565.7h0M234.5 564.0h0M244.6 559.8h0M250.9 557.9h0M246.4 564.2h0M241.2 561.5h0M246.8 561.6h0M243.1 559.3h0M231.0 556.3h0M235.3 564.9h0M233.0 556.7h0M238.2 561.9h0M244.8 562.3h0M252.0 566.4h0M249.2 565.7h0M242.4 556.1h0M245.3 561.1h0M247.2 558.8h0M242.1 558.4h0M246.9 561.3h0M239.1 562.4h0M236.5 556.4h0M236.6 559.1h0M237.5 561.9h0M235.9 559.1h0M232.5 552.4h0M237.9 564.9h0M250.8 564.3h0M233.6 559.3h0M238.7 559.6h0M242.2 559.9h0M243.9 564.4h0M249.7 557.6h0M246.0 558.3h0M233.8 558.7h0M241.8 562.0h0M240.1 561.7h0M245.2 560.4h0M246.8 556.3h0M241.5 555.3h0M229.0 561.2h0M238.9 562.8h0M240.9 561.7h0M246.2 560.6h0M238.9 558.4h0M236.6 560.8h0M241.6 557.5h0M232.0 562.2h0M239.1 552.4h0M248.2 560.7h0M246.1 567.8h0M241.6 567.2h0M231.3 559.6h0M244.9 553.1h0M246.2 557.8h0M235.4 552.7h0M243.4 556.4h0M246.5 554.5h0M235.4 561.7h0M228.5 563.7h0M243.4 569.7h0M244.5 562.5h0M240.8 554.4h0M239.8 563.3h0M232.2 557.7h0M236.4 563.1h0M231.3 563.3h0M248.5 557.3h0M241.4 564.3h0M234.2 562.9h0M238.2 565.1h0M234.1 559.6h0M247.6 559.5h0M241.5 560.7h0M250.6 560.6h0M248.4 556.8h0M241.9 561.2h0M239.3 560.7h0M249.1 562.7h0M245.4 563.9h0M245.4 556.7h0M236.2 563.3h0M244.8 559.1h0M240.5 557.6h0M240.3 559.6h0M245.4 561.1h0M240.5 557.6h0M240.7 557.1h0M249.0 553.8h0M241.5 557.7h0M247.6 561.9h0M241.4 561.1h0M239.9 553.2h0M249.1 553.5h0M235.1 558.2h0M247.4 560.1h0M241.9 557.2h0M249.3 558.4h0M253.2 560.2h0M236.2 557.2h0M243.5 562.5h0M248.8 562.7h0M241.8 561.0h0M234.1 557.2h0M245.4 561.7h0M248.6 556.5h0M242.5 557.5h0M249.9 561.9h0M234.4 558.1h0M249.3 562.2h0M245.2 556.6h0M237.9 560.1h0M238.5 562.1h0M255.6 564.6h0M241.0 562.2h0M238.1 559.1h0M243.1 557.9h0M238.9 563.0h0M252.0 562.1h0M234.7 557.3h0M244.4 559.8h0M243.1 557.2h0M253.2 553.7h0M232.0 564.5h0M239.3 561.4h0M234.1 562.9h0M234.7 560.0h0M248.1 563.6h0M239.5 555.2h0M242.8 566.2h0M242.7 557.0h0M239.4 564.1h0M228.6 555.6h0M241.6 559.7h0M239.9 565.3h0M249.3 558.0h0M243.5 558.3h0M241.3 563.6h0M249.1 564.0h0M235.2 556.0h0M238.7 554.8h0M248.7 561.3h0M237.3 559.5h0M242.0 567.7h0M242.5 560.7h0M250.4 554.7h0M236.6 562.4h0M244.5 555.4h0M236.2 561.7h0M236.7 557.4h0M240.0 575.4h0M236.1 559.4h0M240.5 557.9h0M242.4 564.6h0M247.6 561.1h0M250.1 563.4h0M231.5 556.6h0M243.4 562.0h0M234.7 557.5h0M240.7 561.5h0M241.6 558.5h0M236.5 554.7h0M241.0 562.0h0M241.6 559.4h0M240.0 559.9h0M245.0 558.0h0M233.5 558.0h0M233.8 557.3h0M243.0 561.5h0M241.2 559.2h0M246.8 563.6h0M241.8 558.5h0M241.1 561.0h0M242.3 558.1h0M236.5 561.5h0M254.4 563.7h0M242.3 560.9h0M240.3 559.4h0M239.8 563.7h0M233.8 567.1h0M248.0 556.9h0M233.5 558.5h0M246.3 558.4h0M234.0 564.0h0M237.0 562.5h0M239.2 555.4h0M245.0 562.7h0M244.6 564.3h0M247.7 556.7h0M239.6 559.8h0M234.3 567.2h0M234.2 554.5h0M242.1 561.4h0M245.9 561.5h0M237.3 563.4h0M237.1 566.9h0M235.4 556.4h0M259.4 563.5h0M236.0 560.2h0M238.6 551.8h0M240.3 565.2h0M238.3 557.8h0M243.2 562.3h0M246.1 570.4h0M240.0 556.8h0M246.6 559.9h0M243.0 555.6h0M252.9 564.3h0M254.4 560.9h0M235.7 564.2h0M247.0 560.4h0M250.5 554.3h0M241.8 555.1h0M238.9 559.6h0M231.6 557.5h0M243.3 559.4h0M240.3 559.2h0M248.1 564.5h0M239.1 564.3h0M251.8 558.0h0M247.8 555.1h0M244.5 557.2h0M236.8 560.9h0M250.7 558.5h0M246.3 560.4h0M240.7 559.5h0M242.0 559.5h0M241.2 557.2h0M237.9 559.7h0M235.7 563.5h0M231.7 563.2h0M233.2 561.3h0M239.0 555.3h0M241.6 560.0h0M252.4 560.9h0M235.2 558.6h0M249.3 554.6h0M242.9 564.8h0M238.4 563.3h0M243.3 564.4h0M233.6 560.4h0M233.7 556.3h0M243.4 561.5h0M250.0 569.5h0M240.0 554.4h0M241.8 558.4h0M251.1 560.2h0M243.8 561.6h0M249.8 558.7h0M236.2 560.3h0M234.1 562.3h0M242.6 556.4h0M251.1 558.5h0M252.0 561.6h0M235.2 558.4h0M242.7 562.2h0M241.5 562.1h0M243.3 557.8h0M239.5 559.5h0M235.6 559.5h0M241.1 561.7h0M244.1 557.2h0M250.4 557.4h0M244.5 564.8h0M239.7 556.3h0M236.6 559.5h0M254.1 563.8h0M251.1 565.0h0M249.9 558.4h0M257.8 567.3h0M254.6 563.7h0M252.5 564.5h0M249.9 568.7h0M252.8 565.7h0M252.1 561.5h0M257.3 564.0h0M248.6 569.3h0M248.6 567.2h0M251.6 568.6h0M249.7 558.5h0M246.9 565.6h0M249.0 572.0h0M252.0 554.2h0M257.6 560.6h0M253.5 560.8h0M253.0 564.0h0M254.5 562.0h0M256.7 567.6h0M256.5 565.5h0M261.0 556.3h0M251.9 567.3h0M255.6 565.3h0M253.5 561.7h0M256.2 572.3h0M254.1 567.4h0M254.2 563.8h0M250.8 569.9h0M256.7 568.4h0M253.1 561.5h0M250.9 571.4h0M260.2 562.0h0M251.9 566.3h0M249.7 564.0h0M250.5 558.8h0M251.0 561.3h0M252.4 563.9h0M248.3 571.7h0M250.6 561.0h0M255.2 565.9h0M251.6 563.4h0M253.3 569.9h0M254.0 573.9h0M256.6 567.4h0M259.0 571.1h0M254.1 562.6h0M256.4 560.7h0M252.8 560.9h0M255.5 568.1h0M251.3 563.1h0M255.3 561.4h0M255.5 568.7h0M250.6 556.8h0M252.2 565.0h0M248.0 570.8h0M247.0 565.0h0M253.5 565.6h0" stroke="#4a5ae6" stroke-width="0.7" stroke-linecap="square"/>
<g filter="url(#bl3)"><path d="M229.5,557.8 L235.5,555.3 L246.5,554.7 L250.5,557.3 L249.0,562.8 L245.5,566.8 L240.5,564.3 L233.5,561.3 Z" fill="#5870ee" opacity="0.8" stroke="#5870ee" stroke-width="1.2" stroke-linejoin="round"/><path d="M235.0,557.3 L247.0,555.7 L248.5,559.8 L245.0,563.8 L240.0,561.3 Z" fill="#30b8e0" opacity="0.95" stroke="#30b8e0" stroke-width="1.2" stroke-linejoin="round"/></g>
<g filter="url(#bl2)"><ellipse cx="243.5" cy="558.6" rx="3.3" ry="2.7" fill="#5cc84a"/><ellipse cx="243.8" cy="558.0" rx="1.6" ry="1.3" fill="#c8e040"/></g>
<line x1="247.6" y1="543.9" x2="247.6" y2="586.4" stroke="#555" stroke-width="0.7" />
<line x1="227.7" y1="562.6" x2="270.4" y2="562.6" stroke="#555" stroke-width="0.7" />
<rect x="247.60" y="543.90" width="22.80" height="18.70" fill="none" stroke="#444" stroke-width="0.8" />
<text x="268.59999999999997" y="549.5" font-size="5.3" text-anchor="end" fill="#444" >1.8%</text>
<rect x="271.80" y="543.90" width="42.70" height="42.50" fill="#fff" stroke="#9a9a9a" stroke-width="0.8" />
<line x1="272.7" y1="543.9" x2="272.7" y2="586.4" stroke="#d0d0d0" stroke-width="1.0" />
<path d="M274.0 561.0h0M276.0 556.3h0M291.0 556.6h0M285.0 562.6h0M277.1 561.4h0M292.2 558.9h0M277.3 561.0h0M284.0 565.4h0M286.0 559.2h0M277.5 561.3h0M279.2 558.5h0M291.1 562.6h0M279.8 565.4h0M289.4 557.5h0M292.0 556.7h0M287.0 561.4h0M279.2 556.6h0M293.9 560.5h0M279.0 557.0h0M279.2 560.0h0M279.6 559.6h0M275.4 552.5h0M283.8 563.2h0M285.7 563.6h0M280.0 558.9h0M291.8 563.0h0M277.1 556.8h0M280.1 559.8h0M275.9 560.8h0M279.2 560.1h0M289.4 562.2h0M279.8 555.0h0M288.1 558.9h0M278.6 562.5h0M273.9 560.1h0M284.5 559.0h0M273.7 557.3h0M282.8 556.3h0M287.6 561.8h0M274.2 556.5h0M283.9 563.6h0M281.5 561.2h0M288.3 559.7h0M283.8 557.3h0M293.2 557.7h0M276.8 558.7h0M290.7 553.3h0M280.3 557.4h0M288.9 556.3h0M292.8 557.3h0M278.2 552.7h0M275.2 562.2h0M282.7 556.2h0M290.5 565.5h0M276.4 559.3h0M277.9 559.6h0M285.5 557.7h0M283.1 565.6h0M277.6 560.5h0M288.4 562.3h0M276.3 562.8h0M279.9 557.9h0M284.7 560.8h0M281.9 551.6h0M285.2 562.4h0M281.5 556.5h0M272.8 563.7h0M295.3 564.7h0M285.8 565.0h0M278.5 556.3h0M281.4 557.2h0M283.9 565.8h0M284.8 559.8h0M297.0 567.3h0M285.8 560.9h0M277.5 560.2h0M280.9 556.2h0M283.6 558.5h0M283.5 562.7h0M290.1 546.6h0M279.7 562.2h0M286.2 561.4h0M297.5 559.3h0M286.2 559.2h0M299.7 565.8h0M280.7 552.6h0M292.4 555.6h0M294.9 560.9h0M284.8 563.9h0M290.0 564.9h0M272.6 556.3h0M272.9 557.9h0M281.4 561.3h0M284.9 560.9h0M292.4 561.4h0M280.5 549.1h0M283.7 557.8h0M285.3 563.5h0M281.1 562.0h0M284.1 554.2h0M275.9 562.7h0M276.5 557.4h0M276.2 556.9h0M287.9 560.0h0M285.6 561.3h0M277.3 557.7h0M289.6 558.3h0M292.5 556.4h0M280.1 562.5h0M279.8 556.9h0M283.8 561.3h0M290.7 551.1h0M282.4 558.4h0M291.1 560.7h0M274.0 562.0h0M284.5 560.5h0M283.1 555.0h0M287.1 557.9h0M276.4 558.9h0M283.8 555.2h0M284.7 558.5h0M279.4 557.3h0M284.3 556.5h0M283.3 560.8h0M279.7 560.2h0M283.5 552.5h0M278.3 565.9h0M279.3 556.0h0M296.7 565.5h0M282.0 561.6h0M284.4 550.8h0M285.8 555.0h0M275.1 569.3h0M273.4 561.3h0M284.2 556.6h0M288.9 560.0h0M281.1 557.9h0M283.3 564.7h0M288.3 565.0h0M284.8 563.4h0M292.5 555.8h0M292.4 557.9h0M280.4 563.3h0M284.3 555.6h0M294.9 556.3h0M279.5 561.1h0M291.1 555.7h0M274.3 559.5h0M279.4 556.3h0M281.2 564.0h0M292.3 555.5h0M294.3 555.5h0M277.3 560.4h0M283.0 560.1h0M283.9 559.5h0M281.8 559.0h0M281.7 561.8h0M276.3 560.2h0M287.1 557.5h0M286.5 552.0h0M287.9 559.2h0M286.6 559.0h0M279.0 559.3h0M278.4 562.1h0M290.6 557.3h0M291.4 559.3h0M286.6 560.2h0M279.5 561.2h0M275.8 561.2h0M288.8 556.6h0M277.4 556.7h0M291.3 555.2h0M280.1 564.3h0M282.0 561.1h0M282.8 563.4h0M296.6 553.0h0M286.7 562.8h0M281.4 558.7h0M277.2 561.6h0M274.1 552.4h0M284.8 557.9h0M285.4 564.2h0M273.5 560.3h0M281.1 553.8h0M283.3 563.6h0M282.8 555.8h0M289.6 556.4h0M278.8 559.8h0M282.7 569.3h0M283.9 563.3h0M275.1 566.2h0M280.6 555.4h0M278.7 553.0h0M273.0 564.9h0M289.3 561.1h0M284.9 558.2h0M276.5 559.4h0M280.6 561.3h0M285.9 550.4h0M295.4 559.3h0M275.3 558.5h0M284.2 559.9h0M290.1 560.9h0M284.4 555.1h0M290.2 561.9h0M273.6 558.3h0M290.9 561.2h0M276.5 562.6h0M283.4 557.0h0M283.6 562.1h0M284.0 554.2h0M279.8 565.0h0M284.3 554.2h0M280.1 564.2h0M280.6 561.2h0M280.2 557.9h0M279.0 555.8h0M279.6 563.1h0M284.6 555.8h0M292.8 554.5h0M275.8 555.6h0M278.1 556.6h0M275.6 563.4h0M282.6 558.3h0M283.5 552.3h0M291.5 560.2h0M290.2 559.2h0M290.3 560.9h0M281.0 557.0h0M276.1 563.1h0M276.0 557.4h0M277.3 557.1h0M283.5 557.8h0M288.7 560.5h0M286.7 560.5h0M277.4 561.1h0M282.8 559.8h0M276.4 551.5h0M290.9 566.4h0M281.0 560.7h0M286.7 557.9h0M275.2 557.5h0M286.5 562.2h0M286.8 565.4h0M287.2 560.0h0M292.6 561.4h0M289.7 559.1h0M294.0 563.5h0M279.2 560.0h0M284.6 561.4h0M282.8 564.9h0M278.5 558.2h0M289.8 555.2h0M291.4 560.4h0M287.9 562.4h0M278.1 561.9h0M287.4 563.1h0M285.8 560.4h0M277.1 562.2h0M284.8 562.8h0M288.1 563.4h0M274.9 561.7h0M293.6 558.1h0M284.6 560.8h0M283.1 560.8h0M281.2 556.2h0M276.8 559.2h0M275.5 555.5h0M276.7 563.9h0M280.0 557.1h0M292.4 559.8h0M292.4 559.3h0M278.8 562.1h0M287.6 564.8h0M282.1 558.6h0M290.5 558.4h0M282.4 551.5h0M283.2 563.3h0M286.7 564.7h0M287.2 557.5h0M283.4 563.4h0M284.4 567.0h0M278.6 556.3h0M287.5 558.4h0M285.2 570.3h0M285.8 559.3h0M279.5 568.2h0M288.6 557.2h0M295.1 560.8h0M294.5 561.3h0M295.6 565.7h0M296.9 564.1h0M297.8 554.6h0M293.4 565.0h0M298.9 565.1h0M295.2 567.6h0M291.3 565.2h0M291.7 559.9h0M292.4 562.9h0M291.9 562.9h0M292.1 562.0h0M289.6 565.2h0M300.3 566.0h0M294.0 566.7h0M291.1 558.6h0M299.0 566.5h0M290.9 566.4h0M296.5 563.5h0M294.4 571.6h0M296.3 568.4h0M294.7 561.2h0M290.2 561.5h0M293.9 555.1h0M296.4 566.6h0M299.2 568.9h0M295.7 561.4h0M294.5 559.6h0M290.4 558.4h0M292.6 568.8h0M292.8 565.6h0M297.0 563.0h0M296.6 562.6h0M297.6 561.2h0M289.7 564.6h0M291.9 559.1h0M296.1 564.5h0M293.0 561.5h0M293.8 573.0h0M296.9 564.6h0M293.2 560.4h0M292.3 560.6h0M294.3 562.1h0M295.6 563.6h0M291.4 562.4h0M293.5 568.5h0M291.6 568.6h0M292.8 562.7h0M296.8 566.6h0M290.1 563.4h0M294.4 556.7h0M294.5 568.7h0M291.9 565.0h0M298.5 570.4h0M292.0 566.4h0M295.8 562.5h0M294.1 567.0h0M295.7 563.6h0M291.2 566.5h0M297.4 564.5h0" stroke="#4a5ae6" stroke-width="0.7" stroke-linecap="square"/>
<g filter="url(#bl3)"><path d="M270.8,557.8 L276.8,555.3 L287.8,554.7 L291.8,557.3 L290.3,562.8 L286.8,566.8 L281.8,564.3 L274.8,561.3 Z" fill="#5870ee" opacity="0.8" stroke="#5870ee" stroke-width="1.2" stroke-linejoin="round"/><path d="M276.3,557.3 L288.3,555.7 L289.8,559.8 L286.3,563.8 L281.3,561.3 Z" fill="#30b8e0" opacity="0.95" stroke="#30b8e0" stroke-width="1.2" stroke-linejoin="round"/></g>
<g filter="url(#bl2)"><ellipse cx="284.8" cy="558.6" rx="3.3" ry="2.7" fill="#5cc84a"/><ellipse cx="285.1" cy="558.0" rx="1.6" ry="1.3" fill="#c8e040"/></g>
<line x1="291.5" y1="543.9" x2="291.5" y2="586.4" stroke="#555" stroke-width="0.7" />
<line x1="271.8" y1="562.6" x2="314.5" y2="562.6" stroke="#555" stroke-width="0.7" />
<rect x="291.50" y="543.90" width="23.00" height="18.70" fill="none" stroke="#444" stroke-width="0.8" />
<text x="312.7" y="549.5" font-size="5.3" text-anchor="end" fill="#444" >1.0%</text>
<text transform="translate(178.9,431.15) rotate(-90) scale(0.9739,1)" font-size="6.6" text-anchor="middle" fill="#333" >Ctrl-sg1</text>
<text transform="translate(178.9,475.85) rotate(-90) scale(0.9739,1)" font-size="6.6" text-anchor="middle" fill="#333" >Ctrl-sg2</text>
<text transform="translate(178.9,520.7) rotate(-90) scale(0.9485,1)" font-size="6.6" text-anchor="middle" fill="#333" >F11-sg1</text>
<text transform="translate(178.9,565.15) rotate(-90) scale(0.9485,1)" font-size="6.6" text-anchor="middle" fill="#333" >F11-sg2</text>
<line x1="169.7" y1="592.6" x2="169.7" y2="574.5" stroke="#231f20" stroke-width="0.7" />
<path d="M169.70,572.10 L170.90,574.50 L168.50,574.50 Z" fill="#231f20"/>
<line x1="169.4" y1="592.6" x2="193.9" y2="592.6" stroke="#231f20" stroke-width="0.7" />
<path d="M196.30,592.60 L193.90,593.80 L193.90,591.40 Z" fill="#231f20"/>
<text transform="translate(166.0,583.2) rotate(-90) scale(0.7212,1)" font-size="10.2" text-anchor="middle" fill="#333" >CD49d</text>
<text x="171.0" y="602.4" font-size="9.4" fill="#333" textLength="22.1" lengthAdjust="spacingAndGlyphs" >Band3</text>
<text x="324.2" y="383.8" font-size="10.3" font-weight="bold" fill="#000" textLength="5.6" lengthAdjust="spacingAndGlyphs" >J</text>
<line x1="359" y1="389.8" x2="359" y2="448.5" stroke="#231f20" stroke-width="1.0" />
<line x1="359" y1="448.5" x2="470.4" y2="448.5" stroke="#231f20" stroke-width="1.0" />
<line x1="356.8" y1="448.5" x2="359" y2="448.5" stroke="#231f20" stroke-width="0.8" />
<text x="354" y="450.9" font-size="6.8" text-anchor="end" fill="#333" >0</text>
<line x1="356.8" y1="434.4" x2="359" y2="434.4" stroke="#231f20" stroke-width="0.8" />
<text x="354" y="436.79999999999995" font-size="6.8" text-anchor="end" fill="#333" >10</text>
<line x1="356.8" y1="420.3" x2="359" y2="420.3" stroke="#231f20" stroke-width="0.8" />
<text x="354" y="422.7" font-size="6.8" text-anchor="end" fill="#333" >20</text>
<line x1="356.8" y1="406.2" x2="359" y2="406.2" stroke="#231f20" stroke-width="0.8" />
<text x="354" y="408.59999999999997" font-size="6.8" text-anchor="end" fill="#333" >30</text>
<line x1="356.8" y1="392.1" x2="359" y2="392.1" stroke="#231f20" stroke-width="0.8" />
<text x="354" y="394.5" font-size="6.8" text-anchor="end" fill="#333" >40</text>
<rect x="363.30" y="443.85" width="5.00" height="4.65" fill="#c9c9cd" />
<line x1="365.8" y1="443.847" x2="365.8" y2="443.565" stroke="#222" stroke-width="0.75" />
<line x1="364.7" y1="443.565" x2="366.90000000000003" y2="443.565" stroke="#222" stroke-width="0.75" />
<circle cx="364.70" cy="443.56" r="1.20" fill="#1e2b55" />
<circle cx="365.80" cy="443.99" r="1.20" fill="#1e2b55" />
<circle cx="366.90" cy="443.71" r="1.20" fill="#1e2b55" />
<rect x="370.90" y="444.13" width="5.00" height="4.37" fill="#5aa83c" />
<line x1="373.40000000000003" y1="444.129" x2="373.40000000000003" y2="443.847" stroke="#222" stroke-width="0.75" />
<line x1="372.3" y1="443.847" x2="374.50000000000006" y2="443.847" stroke="#222" stroke-width="0.75" />
<circle cx="372.30" cy="444.27" r="1.20" fill="#1e2b55" />
<circle cx="373.40" cy="443.85" r="1.20" fill="#1e2b55" />
<circle cx="374.50" cy="444.13" r="1.20" fill="#1e2b55" />
<rect x="378.50" y="444.69" width="5.00" height="3.81" fill="#5ab0e8" />
<line x1="381.0" y1="444.693" x2="381.0" y2="444.27" stroke="#222" stroke-width="0.75" />
<line x1="379.9" y1="444.27" x2="382.1" y2="444.27" stroke="#222" stroke-width="0.75" />
<circle cx="379.90" cy="444.27" r="1.20" fill="#1e2b55" />
<circle cx="381.00" cy="445.12" r="1.20" fill="#1e2b55" />
<circle cx="382.10" cy="444.55" r="1.20" fill="#1e2b55" />
<rect x="386.10" y="444.83" width="5.00" height="3.67" fill="#e08a1c" />
<line x1="388.6" y1="444.834" x2="388.6" y2="444.27" stroke="#222" stroke-width="0.75" />
<line x1="387.5" y1="444.27" x2="389.70000000000005" y2="444.27" stroke="#222" stroke-width="0.75" />
<circle cx="387.50" cy="445.40" r="1.20" fill="#1e2b55" />
<circle cx="388.60" cy="444.27" r="1.20" fill="#1e2b55" />
<circle cx="389.70" cy="444.69" r="1.20" fill="#1e2b55" />
<line x1="376.90000000000003" y1="448.5" x2="376.90000000000003" y2="450.5" stroke="#231f20" stroke-width="0.8" />
<rect x="400.00" y="418.04" width="5.00" height="30.46" fill="#c9c9cd" />
<line x1="402.5" y1="418.044" x2="402.5" y2="411.276" stroke="#222" stroke-width="0.75" />
<line x1="401.4" y1="411.276" x2="403.6" y2="411.276" stroke="#222" stroke-width="0.75" />
<circle cx="401.40" cy="411.28" r="1.20" fill="#1e2b55" />
<circle cx="402.50" cy="421.15" r="1.20" fill="#1e2b55" />
<circle cx="403.60" cy="419.60" r="1.20" fill="#1e2b55" />
<rect x="407.60" y="416.21" width="5.00" height="32.29" fill="#5aa83c" />
<line x1="410.1" y1="416.211" x2="410.1" y2="409.725" stroke="#222" stroke-width="0.75" />
<line x1="409.0" y1="409.725" x2="411.20000000000005" y2="409.725" stroke="#222" stroke-width="0.75" />
<circle cx="409.00" cy="409.73" r="1.20" fill="#1e2b55" />
<circle cx="410.10" cy="421.00" r="1.20" fill="#1e2b55" />
<circle cx="411.20" cy="417.48" r="1.20" fill="#1e2b55" />
<rect x="415.20" y="443.00" width="5.00" height="5.50" fill="#5ab0e8" />
<line x1="417.7" y1="443.001" x2="417.7" y2="439.617" stroke="#222" stroke-width="0.75" />
<line x1="416.59999999999997" y1="439.617" x2="418.8" y2="439.617" stroke="#222" stroke-width="0.75" />
<circle cx="416.60" cy="439.62" r="1.20" fill="#1e2b55" />
<circle cx="417.70" cy="444.27" r="1.20" fill="#1e2b55" />
<circle cx="418.80" cy="444.98" r="1.20" fill="#1e2b55" />
<rect x="422.80" y="443.71" width="5.00" height="4.79" fill="#e08a1c" />
<line x1="425.3" y1="443.706" x2="425.3" y2="440.745" stroke="#222" stroke-width="0.75" />
<line x1="424.2" y1="440.745" x2="426.40000000000003" y2="440.745" stroke="#222" stroke-width="0.75" />
<circle cx="424.20" cy="440.75" r="1.20" fill="#1e2b55" />
<circle cx="425.30" cy="444.55" r="1.20" fill="#1e2b55" />
<circle cx="426.40" cy="444.83" r="1.20" fill="#1e2b55" />
<line x1="413.6" y1="448.5" x2="413.6" y2="450.5" stroke="#231f20" stroke-width="0.8" />
<rect x="436.70" y="399.86" width="5.00" height="48.64" fill="#c9c9cd" />
<line x1="439.2" y1="399.855" x2="439.2" y2="394.92" stroke="#222" stroke-width="0.75" />
<line x1="438.09999999999997" y1="394.92" x2="440.3" y2="394.92" stroke="#222" stroke-width="0.75" />
<circle cx="438.10" cy="394.92" r="1.20" fill="#1e2b55" />
<circle cx="439.20" cy="396.61" r="1.20" fill="#1e2b55" />
<circle cx="440.30" cy="405.50" r="1.20" fill="#1e2b55" />
<rect x="444.30" y="404.65" width="5.00" height="43.85" fill="#5aa83c" />
<line x1="446.8" y1="404.649" x2="446.8" y2="399.15" stroke="#222" stroke-width="0.75" />
<line x1="445.7" y1="399.15" x2="447.90000000000003" y2="399.15" stroke="#222" stroke-width="0.75" />
<circle cx="445.70" cy="399.15" r="1.20" fill="#1e2b55" />
<circle cx="446.80" cy="403.38" r="1.20" fill="#1e2b55" />
<circle cx="447.90" cy="410.71" r="1.20" fill="#1e2b55" />
<rect x="451.90" y="441.73" width="5.00" height="6.77" fill="#5ab0e8" />
<line x1="454.4" y1="441.732" x2="454.4" y2="431.157" stroke="#222" stroke-width="0.75" />
<line x1="453.29999999999995" y1="431.157" x2="455.5" y2="431.157" stroke="#222" stroke-width="0.75" />
<circle cx="453.30" cy="431.16" r="1.20" fill="#1e2b55" />
<circle cx="454.40" cy="446.38" r="1.20" fill="#1e2b55" />
<circle cx="455.50" cy="447.37" r="1.20" fill="#1e2b55" />
<rect x="459.50" y="441.73" width="5.00" height="6.77" fill="#e08a1c" />
<line x1="462.0" y1="441.732" x2="462.0" y2="431.157" stroke="#222" stroke-width="0.75" />
<line x1="460.9" y1="431.157" x2="463.1" y2="431.157" stroke="#222" stroke-width="0.75" />
<circle cx="460.90" cy="431.16" r="1.20" fill="#1e2b55" />
<circle cx="462.00" cy="446.38" r="1.20" fill="#1e2b55" />
<circle cx="463.10" cy="447.37" r="1.20" fill="#1e2b55" />
<line x1="450.3" y1="448.5" x2="450.3" y2="450.5" stroke="#231f20" stroke-width="0.8" />
<text x="377.1" y="461.1" font-size="7.0" text-anchor="middle" fill="#333" textLength="16" lengthAdjust="spacingAndGlyphs" >Day0</text>
<text x="414" y="461.1" font-size="7.0" text-anchor="middle" fill="#333" textLength="16" lengthAdjust="spacingAndGlyphs" >Day5</text>
<text x="450.8" y="461.1" font-size="7.0" text-anchor="middle" fill="#333" textLength="16" lengthAdjust="spacingAndGlyphs" >Day9</text>
<line x1="372" y1="425.8" x2="391.5" y2="425.8" stroke="#555" stroke-width="0.9" />
<text x="381.75" y="423.40000000000003" font-size="5.2" text-anchor="middle" fill="#333" >n.s.</text>
<line x1="372" y1="434.8" x2="383.5" y2="434.8" stroke="#555" stroke-width="0.9" />
<text x="377.75" y="432.40000000000003" font-size="5.2" text-anchor="middle" fill="#333" >n.s.</text>
<line x1="410.6" y1="399.2" x2="428.5" y2="399.2" stroke="#555" stroke-width="0.9" />
<text x="419.55" y="398.1" font-size="5.2" text-anchor="middle" fill="#333" >**</text>
<line x1="410.6" y1="406" x2="422.3" y2="406" stroke="#555" stroke-width="0.9" />
<text x="416.45000000000005" y="404.90000000000003" font-size="5.2" text-anchor="middle" fill="#333" >**</text>
<line x1="448" y1="388.8" x2="465.4" y2="388.8" stroke="#555" stroke-width="0.9" />
<text x="456.7" y="387.8" font-size="5.2" text-anchor="middle" fill="#333" >**</text>
<line x1="448" y1="395.4" x2="458.8" y2="395.4" stroke="#555" stroke-width="0.9" />
<text x="453.4" y="394.5" font-size="5.2" text-anchor="middle" fill="#333" >**</text>
<text transform="translate(341.0,420) rotate(-90)" font-size="8.2" text-anchor="middle" fill="#333">% band3<tspan font-size="4.8" dy="-3">+</tspan></text>
<rect x="474.10" y="385.10" width="4.00" height="4.00" fill="#c9c9cd" />
<text x="481.1" y="389.1" font-size="5.8" fill="#333" textLength="19.5" lengthAdjust="spacingAndGlyphs" >Ctrl-sg1</text>
<rect x="474.10" y="392.20" width="4.00" height="4.00" fill="#5aa83c" />
<text x="481.1" y="396.2" font-size="5.8" fill="#333" textLength="19.5" lengthAdjust="spacingAndGlyphs" >Ctrl-sg2</text>
<rect x="474.10" y="399.40" width="4.00" height="4.00" fill="#5ab0e8" />
<text x="481.1" y="403.4" font-size="5.8" fill="#333" textLength="19.5" lengthAdjust="spacingAndGlyphs" >F11-sg1</text>
<rect x="474.10" y="406.70" width="4.00" height="4.00" fill="#e08a1c" />
<text x="481.1" y="410.7" font-size="5.8" fill="#333" textLength="19.5" lengthAdjust="spacingAndGlyphs" >F11-sg2</text>
<text x="324.7" y="481.4" font-size="10.3" font-weight="bold" fill="#000" textLength="7.8" lengthAdjust="spacingAndGlyphs" >K</text>
<text x="347" y="487.0" font-size="6.4" fill="#333" textLength="23.4" lengthAdjust="spacingAndGlyphs" >Ctrl-sg1</text>
<text x="404" y="486.8" font-size="6.4" fill="#333" textLength="23.1" lengthAdjust="spacingAndGlyphs" >F11-sg1</text>
<text x="457.9" y="487.3" font-size="6.4" fill="#333" textLength="24" lengthAdjust="spacingAndGlyphs" >F11-sg2</text>
<clipPath id="k0"><rect x="334.2" y="492.4" width="51.19999999999999" height="68.60000000000002"/></clipPath>
<clipPath id="k1"><rect x="389.4" y="492.4" width="50.400000000000034" height="68.60000000000002"/></clipPath>
<clipPath id="k2"><rect x="444.6" y="492.2" width="51.299999999999955" height="68.40000000000003"/></clipPath>
<rect x="334.20" y="492.40" width="51.20" height="68.60" fill="#f3f3e5" />
<g clip-path="url(#k0)"><g filter="url(#bl)">
<circle cx="344.20" cy="521.20" r="3.60" fill="#dcb6d6" opacity="0.85"/>
<circle cx="377.70" cy="504.70" r="3.00" fill="#dcb6d6" opacity="0.85"/>
<circle cx="344.50" cy="544.00" r="3.60" fill="#dcb6d6" opacity="0.85"/>
<circle cx="341.50" cy="548.00" r="2.80" fill="#dcb6d6" opacity="0.85"/>
<circle cx="355.90" cy="526.70" r="2.80" fill="#dcb6d6" opacity="0.85"/>
<circle cx="358.60" cy="529.80" r="2.80" fill="#dcb6d6" opacity="0.85"/>
<circle cx="373.60" cy="525.90" r="2.80" fill="#dcb6d6" opacity="0.85"/>
<circle cx="357.70" cy="554.10" r="2.60" fill="#dcb6d6" opacity="0.85"/>
<circle cx="365.40" cy="514.10" r="4.90" fill="#6c84dc" />
<circle cx="365.70" cy="513.90" r="3.43" fill="#8456c4" />
<circle cx="366.50" cy="528.80" r="5.30" fill="#a6bbea" />
<circle cx="366.80" cy="528.60" r="3.82" fill="#9060c8" />
<circle cx="361.20" cy="537.60" r="4.40" fill="#4c5ed0" />
<circle cx="361.50" cy="537.40" r="2.73" fill="#7a4cc0" />
<circle cx="343.00" cy="553.50" r="4.00" fill="#4c5ed0" />
<circle cx="343.30" cy="553.30" r="2.48" fill="#7a4cc0" />
<circle cx="336.00" cy="553.50" r="3.00" fill="#9a66c6" />
<circle cx="335.90" cy="514.10" r="2.50" fill="#9a66c6" />
<circle cx="380.60" cy="559.40" r="2.50" fill="#9a66c6" />
<circle cx="365.40" cy="521.50" r="1.90" fill="#3c2c9c" />
<circle cx="355.90" cy="526.70" r="1.50" fill="#3c2c9c" />
<circle cx="358.60" cy="529.80" r="1.40" fill="#3c2c9c" />
<circle cx="373.60" cy="525.90" r="1.50" fill="#3c2c9c" />
<circle cx="372.40" cy="494.10" r="1.50" fill="#3c2c9c" />
<circle cx="377.70" cy="504.70" r="1.20" fill="#3c2c9c" />
<circle cx="346.50" cy="547.60" r="1.80" fill="#3c2c9c" />
<circle cx="357.70" cy="554.10" r="1.50" fill="#3c2c9c" />
</g></g>
<rect x="334.20" y="492.40" width="51.20" height="68.60" fill="none" stroke="#8a8a8a" stroke-width="0.8" />
<rect x="389.40" y="492.40" width="50.40" height="68.60" fill="#f3f3e5" />
<g clip-path="url(#k1)"><g filter="url(#bl)">
<circle cx="412.90" cy="511.80" r="5.00" fill="#4c5ed0" />
<circle cx="413.20" cy="511.60" r="3.10" fill="#7a4cc0" />
<circle cx="416.80" cy="519.40" r="3.50" fill="#4c5ed0" />
<circle cx="417.10" cy="519.20" r="2.17" fill="#7a4cc0" />
<circle cx="422.70" cy="518.80" r="4.00" fill="#4c5ed0" />
<circle cx="423.00" cy="518.60" r="2.48" fill="#7a4cc0" />
<circle cx="426.80" cy="523.50" r="3.50" fill="#6c84dc" />
<circle cx="427.10" cy="523.30" r="2.45" fill="#8456c4" />
<circle cx="412.70" cy="524.10" r="5.00" fill="#4c5ed0" />
<circle cx="413.00" cy="523.90" r="3.10" fill="#7a4cc0" />
<circle cx="422.10" cy="526.50" r="5.00" fill="#4c5ed0" />
<circle cx="422.40" cy="526.30" r="3.10" fill="#7a4cc0" />
<circle cx="429.80" cy="533.30" r="4.00" fill="#6c84dc" />
<circle cx="430.10" cy="533.10" r="2.80" fill="#8456c4" />
<circle cx="419.80" cy="541.20" r="5.00" fill="#6c84dc" />
<circle cx="420.10" cy="541.00" r="3.50" fill="#8456c4" />
<circle cx="427.80" cy="543.50" r="3.80" fill="#6c84dc" />
<circle cx="428.10" cy="543.30" r="2.66" fill="#8456c4" />
<circle cx="419.20" cy="550.00" r="3.30" fill="#9a66c6" />
<circle cx="425.40" cy="551.20" r="3.20" fill="#9a66c6" />
<circle cx="425.90" cy="557.10" r="3.30" fill="#6c84dc" />
<circle cx="426.20" cy="556.90" r="2.31" fill="#8456c4" />
<circle cx="436.20" cy="495.30" r="4.00" fill="#4c5ed0" />
<circle cx="436.50" cy="495.10" r="2.48" fill="#7a4cc0" />
<circle cx="436.20" cy="557.10" r="2.50" fill="#6c84dc" />
<circle cx="436.50" cy="556.90" r="1.75" fill="#8456c4" />
<circle cx="401.00" cy="497.00" r="0.90" fill="#dcb6d6" opacity="0.85"/>
<circle cx="432.00" cy="525.00" r="0.90" fill="#dcb6d6" opacity="0.85"/>
</g></g>
<rect x="389.40" y="492.40" width="50.40" height="68.60" fill="none" stroke="#8a8a8a" stroke-width="0.8" />
<line x1="397.2" y1="514.1" x2="402.2" y2="514.1" stroke="#e02a30" stroke-width="0.8" />
<path d="M404.80,514.10 L402.20,515.60 L402.20,512.60 Z" fill="#e02a30"/>
<line x1="398.4" y1="527.1" x2="403.59999999999997" y2="527.1" stroke="#e02a30" stroke-width="0.8" />
<path d="M406.20,527.10 L403.60,528.60 L403.60,525.60 Z" fill="#e02a30"/>
<line x1="408.6" y1="531.8" x2="413.79999999999995" y2="531.8" stroke="#e02a30" stroke-width="0.8" />
<path d="M416.40,531.80 L413.80,533.30 L413.80,530.30 Z" fill="#e02a30"/>
<line x1="405.1" y1="541.4" x2="410.29999999999995" y2="541.4" stroke="#e02a30" stroke-width="0.8" />
<path d="M412.90,541.40 L410.30,542.90 L410.30,539.90 Z" fill="#e02a30"/>
<line x1="420.4" y1="496.5" x2="425.0" y2="496.5" stroke="#e02a30" stroke-width="0.8" />
<path d="M427.60,496.50 L425.00,498.00 L425.00,495.00 Z" fill="#e02a30"/>
<rect x="444.60" y="492.20" width="51.30" height="68.40" fill="#f3f3e5" />
<g clip-path="url(#k2)"><g filter="url(#bl)">
<circle cx="462.60" cy="524.10" r="3.00" fill="#dcb6d6" opacity="0.85"/>
<circle cx="472.60" cy="537.10" r="1.50" fill="#dcb6d6" opacity="0.85"/>
<circle cx="446.70" cy="494.70" r="3.00" fill="#9a66c6" />
<circle cx="452.60" cy="495.30" r="3.50" fill="#9a66c6" />
<circle cx="448.50" cy="504.10" r="3.50" fill="#6c84dc" />
<circle cx="448.80" cy="503.90" r="2.45" fill="#8456c4" />
<circle cx="470.20" cy="497.10" r="3.00" fill="#6c84dc" />
<circle cx="470.50" cy="496.90" r="2.10" fill="#8456c4" />
<circle cx="470.20" cy="503.50" r="3.80" fill="#9a66c6" />
<circle cx="481.40" cy="501.80" r="3.20" fill="#6c84dc" />
<circle cx="481.70" cy="501.60" r="2.24" fill="#8456c4" />
<circle cx="485.50" cy="497.60" r="3.50" fill="#9a66c6" />
<circle cx="491.40" cy="505.30" r="5.00" fill="#a6bbea" />
<circle cx="491.70" cy="505.10" r="3.60" fill="#9060c8" />
<circle cx="493.80" cy="497.10" r="3.00" fill="#6c84dc" />
<circle cx="494.10" cy="496.90" r="2.10" fill="#8456c4" />
<circle cx="493.80" cy="511.20" r="3.00" fill="#4c5ed0" />
<circle cx="494.10" cy="511.00" r="1.86" fill="#7a4cc0" />
<circle cx="467.30" cy="516.50" r="5.50" fill="#6c84dc" />
<circle cx="467.60" cy="516.30" r="3.85" fill="#8456c4" />
<circle cx="458.50" cy="530.00" r="3.00" fill="#3c2c9c" />
<circle cx="470.80" cy="528.80" r="3.50" fill="#a6bbea" />
<circle cx="471.10" cy="528.60" r="2.52" fill="#9060c8" />
<circle cx="486.10" cy="522.40" r="4.00" fill="#6c84dc" />
<circle cx="486.40" cy="522.20" r="2.80" fill="#8456c4" />
<circle cx="485.50" cy="531.80" r="4.50" fill="#a6bbea" />
<circle cx="485.80" cy="531.60" r="3.24" fill="#9060c8" />
<circle cx="493.80" cy="530.00" r="3.00" fill="#4c5ed0" />
<circle cx="494.10" cy="529.80" r="1.86" fill="#7a4cc0" />
<circle cx="448.50" cy="534.70" r="8.00" fill="#4c5ed0" />
<circle cx="448.80" cy="534.50" r="4.96" fill="#7a4cc0" />
<circle cx="446.70" cy="542.90" r="5.00" fill="#4c5ed0" />
<circle cx="447.00" cy="542.70" r="3.10" fill="#7a4cc0" />
<circle cx="454.90" cy="546.50" r="4.50" fill="#a6bbea" />
<circle cx="455.20" cy="546.30" r="3.24" fill="#9060c8" />
<circle cx="456.10" cy="538.20" r="3.00" fill="#9a66c6" />
<circle cx="449.10" cy="551.20" r="3.50" fill="#9a66c6" />
<circle cx="450.80" cy="555.90" r="3.00" fill="#6c84dc" />
<circle cx="451.10" cy="555.70" r="2.10" fill="#8456c4" />
<circle cx="470.80" cy="544.70" r="3.50" fill="#9a66c6" />
<circle cx="470.80" cy="549.40" r="3.00" fill="#a6bbea" />
<circle cx="471.10" cy="549.20" r="2.16" fill="#9060c8" />
<circle cx="479.60" cy="544.70" r="3.80" fill="#6c84dc" />
<circle cx="479.90" cy="544.50" r="2.66" fill="#8456c4" />
<circle cx="486.10" cy="545.30" r="3.20" fill="#9a66c6" />
<circle cx="492.60" cy="545.30" r="3.50" fill="#6c84dc" />
<circle cx="492.90" cy="545.10" r="2.45" fill="#8456c4" />
<circle cx="476.10" cy="547.60" r="3.00" fill="#a6bbea" />
<circle cx="476.40" cy="547.40" r="2.16" fill="#9060c8" />
<circle cx="492.60" cy="558.20" r="2.50" fill="#6c84dc" />
<circle cx="492.90" cy="558.00" r="1.75" fill="#8456c4" />
<circle cx="494.00" cy="520.00" r="2.50" fill="#6c84dc" />
<circle cx="494.30" cy="519.80" r="1.75" fill="#8456c4" />
</g></g>
<rect x="444.60" y="492.20" width="51.30" height="68.40" fill="none" stroke="#8a8a8a" stroke-width="0.8" />
<line x1="480.2" y1="508.2" x2="484.9" y2="508.2" stroke="#e02a30" stroke-width="0.8" />
<path d="M487.50,508.20 L484.90,509.70 L484.90,506.70 Z" fill="#e02a30"/>
<line x1="483.8" y1="517.6" x2="478.49480809418407" y2="517.2642283603914" stroke="#e02a30" stroke-width="0.8" />
<path d="M475.90,517.10 L478.59,515.77 L478.40,518.76 Z" fill="#e02a30"/>
<line x1="456.7" y1="520.6" x2="452.62701293631113" y2="523.8717437068976" stroke="#e02a30" stroke-width="0.8" />
<path d="M450.60,525.50 L451.69,522.70 L453.57,525.04 Z" fill="#e02a30"/>
<line x1="464.9" y1="551.8" x2="462.0" y2="551.8" stroke="#e02a30" stroke-width="0.8" />
<path d="M459.40,551.80 L462.00,550.30 L462.00,553.30 Z" fill="#e02a30"/>
<line x1="478.6" y1="548.6" x2="477.63954082524566" y2="549.7821035996977" stroke="#e02a30" stroke-width="0.8" />
<path d="M476.00,551.80 L476.48,548.84 L478.80,550.73 Z" fill="#e02a30"/>
<rect x="0" y="0" width="1.2" height="612" fill="#111"/>
<rect x="0" y="0" width="520" height="1.0" fill="#111"/>
<rect x="518.5" y="0" width="1.5" height="612" fill="#111"/>
<rect x="0" y="610.3" width="520" height="1.7" fill="#111"/>
</svg>
</body></html>
